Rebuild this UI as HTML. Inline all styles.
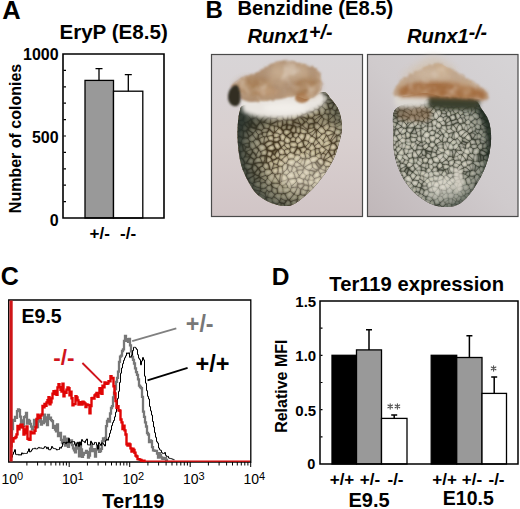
<!DOCTYPE html>
<html><head><meta charset="utf-8"><style>
html,body{margin:0;padding:0;background:#fff;width:520px;height:509px;overflow:hidden}
svg{display:block;font-family:"Liberation Sans",sans-serif}
</style></head><body>
<svg width="520" height="509" viewBox="0 0 520 509" font-family="Liberation Sans, sans-serif">
<rect width="520" height="509" fill="#fff"/>
<text x="2.2" y="19" font-size="25.5" font-weight="bold" text-anchor="start" fill="#000" >A</text>
<text x="59.4" y="38.6" font-size="20.6" font-weight="bold" text-anchor="start" fill="#000" >EryP (E8.5)</text>
<text x="58.6" y="59.8" font-size="16" font-weight="bold" text-anchor="end" fill="#000" >1000</text>
<text x="58.6" y="142.9" font-size="16" font-weight="bold" text-anchor="end" fill="#000" >500</text>
<text x="58.6" y="226" font-size="16" font-weight="bold" text-anchor="end" fill="#000" >0</text>
<text transform="translate(20.6,138.5) rotate(-90)" font-size="16" font-weight="bold" text-anchor="middle">Number of colonies</text>
<rect x="85" y="80.4" width="28.5" height="137.6" fill="#999" stroke="#000" stroke-width="1.3"/>
<rect x="113.5" y="91.2" width="29.3" height="126.8" fill="#fff" stroke="#000" stroke-width="1.3"/>
<path d="M99 80.4V68.6M95.5 68.6H102.5" stroke="#000" stroke-width="1.3" fill="none"/>
<path d="M128.3 91.2V74.7M124.80000000000001 74.7H131.8" stroke="#000" stroke-width="1.3" fill="none"/>
<path d="M63 54H164V218H63Z" fill="none" stroke="#000" stroke-width="1.6"/>
<path d="M63.5 70.4H66M63.5 86.8H66M63.5 103.2H66M63.5 119.6H66M63.5 136H66M63.5 152.4H66M63.5 168.8H66M63.5 185.2H66M63.5 201.6H66" stroke="#000" stroke-width="1.2"/>
<text x="89.5" y="238.5" font-size="17" font-weight="bold" text-anchor="start" fill="#000" >+/-</text>
<text x="120" y="238.5" font-size="17" font-weight="bold" text-anchor="start" fill="#000" >-/-</text>
<text x="205.6" y="17.6" font-size="24" font-weight="bold" text-anchor="start" fill="#000" >B</text>
<text x="237.4" y="15.4" font-size="20.2" font-weight="bold" text-anchor="start" fill="#000" >Benzidine (E8.5)</text>
<text x="247.4" y="42.7" font-size="20.2" font-weight="bold" text-anchor="start" fill="#000" font-style="italic" >Runx1<tspan font-size="19.5" dy="-3.3">+/-</tspan></text>
<text x="407" y="43" font-size="20.2" font-weight="bold" text-anchor="start" fill="#000" font-style="italic" >Runx1<tspan font-size="19.5" dy="-3.8">-/-</tspan></text>
<defs><linearGradient id="bgL" x1="0" y1="0" x2="0" y2="1"><stop offset="0" stop-color="#d8d5d7"/><stop offset="0.5" stop-color="#d9d0d0"/><stop offset="1" stop-color="#d1c5c6"/></linearGradient><linearGradient id="bgR" x1="1" y1="0" x2="0" y2="1"><stop offset="0" stop-color="#d6d4d6"/><stop offset="0.5" stop-color="#d0cbcd"/><stop offset="1" stop-color="#c0b7b9"/></linearGradient><filter id="bl1" x="-20%" y="-20%" width="140%" height="140%"><feGaussianBlur stdDeviation="1"/></filter><filter id="bl2" x="-20%" y="-20%" width="140%" height="140%"><feGaussianBlur stdDeviation="2"/></filter><filter id="bl3" x="-30%" y="-30%" width="160%" height="160%"><feGaussianBlur stdDeviation="3.5"/></filter><filter id="blm"><feGaussianBlur stdDeviation="0.75"/></filter><filter id="blL"><feGaussianBlur stdDeviation="1"/></filter><filter id="fuzz" x="-20%" y="-30%" width="140%" height="160%"><feTurbulence type="fractalNoise" baseFrequency="0.35" numOctaves="2" seed="4" result="n"/><feDisplacementMap in="SourceGraphic" in2="n" scale="5" xChannelSelector="R" yChannelSelector="G" result="d"/><feGaussianBlur in="d" stdDeviation="0.9"/></filter><filter id="fuzz2" x="-20%" y="-30%" width="140%" height="160%"><feTurbulence type="fractalNoise" baseFrequency="0.25" numOctaves="2" seed="9" result="n"/><feDisplacementMap in="SourceGraphic" in2="n" scale="4" xChannelSelector="R" yChannelSelector="G" result="d"/><feGaussianBlur in="d" stdDeviation="0.8"/></filter><linearGradient id="capL" x1="0" y1="0" x2="0" y2="1"><stop offset="0" stop-color="#c9b196"/><stop offset="0.5" stop-color="#c0a181"/><stop offset="1" stop-color="#b48b67"/></linearGradient><linearGradient id="capR" x1="0" y1="0" x2="0" y2="1"><stop offset="0" stop-color="#d7cbbd"/><stop offset="0.35" stop-color="#cdb298"/><stop offset="0.7" stop-color="#bf8f62"/><stop offset="1" stop-color="#b07a4a"/></linearGradient><radialGradient id="edgeL" cx="0.62" cy="0.5" r="0.62"><stop offset="0.5" stop-color="#26302a" stop-opacity="0"/><stop offset="0.85" stop-color="#26302a" stop-opacity="0.55"/><stop offset="1" stop-color="#26302a" stop-opacity="0.9"/></radialGradient><radialGradient id="edgeR" cx="0.4" cy="0.45" r="0.62"><stop offset="0.6" stop-color="#1f2b24" stop-opacity="0"/><stop offset="0.88" stop-color="#1f2b24" stop-opacity="0.35"/><stop offset="1" stop-color="#1f2b24" stop-opacity="0.85"/></radialGradient><filter id="mottle" x="0" y="0" width="100%" height="100%"><feTurbulence type="fractalNoise" baseFrequency="0.055" numOctaves="3" seed="5"/><feColorMatrix type="matrix" values="0 0 0 0 0.6  0 0 0 0 0.42  0 0 0 0 0.26  1.6 0 0 0 -0.72"/><feGaussianBlur stdDeviation="0.8"/></filter><filter id="mottle2" x="0" y="0" width="100%" height="100%"><feTurbulence type="fractalNoise" baseFrequency="0.06" numOctaves="3" seed="12"/><feColorMatrix type="matrix" values="0 0 0 0 0.86  0 0 0 0 0.8  0 0 0 0 0.74  1.5 0 0 0 -0.8"/><feGaussianBlur stdDeviation="0.8"/></filter></defs>
<rect x="211.5" y="54.5" width="151" height="162" fill="url(#bgL)" stroke="#4a4a4a" stroke-width="1.2"/>
<clipPath id="cbL"><path d="M239.5 112 239.1 113.8 238.7 115.9 238.4 118.2 238.1 120.8 237.9 123.3 237.7 126 237.6 128.5 237.5 131 237.5 133.4 237.5 135.8 237.6 138.3 237.7 140.7 237.8 143.1 238 145.5 238.3 147.8 238.5 150 238.8 152.2 239 154.2 239.3 156.3 239.7 158.2 240 160.2 240.5 162.1 240.9 164.1 241.5 166 242.1 167.9 242.8 169.9 243.6 171.8 244.4 173.8 245.3 175.6 246.2 177.5 247.1 179.3 248 181 248.9 182.7 249.8 184.3 250.8 185.9 251.7 187.4 252.7 188.9 253.8 190.4 254.8 191.7 256 193 257.2 194.2 258.5 195.4 259.8 196.4 261.2 197.5 262.6 198.4 264 199.3 265.5 200.2 267 201 268.5 201.8 270.1 202.5 271.8 203.2 273.4 203.8 275.1 204.3 276.8 204.8 278.4 205.2 280 205.5 281.5 205.7 283 205.9 284.5 206.1 286 206.1 287.5 206 289 205.8 290.5 205.5 292 205 293.6 204.3 295.2 203.4 296.9 202.3 298.6 201.2 300.2 199.9 301.9 198.6 303.5 197.3 305 196 306.5 194.7 307.9 193.4 309.3 192.1 310.7 190.8 312 189.4 313.4 187.9 314.7 186.5 316 185 317.3 183.5 318.6 181.9 319.9 180.3 321.2 178.7 322.4 177 323.7 175.4 324.9 173.7 326 172 327.1 170.3 328.2 168.5 329.3 166.8 330.3 165 331.3 163.2 332.3 161.5 333.2 159.7 334 158 334.7 156.4 335.4 154.8 336 153.2 336.5 151.7 337 150.1 337.5 148.5 338 146.8 338.5 145 339 143.1 339.6 141 340.2 138.9 340.7 136.8 341.2 134.6 341.6 132.3 341.9 130.2 342 128 342 125.8 341.8 123.6 341.6 121.4 341.2 119.2 340.8 117 340.3 114.9 339.7 112.9 339 111 338.2 109.2 337.4 107.5 336.4 105.9 335.4 104.4 334.3 102.9 333.2 101.5 332.1 100.2 331 99 330 97.8 329.1 96.5 328.3 95.2 327.4 94 326.4 93 325.2 92.3 323.8 91.9 322 92 319.9 92.7 317.6 93.9 315.1 95.5 312.3 97.4 309.4 99.4 306.4 101.3 303.2 102.8 300 104 296.6 104.7 292.9 105.3 289.1 105.6 285.2 105.8 281.2 105.9 277.3 105.9 273.6 106 270 106 266.5 106 262.9 105.8 259.4 105.5 256 105.2 252.7 104.9 249.8 104.8 247.2 104.8 245 105 243.4 105.4 242.2 105.9 241.4 106.5 240.8 107.2 240.4 108.1 240.2 109.2 239.9 110.5Z"/></clipPath>
<path d="M239.5 112 239.1 113.8 238.7 115.9 238.4 118.2 238.1 120.8 237.9 123.3 237.7 126 237.6 128.5 237.5 131 237.5 133.4 237.5 135.8 237.6 138.3 237.7 140.7 237.8 143.1 238 145.5 238.3 147.8 238.5 150 238.8 152.2 239 154.2 239.3 156.3 239.7 158.2 240 160.2 240.5 162.1 240.9 164.1 241.5 166 242.1 167.9 242.8 169.9 243.6 171.8 244.4 173.8 245.3 175.6 246.2 177.5 247.1 179.3 248 181 248.9 182.7 249.8 184.3 250.8 185.9 251.7 187.4 252.7 188.9 253.8 190.4 254.8 191.7 256 193 257.2 194.2 258.5 195.4 259.8 196.4 261.2 197.5 262.6 198.4 264 199.3 265.5 200.2 267 201 268.5 201.8 270.1 202.5 271.8 203.2 273.4 203.8 275.1 204.3 276.8 204.8 278.4 205.2 280 205.5 281.5 205.7 283 205.9 284.5 206.1 286 206.1 287.5 206 289 205.8 290.5 205.5 292 205 293.6 204.3 295.2 203.4 296.9 202.3 298.6 201.2 300.2 199.9 301.9 198.6 303.5 197.3 305 196 306.5 194.7 307.9 193.4 309.3 192.1 310.7 190.8 312 189.4 313.4 187.9 314.7 186.5 316 185 317.3 183.5 318.6 181.9 319.9 180.3 321.2 178.7 322.4 177 323.7 175.4 324.9 173.7 326 172 327.1 170.3 328.2 168.5 329.3 166.8 330.3 165 331.3 163.2 332.3 161.5 333.2 159.7 334 158 334.7 156.4 335.4 154.8 336 153.2 336.5 151.7 337 150.1 337.5 148.5 338 146.8 338.5 145 339 143.1 339.6 141 340.2 138.9 340.7 136.8 341.2 134.6 341.6 132.3 341.9 130.2 342 128 342 125.8 341.8 123.6 341.6 121.4 341.2 119.2 340.8 117 340.3 114.9 339.7 112.9 339 111 338.2 109.2 337.4 107.5 336.4 105.9 335.4 104.4 334.3 102.9 333.2 101.5 332.1 100.2 331 99 330 97.8 329.1 96.5 328.3 95.2 327.4 94 326.4 93 325.2 92.3 323.8 91.9 322 92 319.9 92.7 317.6 93.9 315.1 95.5 312.3 97.4 309.4 99.4 306.4 101.3 303.2 102.8 300 104 296.6 104.7 292.9 105.3 289.1 105.6 285.2 105.8 281.2 105.9 277.3 105.9 273.6 106 270 106 266.5 106 262.9 105.8 259.4 105.5 256 105.2 252.7 104.9 249.8 104.8 247.2 104.8 245 105 243.4 105.4 242.2 105.9 241.4 106.5 240.8 107.2 240.4 108.1 240.2 109.2 239.9 110.5Z" fill="#38331f" filter="url(#blm)"/>
<g clip-path="url(#cbL)">
<path d="M239.5 112 239.1 113.8 238.7 115.9 238.4 118.2 238.1 120.8 237.9 123.3 237.7 126 237.6 128.5 237.5 131 237.5 133.4 237.5 135.8 237.6 138.3 237.7 140.7 237.8 143.1 238 145.5 238.3 147.8 238.5 150 238.8 152.2 239 154.2 239.3 156.3 239.7 158.2 240 160.2 240.5 162.1 240.9 164.1 241.5 166 242.1 167.9 242.8 169.9 243.6 171.8 244.4 173.8 245.3 175.6 246.2 177.5 247.1 179.3 248 181 248.9 182.7 249.8 184.3 250.8 185.9 251.7 187.4 252.7 188.9 253.8 190.4 254.8 191.7 256 193 257.2 194.2 258.5 195.4 259.8 196.4 261.2 197.5 262.6 198.4 264 199.3 265.5 200.2 267 201 268.5 201.8 270.1 202.5 271.8 203.2 273.4 203.8 275.1 204.3 276.8 204.8 278.4 205.2 280 205.5 281.5 205.7 283 205.9 284.5 206.1 286 206.1 287.5 206 289 205.8 290.5 205.5 292 205 293.6 204.3 295.2 203.4 296.9 202.3 298.6 201.2 300.2 199.9 301.9 198.6 303.5 197.3 305 196 306.5 194.7 307.9 193.4 309.3 192.1 310.7 190.8 312 189.4 313.4 187.9 314.7 186.5 316 185 317.3 183.5 318.6 181.9 319.9 180.3 321.2 178.7 322.4 177 323.7 175.4 324.9 173.7 326 172 327.1 170.3 328.2 168.5 329.3 166.8 330.3 165 331.3 163.2 332.3 161.5 333.2 159.7 334 158 334.7 156.4 335.4 154.8 336 153.2 336.5 151.7 337 150.1 337.5 148.5 338 146.8 338.5 145 339 143.1 339.6 141 340.2 138.9 340.7 136.8 341.2 134.6 341.6 132.3 341.9 130.2 342 128 342 125.8 341.8 123.6 341.6 121.4 341.2 119.2 340.8 117 340.3 114.9 339.7 112.9 339 111 338.2 109.2 337.4 107.5 336.4 105.9 335.4 104.4 334.3 102.9 333.2 101.5 332.1 100.2 331 99 330 97.8 329.1 96.5 328.3 95.2 327.4 94 326.4 93 325.2 92.3 323.8 91.9 322 92 319.9 92.7 317.6 93.9 315.1 95.5 312.3 97.4 309.4 99.4 306.4 101.3 303.2 102.8 300 104 296.6 104.7 292.9 105.3 289.1 105.6 285.2 105.8 281.2 105.9 277.3 105.9 273.6 106 270 106 266.5 106 262.9 105.8 259.4 105.5 256 105.2 252.7 104.9 249.8 104.8 247.2 104.8 245 105 243.4 105.4 242.2 105.9 241.4 106.5 240.8 107.2 240.4 108.1 240.2 109.2 239.9 110.5Z" fill="#ddd3b5"/>
<defs>
<path id="mL0" d="M301.9 201.9Q300 200.1 297.6 198.8M305.8 196.8Q306.1 195.4 304.7 195.2M272.4 202.1Q271.4 203.3 270.3 204.3M296.9 202.1Q295.7 203.7 295.3 205.6M297.6 198.8Q298 199.6 297.1 199.6M297.6 195.8Q295.6 195.5 294.1 194.2M291.5 209.3Q291.8 207.4 291.3 205.5M258 194.8Q258.2 195.5 257.5 195.7M341.2 130.1Q342 131.3 341.2 132.6M337.5 156.6Q335.9 158.3 334.3 160M337.4 155Q337.4 155.8 337.5 156.6M332 162.5Q331.3 162 331.4 162.8M331.4 162.8Q331.2 164.9 330 166.5M331.2 168.8Q331.1 167.4 330 166.5M333.5 160.1Q332.9 161.4 332 162.5M263.4 200.2Q262.5 202.2 262.8 204.3M271.9 198.4Q272.3 200.2 272.4 202.1M335.2 114.5Q337.6 116.4 340.7 116.9M335.5 119.5Q337.2 120.6 339.1 120M326 149.6Q326.9 150.9 328.4 150.7M335.7 128.4Q335.5 128 335.5 127.6M335.5 127.6Q338.9 125.8 342.2 123.9M340 121.8Q341.4 122.4 342.2 123.7M342.2 123.9Q341.9 123.8 342.2 123.7M329.7 126.4Q332.5 126.7 335.2 127.2M334.1 122.1Q334.8 123.1 335 124.2M335 124.2Q335.8 125.6 335.2 127.2M335.5 127.6Q335.8 127.1 335.2 127.2M291.4 187.7Q291.3 186.9 291.4 186.1M290.4 191Q290.5 190.1 290.5 189.3M290.5 189.3Q290.3 188.1 291.4 187.7M290.5 189.3Q289.5 188 287.8 187.5M288.4 180.1Q290.5 182.8 291.4 186.1M318.6 184.4Q320.3 181 320.8 177.2M318.6 184.4Q318.8 184.9 319.3 185.1M324.1 178.8Q322.6 177.7 320.8 177.2M314 180.1Q313.2 181.3 314.3 182.3M314.3 182.3Q316.6 183 318.6 184.4M311.3 185.4Q310 185.4 308.7 186.1M319.5 186.4Q316.4 186.7 313.9 188.4M308.6 179.9Q311.3 180.7 314 180.1M263.4 200.2Q260.2 199.8 257.5 198M266 198Q266.3 197.9 266.2 197.6M259.2 193.5Q262.9 195.2 266.2 197.6M260.4 188.1Q261.3 188 260.8 188.7M259.2 193.5Q258.9 192.1 260 191.1M278.6 166.3Q278.6 167 277.9 167.2M324.1 178.8Q325.1 176.5 327.5 175.3M326 171.9Q326.2 173.1 327.4 172.9M330.6 171.3Q328.7 171.5 327.4 172.9M309.7 174.6Q309.5 172.5 309.2 170.5M309.2 170.5Q309.4 170.4 309.6 170.3M312.5 167.3Q311.3 169 309.6 170.3M306.3 175.7Q307.9 175 309.7 174.6M306.3 175.7Q304 174.4 302.8 172.1M302.8 172.1Q302.2 171 302.9 170M328.1 120.5Q326.1 119.3 323.8 118.9M319 158.7Q317.7 156.7 315.5 155.9M315.5 155.9Q315.7 155.4 315.6 154.9M311.8 162.9Q310.6 160.8 309.4 158.6M309.4 158.6Q309.7 157.8 310.3 157.2M326.3 135.1Q325.3 134.3 324.9 133.1M323.1 140.5Q320.7 139.5 319.4 137.3M319 148.5Q321 148.2 322 146.5M322.2 146.5Q322.1 146.6 322 146.5M316.6 138.3Q316.6 138.7 316.2 138.6M324.1 142.4Q323.6 144.6 322.2 146.5M311.1 135.9Q309 138.2 308.4 141.3M309 142.4Q309.9 143.7 311.4 143.7M306 158.7Q305.5 158.6 305.3 159.1M269.1 191.9Q267.8 194.4 267.4 197.2M267.4 197.2Q266.7 196.3 266.5 197.4M266.2 197.6Q266.7 197.9 266.5 197.4M265.7 188Q266.6 189.1 267.1 190.4M286 183.9Q284.3 185.3 282 185.9M287.8 187.5Q285.2 188.4 282.7 187.3M282.7 187.3Q283.1 190.3 283.2 193.4M280.9 198.6Q280.3 196.2 281.6 194.1M279.6 183Q279.2 182.8 279.4 182.5M279.6 183Q280.4 181.9 281.6 181.4M282.7 173.6Q281.6 177.5 281.6 181.4M283 172.5Q282.3 173 282.9 173.6M282.7 173.6Q282.9 173.9 282.9 173.6M310.1 155.5Q307.7 153.3 304.6 152.1M315.1 149.2Q312.8 149.8 310.6 150.8M324.1 142.4Q326.5 140.9 329.3 140.5M281.6 181.4Q285.2 181.1 288.2 179M304.2 152.4Q302.7 153.4 301.2 152.5M300.8 157.9Q301 156.1 299.5 155.2M301.2 152.5Q299.7 153.5 299.5 155.2M289.7 172.2Q291 172.7 291.4 171.4M271.7 182.5Q273.4 179.4 274.9 176.1M282 185.9Q280.5 186 280 184.6M288.5 179.3Q288.2 179.3 288.2 179M271.7 182.5Q269.8 180.3 267.5 178.3M265.4 175.5Q264.4 173.7 264.2 171.7M336.6 135.1Q335.5 134.4 334.5 133.5M296.8 171Q294.8 171.1 293.7 172.7M291.4 171.4Q293 171.3 293.7 172.7M287.1 155.1Q287.1 157.5 288.6 159.3M293.7 159Q295 157.2 295.1 154.9M297.1 161.7Q296.4 161.7 295.7 161.8M293.7 159Q294.7 160.4 295.7 161.8M302.7 158.6Q302.2 161.6 300.2 163.9M280 184.6Q277.8 186.2 277.1 188.8"/>
<path id="mL1" d="M235.4 118.4Q235.6 118.7 235.9 118.4M238 120.7Q237.1 119.4 235.9 118.4M241.2 129.7Q237.9 128.6 235.4 126M241.2 129.7Q241.4 129.1 241.8 129.5M244.7 122.9Q243.6 121.5 243 119.9M232.9 128.4Q234.9 130.3 236.3 132.7M236.3 132.7Q236.1 133.5 236.3 132.7M300.3 194.4Q302.4 195.7 304.7 195.2M300.3 194.4Q299.3 195.7 297.6 195.8M301.9 201.9Q304 199.5 305.8 196.8M297.6 195.8Q298.1 197.3 297.6 198.8M236.3 132.7Q237.1 134.7 238.8 136.2M243.2 138.1Q243.1 138.5 242.7 138.4M242.7 138.4Q241 140.3 240.9 142.9M251 119.2Q249 116.9 246.8 114.7M248.5 111.8Q247.8 109 245.6 107.2M243.5 109Q244.1 107.6 245.6 107.2M238.4 109.2Q240.6 106.6 242.2 103.6M253.1 118.4Q252.6 115.1 252.1 111.8M257 116Q255 114.2 254.5 111.5M248.5 111.8Q249.3 112.1 249.7 111.4M249.7 111.4Q251.1 110.8 252.1 111.8M261.5 112Q259.5 109.4 256.4 108.4M261.5 112Q259.7 114.5 257 116M286.5 206.8Q286 206.8 285.5 206.7M272.4 202.1Q274.4 203.7 277 204.2M277 204.2Q277.2 206.7 276.7 209.3M335.6 113.2Q339.2 113.4 342.8 113.4M335.6 113.2Q336.2 112.1 335.7 111M335.7 111Q336.3 110.7 336.6 110.2M342.8 113.4Q341.9 111.9 341.6 110.2M336.6 110.2Q339.1 109.2 341.6 110.2M308.6 128.3Q311.5 128.8 314.1 127.5M296.9 202.1Q298 200.9 297.1 199.6M297.1 199.6Q293.6 200 290.6 201.8M295.3 205.6Q293.3 205.1 291.3 205.5M290.6 201.8Q291.3 203.6 291.2 205.5M291.3 205.5Q291.4 205.3 291.2 205.5M302 206.1Q300 203.4 296.9 202.1M294.1 194.2Q294.1 193.9 294 194.1M294 194.1Q291.5 197 289.3 200.1M294 194.1Q291.7 193.1 290.4 191M287.9 199.7Q288.4 200.4 289.3 200.1M287.9 199.7Q286.1 196.8 284.9 193.7M290.4 191Q287.8 192.8 284.9 193.7M305.8 196.8Q307.1 197.1 307.8 198.2M304.7 195.2Q306.9 193.5 307.5 190.8M301.6 188.6Q304.2 190.6 307.5 190.8M257.5 198Q256.8 196.8 257.5 195.7M258 194.8Q255.1 191.9 251.8 189.5M251.8 189.5Q250 190.1 249 191.8M251.7 105.7Q254.1 106.6 256.3 107.6M279.6 136.7Q276.9 137.9 273.9 137.8M273.9 137.8Q273 139.8 273.7 141.8M264.8 115.9Q267 116 268.4 117.7M263.8 122.2Q262.2 122.3 260.6 122M270.1 124.2Q271.2 121.3 270.4 118.2M270.1 124.2Q266.9 123.5 263.8 122.2M270.4 118.2Q269.6 117.1 268.4 117.7M341.2 130.1Q343.3 129.5 344.2 127.5M341.2 132.6Q343.3 134 345.8 134.5M339.6 153.2Q338.9 154.7 337.4 155M333.5 160.1Q333.9 159.9 334.3 160M333.5 160.1Q331.8 158.4 331.5 156M337.4 155Q335.8 155.2 334.5 154.1M334.5 154.1Q332.7 154.6 331.5 156M324.3 160.2Q327.7 158.1 331.1 155.8M324.3 160.2Q328.1 160.8 331.4 162.8M331.1 155.8Q330.9 156.8 331.5 156M267.9 203.4Q268.8 204.7 270.3 204.3M267.9 203.4Q267.1 200.6 266 198M263.4 200.2Q264.6 199 266 198M286.1 200.9Q283.4 199.9 280.9 198.6M280.9 198.6Q280.6 200.1 279.5 201.1M279.5 201.1Q279.3 201.7 279.5 202.3M285.5 206.7Q284.1 205.7 284.1 203.9M287.9 199.7Q287.5 201 286.1 200.9M281 209.8Q280.3 206.5 281.2 203.2M277 204.2Q278.1 203.1 279.5 202.3M271.9 198.4Q273.2 198 273.7 196.8M273.7 196.8Q277.2 198.2 279.5 201.1M335.2 114.5Q334.7 113.6 335.6 113.2M344.1 115.1Q342.4 116.1 340.7 116.9M335.2 114.5Q333.9 114.5 334 115.7M334 115.7Q334.8 117.5 335.5 119.5M340.7 116.9Q340.6 118.8 339.1 120M323.1 153.3Q324.7 153.5 325.9 154.6M323.1 153.3Q324.2 151.2 326 149.6M325.9 154.6Q326.7 152.7 328.6 151.7M328.4 150.7Q329.2 151.1 328.6 151.7M323.5 159.8Q324.2 157 325.9 154.6M324 160.2Q324.1 159.3 324.3 160.2M328.4 150.7Q328.6 150 329.4 150M334.9 150.2Q332.1 150.3 329.4 150M323.3 147.1Q327.8 145.8 331.7 143.4M323.3 147.1Q325 148 326 149.6M329.4 150Q330 146.4 331.7 143.4M317.2 129.9Q319.6 128.4 321 126M317.2 129.9Q318.9 132.7 321.8 134.2M321.8 134.2Q323.3 133.5 324.9 133.1M322.6 126.6Q322.4 125.5 321.3 126M322.6 126.6Q323.7 129.1 325.6 131M325.6 131Q326.1 132.3 324.9 133.1M314.1 127.5Q315.4 127.9 315.1 129.2M317.3 122.7Q319.1 124.4 321 126M335.7 128.4Q338.4 129.6 341.2 130.1M344.2 127.5Q342.9 125.9 342.2 123.9M346.5 119.4Q343.9 121.1 342.2 123.7M339.1 120Q339.6 120.9 340 121.8M329.7 126.4Q328.7 124.6 328.4 122.6M328.4 122.6Q328.6 122.1 328.5 121.5M328.5 121.5Q331.2 122.8 334.1 122.1M327.4 130.2Q331.2 130.4 334.3 132.5M327.4 130.2Q329.2 128.8 329.7 126.4M334.3 132.5Q335.4 130.5 335.7 128.4M327.4 130.2Q326.4 130.4 325.6 131M322.6 126.6Q325.5 124.7 328.4 122.6M335.5 119.5Q335.7 121.2 334.1 122.1M340 121.8Q337.7 123.3 335 124.2M291.4 187.7Q294.5 187.3 297.6 187M291.4 186.1Q294.2 184.1 296.6 181.6M297.6 187Q297.7 187 297.7 186.9M298 183.8Q297.9 182.4 296.6 181.6M294.1 194.2Q296.3 190.8 297.6 187M286 183.9Q287.8 182.4 288.4 180.1M286 183.9Q287.8 185.3 287.8 187.5M300.5 189.3Q299.7 187.5 297.7 186.9M274.7 154.9Q275.3 156.9 276.9 158.2M278.3 150Q278.3 152.7 280 154.7M276.9 158.2Q277.7 157.7 278.6 158.1M280 154.7Q279.3 156.4 278.6 158.1M277.4 164.7Q275.6 164.2 273.8 163.8M277.4 164.7Q278 161.8 279.3 159.1M273.8 163.8Q272.6 162.5 272.2 160.8M272.4 160.3Q271.8 160.4 272.2 160.8M278.6 158.1Q278.9 158.6 279.3 159.1M278.6 166.3Q278.6 165.1 277.4 164.7M278.6 166.3Q280.4 166.1 282.2 166.5M282.2 166.5Q283.1 164.7 284.7 163.5M284.7 163.5Q283.6 161.2 281.3 160.2M281.3 160.2Q280.3 159.6 279.3 159.1M314 180.1Q314.4 179.3 314.4 178.5M314.4 178.5Q317.4 178 320 176.4M320 176.4Q319.8 177.4 320.8 177.2M308.1 190.3Q308.3 188.2 308.6 186.1M308.1 190.3Q310.6 191.2 312.7 193M313.9 188.4Q314.6 190.5 314.8 192.6M313.9 188.4Q311.9 187.5 311.3 185.4M308.7 186.1Q309 186.5 308.6 186.1M307.5 190.8Q308.2 191 308.1 190.3M314.3 182.3Q313.2 184.3 311.3 185.4M307.5 180.4Q308.4 181 308.6 179.9M307.5 180.4Q308.5 183.2 308.7 186.1M303.6 179.4Q304.1 181.6 303 183.6M303.6 179.4Q304.5 179.8 304.9 178.9M304.9 178.9Q305.7 180.5 307.5 180.4M311.8 162.9Q313.5 162.6 315.2 162.5M311.8 162.9Q312.4 163.2 311.8 163M317 170.1Q314.5 169.1 312.5 167.3M311.8 163Q312.5 165 312.5 167.3M258 194.8Q258.2 193.8 259.2 193.5M260.4 188.1Q256.6 187.6 253.3 185.4M260.8 188.7Q261.4 190 260.2 190.8M251.9 189.4Q252.2 187.3 253.3 185.4M251.9 189.4Q256 190.1 260 191.1M260 191.1Q259.8 190.7 260.2 190.8M251.8 189.5Q252.3 189.8 251.9 189.4M273.8 163.8Q272.9 166.2 272.5 168.6M272.5 168.6Q275.1 167.5 277.9 167.2M272.2 160.8Q269.6 161.1 268 163M269.5 168.9Q270.6 169.3 271.4 170M272.5 168.6Q272.1 169.4 271.4 170M242.6 158.9Q244 158.2 244.7 156.8M244.7 163.4Q245.6 163.8 246.3 163.2M244.7 156.8Q247.4 157.3 250 156.7M273 135.4Q270 135.4 267.3 136.6M267.3 136.6Q267.8 138.8 269 140.8M247.8 138.2Q248.7 139.9 249.8 141.5M249.8 141.5Q251.4 142.1 253.1 141.6M252.3 134.4Q254.2 136.5 255.8 138.9M253.1 141.6Q254.2 140 255.8 138.9M249.2 143.1Q249.6 142.4 249.8 141.5M249.2 143.1Q246 143 243.2 144.5M241.1 143.5Q239.8 146.8 237.6 149.6M240.2 151.8Q242 151.9 243.5 150.8M241.3 158.3Q239.9 155.2 240.2 151.8M241.3 158.3Q239 159.4 236.6 158.8M245.6 107.2Q244.7 105.5 245.6 103.8M251.7 105.7Q250.7 105.6 251.1 104.6M251.1 104.6Q248.3 104.6 245.6 103.8M304.8 122.2Q305.5 121.4 306.5 121.6M306.5 121.6Q307.9 120.8 307.6 119.2M280.3 134.6Q282.2 134.4 283.1 132.7M280.3 134.6Q279.4 135.5 279.6 136.7M280.3 140.3Q282 141.5 284 141M284 141Q284.5 138.2 286.3 135.9M268.7 128.7Q269 128.7 268.8 128.9M268.7 128.7Q269.7 126.9 270.3 124.8M270.3 124.8Q272.5 125 274.4 126.1M274.4 126.1Q274.2 129.3 274.6 132.5M270.1 124.2Q269.8 124.6 270.3 124.6M270.3 124.6Q269.7 124.8 270.3 124.8M264.1 128.2Q266.4 128.3 268.7 128.7M273 135.4Q272.7 134.1 273.5 133.1M280.3 134.6Q277.7 132.8 274.5 132.6M270.5 118.2Q270.1 117.8 270.4 118.2M270.5 118.2Q273.4 118.3 276.4 118.5M277.6 120.7Q277.7 119.2 276.4 118.5M274.5 104.8Q275.1 103.5 276.5 103.1M280 154.7Q282.7 155.2 285.3 154.2M281.3 160.2Q283.6 157.2 286.8 155M285.3 154.2Q286.3 154.2 286.8 155M326 171.9Q323.1 172.8 320.2 173.6M320.2 173.6Q321 175.1 320 176.4M327.5 175.3Q327.9 174.1 327.4 172.9M325.7 170.7Q325.8 168.8 326 166.8M325.7 170.7Q322.2 170.1 319.4 167.9M326 166.8Q324.3 166.1 323.5 164.4M330 166.5Q327.9 166.3 326 166.8M326 171.9Q326.2 171.2 325.7 170.7M318.1 170Q319.1 171.8 320.2 173.6M312.5 175.7Q311.4 175 310.1 174.8M309.7 174.6Q309.9 174.8 310.1 174.8M314.4 178.5Q312.7 177.6 312.5 175.7M308.6 179.9Q309.1 177.3 310.1 174.8M304.9 178.9Q305.5 177.3 306.3 175.7M302.9 170Q302.9 168.6 304.1 167.9M304.1 167.9Q306.3 169.8 309.2 170.5M311.8 163Q307.7 164.8 304.1 167.6M304.1 167.9Q304.9 167.7 304.1 167.6M335.7 111Q333.3 110.5 331.9 108.6M321.3 126Q322.3 122.4 323.8 118.9M328.5 121.5Q327.6 121.3 328.1 120.5M317.3 122.7Q319.2 119.5 321.9 116.8M323.8 118.9Q323.3 117.5 321.9 116.8M309.1 124.5Q307.2 123.6 306.5 121.6M307.7 129.8Q304.4 127.9 302.3 124.8M319 158.7Q320.1 158.8 321.1 158.5M321.1 158.5Q321.2 156.4 321.2 154.4M315.6 154.9Q317.7 153.4 320.2 152.7M321.2 154.4Q320.8 153.5 320.2 152.7M316.9 161.1Q317.8 159.8 319 158.7M310.3 157.2Q312.7 155.9 315.5 155.9M323.5 159.8Q322.4 159 321.1 158.5M323.1 153.3Q321.7 153.1 321.2 154.4M319 148.5Q317.3 148.5 315.5 148.7M319 148.5Q318.7 150.8 320.2 152.7M315.5 148.7Q315.3 149 315.1 149.2M315.1 149.2Q315.6 152 315.6 154.9M326.3 135.1Q325.3 138.1 323.1 140.5M321.8 134.2Q320.8 135.9 319.4 137.3M315.5 148.7Q315.4 147.1 314.3 146M314.3 146Q316.7 144.4 318.9 142.6M318.9 142.6Q320.2 144.8 322 146.5M323.3 147.1Q323.1 146.2 322.2 146.5M316.5 130.7Q314 133.4 311.9 136.2M316.5 130.7Q316.1 134.5 316.6 138.3M311.9 136.2Q314.1 137.3 316.1 138.6M316.1 138.6Q316 137.8 316.2 138.6M319.4 137.3Q318.3 138.5 316.6 138.3M323.1 140.5Q322.8 141.9 324.1 142.4M318.9 142.6Q317 141 316.2 138.6M314.3 146Q313 145.3 313.2 143.9M313.2 143.9Q314.4 141.1 316.1 138.6M311.1 135.9Q310.6 134 308.7 133.4M303.6 140.1Q306.1 140.5 308.4 141.3M305.5 134Q306.5 133.1 307.8 133M307.8 133Q308.4 132.8 308.7 133.4M315.1 129.2Q312.4 132 308.7 133.4M311.9 136.2Q311.4 136.2 311.1 135.9M309 142.4Q308.3 142.1 308.4 141.3M313.2 143.9Q312.4 142.9 311.4 143.7M305.3 146.9Q307.5 144.9 309 142.4M302.7 140.8Q303.1 140.3 303.6 140.1M300.3 132.7Q302.7 134.1 305.5 134M300.3 132.7Q300.4 130.2 300.3 127.7M307.6 131.4Q304.4 128.7 300.3 127.7M307.6 131.4Q306.9 132.2 307.8 133M307.7 129.8Q307.7 130.6 307.6 131.4M244.7 163.4Q244 163.8 244 164.7M244 164.7Q244.3 166.4 244.5 168.1M246.8 178.3Q246.8 177.1 245.9 176.1M245.9 176.1Q243.4 174.6 240.4 174.7M249.4 182.2Q247.9 184.7 245.6 186.2M249.4 182.2Q248.5 180.7 247.9 179.2M306 158.7Q307.7 157.9 309.4 158.6M304.1 167.6Q303.1 167.5 303.4 166.5M303.4 166.5Q304.9 162.9 305.3 159.1M265.1 193.2Q265.1 195.5 266.5 197.4M265.1 193.2Q266 191.8 267.1 190.4M269.1 191.9Q268.3 190.8 267.1 190.4M260.2 190.8Q262.4 192.5 265.1 193.2M260.8 188.7Q263.3 189.1 265.7 188M271.9 198.4Q269.7 197.7 267.4 197.2M282 185.9Q283.2 186.2 282.7 187.3M284.9 193.7Q283.9 194.5 283.2 193.4M281.6 194.1Q282.8 194.6 283.2 193.4M249.4 182.2Q250.9 183.3 252.8 183.7M252.8 183.7Q253.9 184.3 253.3 185.4M268 163Q267.2 163 266.3 162.6M279.4 182.5Q277.2 179.2 274.9 176.1M279.4 182.5Q279.9 178.2 280.6 174M280.6 174Q279.2 172.9 277.7 173.8M277.7 173.8Q276.2 173.7 275 174.5M274.9 176.1Q274.4 175.2 275 174.5M282.7 173.6Q281.8 174.8 280.6 174M282.2 166.5Q282.3 169.5 283 172.5M277.9 167.2Q278.6 170.5 277.7 173.8M271.4 170Q271.8 171.5 272.4 172.9M272.4 172.9Q274 173.2 275 174.5M243.2 144.5Q244.1 146.3 246 147M243.5 150.8Q244 151.3 244.6 151.1M244.6 151.1Q245.1 149 246 147M264.1 128.2Q263.1 129.7 261.5 130.4M252.7 133.2Q254.5 132.5 255.5 130.8M258.5 134.7Q256.4 133.2 255.5 130.8M256.2 129Q256.5 130.2 255.5 130.8M261.5 130.4Q261.5 131.6 262.2 132.6M267.1 132.2Q264.6 132.2 262.2 132.6M267.3 136.6Q267.1 136.4 266.7 136.3M267.1 132.2Q266.7 134.2 266.7 136.3M258.5 134.7Q260 133.4 262 133.9M258.6 139.3Q260.7 137.3 263.5 136.5M263.5 136.5Q264.3 136 264.7 136.9M264.7 136.9Q263.7 140.5 263.9 144.2M253.1 141.6Q255 144.4 256.4 147.5M258 138.9Q258.2 139.3 258.6 139.3M256.8 147.5Q258.4 145.2 260.8 144M262 133.9Q262.2 135.5 263.5 136.5M266.7 136.3Q265.5 135.9 264.7 136.9M251.1 104.6Q252.4 102.6 253.6 100.5M256.3 107.6Q256.5 105.9 258.1 105.3M253.6 100.5Q256.3 102.4 258.1 105.3M274.4 126.1Q276.2 125.8 277.9 126.4M277.6 120.7Q277.5 121.1 277.9 121M277.9 121Q277.1 123.7 277.9 126.4M274.6 132.5Q277.2 130.4 279.1 127.6M281.1 128.1Q280.3 127.2 279.1 127.6M287.9 108.6Q291 109.5 294.2 110.2M291.6 114.2Q293.9 113.3 295.5 111.4M287.7 119.9Q290 119.8 292.2 120.1M292.2 120.1Q291.1 117.2 291.6 114.2M295.7 111.5Q297.7 114 298 117.2M295.7 111.5Q295.4 112.3 295.5 111.4M298 117.2Q298.4 117.9 297.6 117.9M292.2 120.1Q292.3 121 293.1 120.6M287.8 108.5Q284.7 108.4 281.8 109.7M287.8 108.5Q287.4 107.8 287.8 107.2M287.8 107.2Q285 105.3 282.5 102.9M281.8 109.7Q281.3 106.5 281.6 103.4M282.9 114.3Q285.2 113.6 287.5 113.2M287.9 108.6Q287.9 108.5 287.8 108.5M293 103.3Q291.7 104.3 290.2 104M290.2 104Q288.4 105.1 287.8 107.2M284.4 150.4Q285.7 148.8 287.7 148.7M284.4 150.4Q282.4 149.6 281.2 147.8M287.7 148.7Q285.4 147.4 284.2 145M284.2 145Q282.2 145.7 281.3 147.6M285.3 154.2Q284.6 152.3 284.4 150.4M290.8 146.9Q290.7 148.2 289.7 149M290.8 146.9Q289.5 145.3 289.6 143.2M285.1 143Q287.3 144 289.6 143.2M285.1 143Q285.3 144.3 284.2 145M289.7 149Q288.7 148.6 287.7 148.7M284 141Q285.2 141.6 285.1 143M333.4 115.7Q331.3 118.5 328.3 120.2M333.4 115.7Q331.8 114.5 330.1 113.6M328.3 120.2Q329.2 117.2 328.1 114.3M330.1 113.6Q329.4 114.7 328.1 114.3M334 115.7Q333.7 116.4 333.4 115.7M328.1 120.5Q328.1 120.3 328.3 120.2M330 108.9Q329.8 111.3 330.1 113.6M324.9 113.5Q323.3 114.7 321.6 115.9M324.9 113.5Q326.4 114.2 328.1 114.3M321.9 116.8Q321.4 116.5 321.6 115.9M329.4 108.7Q327.7 109.5 325.7 109.9M325.7 109.9Q324.8 111.5 324.9 113.5M295.7 111.5Q297 110.8 298.1 109.8M298 117.2Q299 117.4 299.9 117.1M302.7 100.6Q300.2 103.2 299 106.7M299 106.7Q297.1 104.1 294.7 101.8M303.5 96.8Q306.4 98.8 309.7 100.1M305.8 103Q303.6 102.6 302.7 100.6M305.8 103Q306.3 102.9 305.8 103M299.3 108.3Q298.8 107.6 299 106.7M293 103.3Q294.1 102.9 294.7 101.8M321.6 115.9Q320.7 116.5 320.9 115.5M320.9 115.5Q317.3 117.7 314.1 120.5M300.2 124.1Q299.9 125.2 300.9 125.3M300.9 125.3Q301.2 126.3 300.1 126.4M300.1 126.4Q297.9 127.5 295.5 126.9M297.6 117.9Q298.8 121.1 300.2 124.1M302.3 124.8Q301.4 124.2 300.9 125.3M300.3 127.7Q299.7 127.1 300.1 126.4M298.9 133.6Q297.4 132.8 295.7 132.4M310.1 155.5Q309.4 153 310.6 150.8M310.6 150.8Q309.6 149.1 307.7 149.1M304.6 152.1Q305.8 150.6 306.8 149M306.8 149Q307.4 148.3 307.7 149.1M310.3 157.2Q310.6 156.3 310.1 155.5M306 158.7Q305.6 155.4 304.2 152.4M304.2 152.4Q303.8 151.5 304.6 152.1M311.4 143.7Q310.1 146.9 307.7 149.1M305.3 146.9Q306.1 147.9 306.8 149M326.3 135.1Q327.4 135.1 327.5 136.1M329.3 140.5Q328.9 138.1 327.5 136.1M334.3 132.5Q334.6 132.9 334.5 133.5M327.5 136.1Q330.8 134.2 334.5 133.5M331.7 143.4Q331.3 142.9 331.9 143M238.3 165.9Q238.4 165.7 238.6 165.9M244 164.7Q241.2 164.8 238.6 165.9M242.6 158.9Q242.1 158.2 241.3 158.3M282.9 173.6Q284.4 174.9 286.4 175.3M286.4 175.3Q287 177.3 288.2 179M287.4 168.4Q285.8 171.1 283 172.5M287.4 168.4Q288.4 170.4 289.7 172.2M286.4 175.3Q288.3 174 289.7 172.2M305.3 159.1Q304.1 158.2 302.7 158.6M302.7 158.6Q301.6 158.6 300.8 157.9M284.7 163.5Q285.6 163.6 286.5 163.3M288 164.8Q287.3 164 286.5 163.3M291.4 171.4Q292.7 169.1 292.2 166.4M288 164.8Q290.3 165.1 292.2 166.4M279.6 183Q279.4 183.2 279.5 183.4M271.7 182.5Q272.7 182.8 271.8 183.3M271.8 183.3Q275.6 183.2 279.5 183.4M288.4 180.1Q288.8 179.7 288.5 179.3M279.5 183.4Q279.8 184 280 184.6M272.4 172.9Q270 174.9 267.2 176.2M267.2 176.2Q267.4 177.3 267.5 178.3M260.7 172Q262.5 171.7 264.2 171.7M262.4 166.1Q263.9 167.6 265.2 169.5M265.2 169.5Q265.1 170.8 264.2 171.7M269.5 168.9Q267.3 169.3 265.2 169.5M262.9 163.3Q263.3 163.1 263.7 163M266.3 162.6Q265 162.8 263.7 163M265.4 175.5Q266.3 176 267.2 176.2M262 162.5Q261.4 159.7 259.8 157.3M259.8 157.3Q258.2 157.5 256.5 157.4M266.7 149.1Q263.5 150.2 260.6 151.7M260.6 151.7Q261.8 153.7 261 155.9M263.7 163Q265.3 159.6 265.1 155.8M258.8 150.2Q259.5 151.2 260.6 151.7M258.8 150.2Q257.2 152.9 255.8 155.6M255.8 155.6Q256.1 156.5 256.5 157.4M245.9 152.3Q246.2 152.1 245.8 151.9M245.8 151.9Q248.5 150.3 251.4 149.3M252.4 149.7Q252 149.2 251.4 149.3M250 156.7Q249.4 156 250.1 155.5M244.6 151.1Q244.9 151.9 245.8 151.9M249.5 146.8Q250.9 147.7 251.4 149.3M256.4 147.5Q254.1 148.1 252.4 149.7M293 136.5Q292.2 138.2 290.3 138.4M289.6 143.2Q290 142.2 290.9 141.7M290.9 141.7Q289.7 140.2 290.3 138.4M298.3 136.6Q296.6 136.6 295.9 138.2M298.3 136.6Q300.4 138.5 302.2 140.8M295.9 138.2Q295.6 140 295.3 141.7M302.2 140.8Q300 142.7 297.3 143.8M297.3 143.8Q296.1 143 295.3 141.7M298.9 133.6Q299.2 135.2 298.3 136.6M293 136.5Q294.4 137.3 295.9 138.2M302.7 140.8Q302.5 140.1 302.2 140.8M297.1 146.9Q297.9 145.4 297.3 143.8M297.1 146.9Q294 147.9 290.8 146.9M287 120.3Q285.2 120.4 283.6 119.5M283.6 119.5Q282.9 119.9 282.4 120.5M277.9 121Q280.2 121.5 282.4 120.5M287.7 119.9Q287.2 119.8 287 120.3M282.9 114.3Q282.7 114.9 282.4 115.5M277.9 110.2Q276.6 111.8 276.5 113.8M272.3 113.5Q274.3 114.3 276.5 113.8M277.4 115.6Q276.4 115 276.5 113.8M321.9 106.4Q323.6 108.4 325.7 109.9M321.9 106.4Q322.6 104.1 324.3 102.4M321.9 106.4Q320.8 106 320.2 107M323.5 101.4Q323.6 102.1 324.3 102.4M316.6 99.5Q316.8 101.2 316.1 102.9M309.5 94.4Q310.8 96.8 310.3 99.4M316.6 99.5Q313.5 99.1 310.3 99.4M310.3 99.4Q309.7 99.4 310.1 99.9M314.5 108.5Q314.8 105.7 315.7 103.1M311 106.3Q310.8 105.3 311.1 106.2M316.1 102.9Q316.4 103.7 315.7 103.1M314.5 115.3Q317.1 115.6 319.4 114.2M314.5 115.3Q314.1 113.3 312.7 111.7M312.7 111.7Q314.3 110.9 315.1 109.2M318.5 109.6Q316.9 109 315.1 109.2M320.9 115.5Q319.8 115.2 319.4 114.2M312.3 118Q314.1 117.3 314.5 115.3M314.5 108.5Q315.4 108.4 315.1 109.2M330.9 141.7Q334 138.7 336.6 135.1M330.9 141.7Q330.5 141.3 330.1 140.9M330.1 140.9Q332.2 137.2 334.5 133.5M329.3 140.5Q329.5 141.2 330.1 140.9M334.5 133.5Q334.2 133.7 334.5 133.5M336.7 141.2Q339.4 140.6 342.1 141.3M336.7 141.2Q336.7 138.3 337 135.4M338.6 135.3Q341.3 136.8 343.5 139M338.6 135.3Q337.9 135.9 337 135.4M343.5 139Q342.9 140.2 342.1 141.3M336.6 135.1Q336.8 135.2 337 135.4M341.2 132.6Q339.7 133.7 338.6 135.3M296.8 171Q297.4 173.8 299.4 175.9M293.7 172.7Q295 175.4 295.3 178.4M298.9 177.3Q297.2 177.5 296.1 178.8M298.9 177.3Q298.4 176.3 299.4 175.9M296.1 178.8Q295.4 179.3 295.3 178.4M302.8 172.1Q301.5 174.3 299.4 175.9M302.9 170Q300 169.6 297.1 170.3M297.1 170.3Q296.6 170.4 296.8 171M288.5 179.3Q291.8 178.7 295.3 178.4M303.6 179.4Q301.2 178.5 298.9 177.3M296.6 181.6Q296.9 180.1 296.1 178.8M287.1 155.1Q288.3 153.2 290.3 152.2M288.6 159.3Q291.1 158.6 293.7 159M290.3 152.2Q292 153.4 294.1 153.3M294.1 153.3Q295.1 153.7 295.1 154.9M286.8 155Q286.7 155.8 287.1 155.1M289.7 149Q290 150.6 290.3 152.2M286.5 163.3Q287.4 161.2 288.6 159.3M299.5 155.2Q297.4 154.2 295.1 154.9M296 167.4Q295 166.5 293.8 165.8M296 167.4Q298.9 166.5 301.9 165.7M293.8 165.8Q294 163.5 295.7 161.8M301.9 165.7Q300.8 165.1 300.2 163.9M300.2 163.9Q298.2 163.5 297.1 161.7M297.1 170.3Q297.4 168.5 296 167.4M292.2 166.4Q292.8 165.6 293.8 165.8M303.4 166.5Q302.5 166.5 301.9 165.7M300.8 157.9Q299.3 160.1 297.1 161.7M271.7 191.2Q271.9 189 272.2 186.8M271.7 191.2Q272.7 193.5 275 194.3M272.2 186.8Q274.5 188.1 277.1 188.8M277.1 188.8Q277.4 191 277.6 193.2M275 194.3Q276.3 193.6 277.6 193.2M265.7 188Q266.7 186.8 267.8 185.5M267.8 185.5Q269.7 185.8 271.1 184.6M269.1 191.9Q270.3 191.2 271.7 191.2M273.7 196.8Q274.3 195.5 275 194.3M271.8 183.3Q270.9 183.6 271.1 184.6M281.6 194.1Q279.7 193.2 277.6 193.2M254.4 179.6Q254.5 177.6 253.4 175.9M252.8 183.7Q253.5 183.2 254 182.6M265.4 175.5Q262.7 176.2 260.3 177.6M260.3 177.6Q259.4 177.7 259.5 176.8M259.7 181.1Q260.7 179.6 260.3 177.8M259.7 181.1Q260.8 181.8 260.8 183.1M260.3 177.8Q263 178.9 265.4 180.7M260.8 183.1Q262.9 182.5 265 182.5M265 182.5Q265.3 181.6 265.4 180.7M254 182.6Q256.8 181.7 259.7 181.1M260.4 188.1Q260.2 185.6 260.8 183.1M267.5 178.3Q267.1 180.1 265.4 180.7M267.8 185.5Q266.7 183.7 265 182.5M323.6 90.4Q325.8 89.2 328.2 89.7M327.7 99.5Q327.9 97.7 328.2 95.9M330.3 91.3Q329.2 93.3 328.9 95.6"/>
<path id="mL2" d="M235.4 126Q236.9 124.9 238.2 123.6M238.2 123.6Q237.7 122.2 238 120.7M246 130.6Q244.9 131.4 243.5 130.9M246 130.6Q246.8 130 247.7 129.6M248.3 128Q246.1 126.1 244.3 123.8M241.8 129.5Q242.8 127.8 242.1 125.9M241.8 129.5Q242.2 130.9 243.5 130.9M242.1 125.9Q243.2 124.8 244.3 123.8M238.2 123.6Q240 124.9 242.1 125.9M238 120.7Q240.6 120.7 243 119.9M244.7 122.9Q244.4 123.3 244.3 123.8M241.2 129.7Q238.6 131 236.3 132.7M235.9 118.4Q238.4 116.6 239.8 113.8M244.1 115.2Q243.4 117.5 243 119.9M244.1 115.2Q243.8 115.4 243.8 115M243.8 115Q241.7 114.5 239.8 113.8M246 130.6Q247.6 133.5 249 136.5M243.5 130.9Q243.1 134.5 243.2 138.1M249 136.5Q248.3 137.3 247.8 138.2M247.8 138.2Q245.5 137.3 243.2 138.1M238.8 136.2Q241.2 136.5 242.7 138.4M234.6 140.4Q234.6 140 234.8 139.6M238.8 136.2Q237.2 138.4 234.8 139.6M236 142.2Q238.6 141.7 240.9 142.9M236 142.2Q235.5 141.2 234.6 140.4M236.3 132.7Q235.4 134.6 233.5 135.3M239.8 113.8Q238 112.1 237.7 109.7M237.7 109.7Q237.2 110.1 237 109.5M247.6 122.1Q249.3 120.8 251 119.3M249.9 126.8Q250.3 126.7 250.6 126.6M244.1 115.2Q245.6 115.5 246.8 114.7M244.7 122.9Q246.2 122.6 247.6 122.1M248.3 128Q249.2 127.5 249.9 126.8M243.8 115Q243.3 112 243.5 109M237.7 109.7Q237.5 108.7 238.4 109.2M243.5 109Q240.9 108.2 238.4 109.2M246.8 114.7Q247.7 113.2 248.5 111.8M256.6 117.8Q256.1 116.7 257 116M256.6 117.8Q254.7 117.6 253.1 118.4M254.5 111.5Q253.4 112.4 252.1 111.8M251 119.2Q252.2 119.2 253.1 118.4M256.4 108.4Q256.2 110.4 254.5 111.5M283 210Q285.1 208.9 285.5 206.7M288.5 210.7Q286.8 209.1 286.5 206.8M309.1 124.5Q308.2 126.3 308.6 128.3M309.1 124.5Q311.4 123.2 313.9 123.9M314.1 127.5Q313.9 125.7 313.9 123.9M289.3 200.1Q290.2 200.8 290.6 201.8M286.5 206.8Q288.6 205.3 291.2 205.5M300.3 194.4Q300.6 191.8 300.5 189.3M300.5 189.3Q301.4 189.5 301.6 188.6M249.7 111.4Q251.6 108.9 251.7 105.7M256.4 108.4Q255.7 108.1 256.3 107.6M242.2 103.6Q243.1 102.8 244.3 102.8M279.6 136.7Q280.4 138.4 280.3 140.3M280.3 140.3Q278.7 140.5 278.1 141.9M273.9 142.2Q273.1 142.4 273.7 141.8M264.8 115.9Q262 118.3 260.3 121.6M268.4 117.7Q265.7 119.5 263.8 122.2M260.6 122Q260.4 122 260.4 121.8M260.4 121.8Q260.3 121.7 260.3 121.6M256.7 126.3Q258.5 124 260.4 121.8M256.6 117.8Q257.9 120.3 260.3 121.6M286.1 200.9Q285.5 202.7 284.1 203.9M284.1 203.9Q282.8 202.8 281.2 203.2M281.2 203.2Q280.7 202 279.5 202.3M323.5 159.8Q323.2 160.5 324 160.2M331.1 155.8Q330.1 153.6 328.6 151.7M334.5 154.1Q334 152.1 334.9 150.2M321.3 126Q321.2 125.6 321 126M317.3 122.7Q316.1 122.5 314.9 122.5M314.9 122.5Q314.1 123 313.9 123.9M317.2 129.9Q317 130.9 316.7 130M315.1 129.2Q315.6 130.2 316.7 130M297.7 186.9Q296.9 185.3 298 183.8M303 183.6Q300.5 184.4 298 183.8M303 183.6Q304.3 183.8 304.2 185.2M304.2 185.2Q303 187 301.6 188.6M274.7 154.9Q275.5 151.9 277.8 149.8M278.3 150Q278 150 277.8 149.8M276.9 158.2Q274.9 159.8 272.4 160.3M304.2 185.2Q306.6 184.7 308.6 186.1M315.2 162.5Q317.1 165.4 319.2 168.1M319.2 168.1Q318.9 169.2 318.1 170M318.1 170Q317.5 169.9 317 170.1M274.7 154.9Q274 153.5 272.4 153.6M272.4 160.3Q271.6 158.6 270.4 157.2M270.4 157.2Q272 155.7 272.4 153.6M275.7 149.1Q276.6 149.8 277.8 149.8M272.4 153.6Q273.2 152.4 272.1 151.5M268 163Q269.5 165.8 269.5 168.9M242.6 158.9Q244.1 160.9 244.7 163.4M246.3 163.2Q247.7 159.8 250.2 157.1M250.2 157.1Q250.2 156.9 250 156.7M247.7 129.6Q250.4 131.2 252.7 133.2M249 136.5Q250.4 135 252.3 134.4M252.7 133.2Q253.1 134 252.3 134.4M273 135.4Q273.1 136.7 273.9 137.8M273.7 141.8Q271.4 140.8 269 140.8M266.6 147.9Q269.6 145.3 273.5 144.3M266.6 147.9Q265.8 145.8 264.1 144.3M269 140.8Q266.2 142 264.1 144.3M240.9 142.9Q240.8 143.3 241.1 143.5M243.2 144.5Q242.3 145.2 242 144.2M241.1 143.5Q241.4 144 242 144.2M235.2 149.6Q236.4 148.8 237.6 149.6M237.6 149.6Q238.5 150.8 239.8 151.6M239.8 151.6Q237 153.3 235.6 156.2M235.4 143.1Q235.5 146.4 235.2 149.6M242 144.2Q243 147.4 243.5 150.8M240.2 151.8Q240.3 151 239.8 151.6M244.3 102.8Q244.7 103.3 245.3 103.4M245.6 103.8Q245.8 103.3 245.3 103.4M304.8 122.2Q303 119.1 299.9 117.1M307.6 119.2Q304.6 117 300.8 116.6M300.8 116.6Q300 116.3 299.9 117.1M286.3 135.9Q284.2 134.8 283.1 132.7M268.8 128.9Q271.2 131 273.5 133.1M273.5 133.1Q274 132.9 274.5 132.6M274.5 132.6Q274.4 132.4 274.6 132.5M260.6 122Q263 124.7 264.1 128.2M270.3 124.6Q274.2 123.1 277.6 120.7M271.7 102.9Q272.9 104.2 274.5 104.8M261.5 112Q261.9 111.8 262.4 111.9M264.8 115.9Q263.9 114.4 264 112.6M262.4 111.9Q263.4 111.7 264 112.6M271.5 114Q269.4 113.1 268 111.4M271.5 114Q270.2 115.9 270.5 118.2M264 112.6Q264.6 113 264.7 112.3M323.5 164.4Q322.2 165.1 321.3 166.1M319.2 168.1Q319.6 168.4 319.4 167.9M324 160.2Q324.3 162.4 323.5 164.4M316.9 161.1Q316.5 162.4 315.2 162.5M316.9 161.1Q318.4 164.2 321.3 166.1M312.5 175.7Q313.7 173.7 315.1 171.8M315.1 171.8Q312.4 170.6 309.6 170.3M317 170.1Q316.6 171.7 315.1 171.8M336.6 110.2Q338 108.2 337.5 105.8M331.9 108.6Q333.2 106 334.3 103.4M334.3 103.4Q335.9 104.7 337.5 105.8M341.2 105.1Q339.4 105.3 337.5 105.8M308.6 128.3Q307.8 128.9 307.7 129.8M304.8 122.2Q303.3 123.3 302.3 124.8M316.7 130Q315.9 130.2 316.5 130.7M303.6 140.1Q305.5 137.4 305.5 134M305.3 146.9Q304.6 147 304.4 146.4M304.4 146.4Q303.4 143.6 302.7 140.8M246.7 170.5Q247.3 171.8 247.2 173.3M246.7 170.5Q249.2 169.5 251.7 168.1M247.2 173.3Q250.4 172.5 253.6 172.8M251.7 168.1Q253 170.3 253.6 172.8M252.4 164.5Q253.3 164.8 253.6 163.9M253.6 163.9Q256.5 165.5 258.2 168.4M254.3 173.2Q256.5 171 258.2 168.4M252.4 164.5Q249.3 164.1 246.3 163.2M246.7 170.5Q246.3 168.7 244.5 168.1M246.8 178.3Q245.3 180.1 243.2 180.8M247.9 179.2Q247.7 178.2 246.8 178.3M253.6 163.9Q253.6 163.8 253.7 163.7M250.2 157.1Q252.3 158.3 254.3 159.6M253.7 163.7Q253.1 161.5 254.3 159.6M270.4 157.2Q268.6 156.7 266.9 155.8M266.3 162.6Q266.1 159.2 266.9 155.8M249.2 143.1Q249 145 249.5 146.8M246 147Q247.8 147.7 249.5 146.8M256 128.3Q256.4 128.6 256.2 129M261.5 130.4Q258.9 129.4 256.2 129M255.8 138.9Q256.9 139.8 258 138.9M258 138.9Q258.2 136.8 258.5 134.7M268.8 128.9Q268.8 131 267.1 132.2M262 133.9Q262.8 133.4 262.2 132.6M258.6 139.3Q260.5 141.3 260.8 144M263.9 144.2Q262.4 143.5 260.8 144M256.8 147.5Q256.6 147.8 256.4 147.5M264.1 144.3Q263.7 144.8 263.9 144.2M287.4 124.8Q290.3 124.8 292.9 126M286.6 129Q288.4 130.2 290.5 129.8M277.9 126.4Q278.2 127.3 279.1 127.6M283.1 130.6Q283.6 131.7 283.1 132.7M287.9 108.6Q287.8 110.9 287.5 113.2M291.6 114.2Q290 113.2 288.3 113.9M287.5 113.2Q287.4 114.1 288.3 113.9M295.5 111.4Q295.1 110.6 294.2 110.2M287.7 119.9Q287.5 116.9 288.3 113.9M297.6 117.9Q295.8 120 293.1 120.6M281.6 103.4Q282.4 103.7 282.5 102.9M281.4 110.2Q282 112.3 282.9 114.3M281.4 110.2Q282.2 110.4 281.8 109.7M293 103.3Q294.3 106.7 294.2 110.2M276.5 103.1Q279.1 103.4 281.6 103.4M281.2 147.8Q281.5 147.9 281.3 147.6M278.3 150Q279.5 148.6 281.2 147.8M278.1 141.9Q279.9 144.7 281.3 147.6M273.5 144.3Q274.5 146.8 275.7 149.1M331.9 108.6Q330.8 108.2 330 108.9M330 108.9Q329.5 109.3 329.4 108.7M329.4 108.7Q328.1 106.5 327.9 104M334.3 103.4Q333.7 103 334 102.3M327.9 104Q330.9 102.9 334 102.3M309.5 94.4Q313.3 95.4 317.2 96M317.2 96Q317.7 95.1 318.3 94.3M318.3 94.3Q317.4 91.3 315.2 89.1M303.2 114.3Q305.3 114.4 306.8 112.8M303.2 114.3Q300.9 111.7 298.1 109.8M298.1 109.8Q298.5 108.8 299.3 108.3M306.8 112.8Q307.2 112.3 307 111.8M307.6 119.2Q308 118.3 308.7 117.6M300.8 116.6Q301.6 115 303.2 114.3M308.7 117.6Q308.6 114.9 306.8 112.8M309.7 100.1Q308 101.9 305.8 103M305.8 103Q305 105.7 304.2 108.4M314.9 122.5Q314.3 121.6 314.1 120.5M308.7 117.6Q310.4 118.7 312.3 118M314.1 120.5Q313.5 119 312.3 118M305.8 103Q308.4 104.6 311 106.3M307 111.8Q307.8 112.3 307.9 111.3M307.9 111.3Q309 108.5 311 106.3M300.2 124.1Q296.7 122.9 293.3 121.7M295.5 126.9Q294.8 125.5 293.3 125.8M293.3 121.7Q292.5 123.8 293.3 125.8M293.1 120.6Q292.4 121.3 293.3 121.7M300.3 132.7Q300 133.9 298.9 133.6M295.7 132.4Q296.3 129.6 295.5 126.9M334.9 150.2Q336.2 148.9 337.7 148.1M331.9 143Q333.2 143.1 334.5 143.4M334.5 143.4Q336.6 145.4 337.7 148.1M337.7 148.1Q339 148.8 340.5 148.8M239.9 172.6Q240.4 171.4 241.5 170.9M241.5 170.9Q240.6 168 238.6 165.9M247.2 173.3Q245.7 174.3 245.9 176.1M244.5 168.1Q243.5 170 241.5 170.9M304.4 146.4Q301.8 147.4 299 148.2M301.2 152.5Q300.6 150.1 299 148.2M287.4 168.4Q287.8 166.6 288 164.8M260.7 172Q259.5 170.3 258.7 168.4M258.7 168.4Q260.3 166.8 262.4 166.1M258.2 168.4Q258.5 168.5 258.7 168.4M262.9 163.3Q262.8 162.5 262 162.5M262.9 163.3Q263.5 164.8 262.4 166.1M262 162.5Q257.8 162.6 253.7 163.7M254.3 159.6Q255.7 158.8 256.5 157.4M266.4 155.4Q265.9 156.2 265.1 155.8M266.4 155.4Q267.6 152.9 267.3 150.2M265.1 155.8Q263.1 155.4 261 155.9M266.7 149.1Q267.4 149.5 267.3 150.2M266.9 155.8Q266.3 156 266.4 155.4M259.8 157.3Q259.9 156.1 261 155.9M256.8 147.5Q258.5 148.4 258.8 150.2M245.9 152.3Q247.7 154.3 250.1 155.5M250.1 155.5Q251.8 154 252.6 151.8M252.6 151.8Q252.1 150.8 252.4 149.7M244.7 156.8Q246 154.7 245.9 152.3M255.8 155.6Q254.9 153.1 252.6 151.8M266.3 105.8Q265.1 104.9 264.7 103.4M262.4 111.9Q261.6 107.9 262.4 104M264.7 103.4Q263.5 103.4 262.4 104M258.1 105.3Q260 105.2 261.3 103.7M262.4 104Q261.8 104 261.3 103.7M293 133.2Q292.4 132.3 291.3 132.2M291.3 132.2Q288.9 134.2 286.4 135.9M286.4 135.9Q288 137.6 290.3 138.4M295.7 132.4Q294.5 133.4 293 133.2M290.5 129.8Q290.7 131.1 291.3 132.2M292.9 126Q292.9 125.6 293.3 125.8M286.3 135.9Q286.3 135.6 286.4 135.9M283.1 130.6Q284.7 129.5 286.6 129M290.9 141.7Q293.1 141.6 295.3 141.7M297.1 146.9Q297.6 147 297.4 147.4M299 148.2Q297.8 148.6 297.4 147.4M282.3 125.7Q283 123.1 282.4 120.5M282.3 125.7Q284.8 125.3 287 124.1M287 124.1Q286.4 122.2 287 120.3M281.1 128.1Q281.6 126.8 282.3 125.7M287.4 124.8Q286.5 124.9 287 124.1M282.4 115.5Q282.8 117.5 283.6 119.5M276.4 118.5Q277.5 117.3 277.4 115.6M277.4 115.6Q279.9 116.3 282.4 115.5M277.9 110.2Q275.3 108.9 274.3 106.2M273.7 106.7Q274.5 107.1 274.3 106.2M273.7 106.7Q273.2 110.1 272.3 113.5M281.4 110.2Q279.6 109.2 277.9 110.2M274.5 104.8Q275.3 105.7 274.3 106.2M269.5 108.1Q271.5 107 273.7 106.7M271.5 114Q272.3 114.4 272.3 113.5M322.4 93.4Q323.5 92.1 323.6 90.4M316.9 99.1Q320.4 99.7 323.5 101.4M316.9 99.1Q317 97.5 317.2 96M322.4 93.4Q323.6 93.3 323.2 94.4M323.2 94.4Q322.9 97.9 323.5 101.4M327.9 104Q327 102.4 325.3 102.4M324.3 102.4Q324.8 102.9 325.3 102.4M316.9 99.1Q316.6 99.2 316.6 99.5M320.2 107Q317.6 105.5 316.1 102.9M309.7 100.1Q309.4 99.2 310.1 99.9M314.5 108.5Q313.2 106.7 311.1 106.2M311.1 106.2Q311.6 105 312.5 104.1M315.7 103.1Q314.1 103.6 312.5 104.1M310.1 99.9Q311.6 101.8 312.5 104.1M319.4 114.2Q319.8 111.7 318.5 109.6M320.2 107Q319.3 108.3 318.5 109.6M331.9 143Q331.5 142.3 330.9 141.7M334.5 143.4Q334.9 141.6 336.7 141.2M297.4 147.4Q295.9 150.4 294.1 153.3M271.1 184.6Q271.5 185.8 272.2 186.8M254.4 179.6Q257.2 178.7 259.5 176.8M253.4 175.9Q254.8 175.3 254.5 173.8M254.5 173.8Q256.4 175.4 258.8 175.8M258.8 175.8Q259 176.4 259.5 176.8M247.9 179.2Q250.4 177.1 253.4 175.9M254 182.6Q254.6 181.2 254.4 179.6M254.3 173.2Q253.8 173.8 254.5 173.8M260.7 172Q259.2 173.6 258.8 175.8M260.3 177.6Q260 177.7 260.3 177.8M327.7 99.5Q331 100 334.3 100.5M333.5 97.6Q331.5 96 328.9 95.6M333.5 97.6Q334.9 98.2 334.7 99.8M328.9 95.6Q328.3 95.2 328.2 95.9M334.3 100.5Q335.1 100.4 334.7 99.8M323.2 94.4Q325.9 94.6 328.2 95.9M325.3 102.4Q326.2 100.7 327.7 99.5M334 102.3Q334.3 101.4 334.3 100.5"/>
<path id="mL3" d="M247.7 129.6Q248.9 129.1 248.3 128M247.6 122.1Q249.5 124.1 249.9 126.8M250.6 126.6Q251 124.1 251.9 121.8M251 119.3Q251.3 120.6 251.9 121.8M251 119.2Q251.8 119.5 251 119.3M256.7 126.3Q256.3 127.3 256 128.3M256.7 126.3Q254 124.3 251.9 121.8M256 128.3Q253.1 128 250.6 126.6M236 142.2Q235.1 142.2 235.4 143.1M278.1 141.9Q276 142.6 273.9 142.2M275.7 149.1Q274 150.4 272.1 151.5M273.5 144.3Q273.2 143.2 273.9 142.2M268 111.4Q266.3 111.4 264.7 112.3M268 111.4Q268.6 109.6 269.5 108.1M269.5 108.1Q268.4 106.3 266.3 105.8M266.3 105.8Q264.9 108.9 264.7 112.3M321.3 166.1Q320.8 167.4 319.4 167.9M252.4 164.5Q252.9 166.5 251.7 168.1M254.3 173.2Q254 172.9 253.6 172.8M287.4 124.8Q286.4 126.8 286.6 129M290.5 129.8Q292 128.1 292.9 126M283.1 130.6Q281.8 129.6 281.1 128.1M304.2 108.4Q301.8 108.1 299.3 108.3M304.2 108.4Q306.3 109.5 307 111.8M272.1 151.5Q269.8 150.6 267.3 150.2M266.6 147.9Q266.5 148.5 266.7 149.1M293 136.5Q292.3 134.8 293 133.2M318.3 94.3Q320.2 93.1 322.4 93.4M307.9 111.3Q310.2 112 312.7 111.7"/>
</defs>
<g filter="url(#blL)" stroke="#3a2d19" fill="none" stroke-linecap="round">
<use href="#mL0" stroke-width="0.5"/>
<use href="#mL1" stroke-width="1.0"/>
<use href="#mL2" stroke-width="1.5"/>
<use href="#mL3" stroke-width="2.0"/>
</g>
<g stroke="#3a2d19" fill="none" stroke-linecap="round" opacity="0.75">
<use href="#mL0" stroke-width="0.4"/>
<use href="#mL1" stroke-width="0.8"/>
<use href="#mL2" stroke-width="1.1"/>
<use href="#mL3" stroke-width="1.5"/>
</g>
<ellipse cx="305" cy="175" rx="26" ry="18" fill="#ece8de" opacity="0.35" filter="url(#bl3)"/>
<path d="M240 112C270 118 310 116 340 108L342 125C310 130 270 130 240 126Z" fill="#3a3422" opacity="0.35" filter="url(#bl3)"/>
<path d="M239.5 112 239.1 113.8 238.7 115.9 238.4 118.2 238.1 120.8 237.9 123.3 237.7 126 237.6 128.5 237.5 131 237.5 133.4 237.5 135.8 237.6 138.3 237.7 140.7 237.8 143.1 238 145.5 238.3 147.8 238.5 150 238.8 152.2 239 154.2 239.3 156.3 239.7 158.2 240 160.2 240.5 162.1 240.9 164.1 241.5 166 242.1 167.9 242.8 169.9 243.6 171.8 244.4 173.8 245.3 175.6 246.2 177.5 247.1 179.3 248 181 248.9 182.7 249.8 184.3 250.8 185.9 251.7 187.4 252.7 188.9 253.8 190.4 254.8 191.7 256 193 257.2 194.2 258.5 195.4 259.8 196.4 261.2 197.5 262.6 198.4 264 199.3 265.5 200.2 267 201 268.5 201.8 270.1 202.5 271.8 203.2 273.4 203.8 275.1 204.3 276.8 204.8 278.4 205.2 280 205.5 281.5 205.7 283 205.9 284.5 206.1 286 206.1 287.5 206 289 205.8 290.5 205.5 292 205 293.6 204.3 295.2 203.4 296.9 202.3 298.6 201.2 300.2 199.9 301.9 198.6 303.5 197.3 305 196 306.5 194.7 307.9 193.4 309.3 192.1 310.7 190.8 312 189.4 313.4 187.9 314.7 186.5 316 185 317.3 183.5 318.6 181.9 319.9 180.3 321.2 178.7 322.4 177 323.7 175.4 324.9 173.7 326 172 327.1 170.3 328.2 168.5 329.3 166.8 330.3 165 331.3 163.2 332.3 161.5 333.2 159.7 334 158 334.7 156.4 335.4 154.8 336 153.2 336.5 151.7 337 150.1 337.5 148.5 338 146.8 338.5 145 339 143.1 339.6 141 340.2 138.9 340.7 136.8 341.2 134.6 341.6 132.3 341.9 130.2 342 128 342 125.8 341.8 123.6 341.6 121.4 341.2 119.2 340.8 117 340.3 114.9 339.7 112.9 339 111 338.2 109.2 337.4 107.5 336.4 105.9 335.4 104.4 334.3 102.9 333.2 101.5 332.1 100.2 331 99 330 97.8 329.1 96.5 328.3 95.2 327.4 94 326.4 93 325.2 92.3 323.8 91.9 322 92 319.9 92.7 317.6 93.9 315.1 95.5 312.3 97.4 309.4 99.4 306.4 101.3 303.2 102.8 300 104 296.6 104.7 292.9 105.3 289.1 105.6 285.2 105.8 281.2 105.9 277.3 105.9 273.6 106 270 106 266.5 106 262.9 105.8 259.4 105.5 256 105.2 252.7 104.9 249.8 104.8 247.2 104.8 245 105 243.4 105.4 242.2 105.9 241.4 106.5 240.8 107.2 240.4 108.1 240.2 109.2 239.9 110.5Z" fill="url(#edgeL)"/>
</g>
<path d="M241 101C258 96 290 95 320 90L327 99C322 109 305 116 288 118C270 119 252 117 243 112Z" fill="#e9e5e0" filter="url(#bl2)"/>
<ellipse cx="285" cy="108" rx="22" ry="5" fill="#f1eee9" filter="url(#bl2)"/>
<path d="M232 88 231.7 86.9 231.8 85.9 232.3 85.1 233 84.3 233.9 83.6 234.9 83 235.9 82.3 236.8 81.6 237.7 80.9 238.6 80.1 239.6 79.4 240.7 78.7 241.8 78.1 242.9 77.4 244.1 76.8 245.3 76.3 246.5 75.8 247.8 75.4 249.2 75.1 250.6 74.8 251.9 74.4 253.3 74.1 254.6 73.7 255.8 73.2 257 72.6 258.1 72 259.1 71.3 260.2 70.6 261.2 69.9 262.2 69.2 263.3 68.5 264.3 67.9 265.4 67.3 266.4 66.7 267.5 66.1 268.6 65.6 269.6 65.1 270.7 64.5 271.7 64.1 272.8 63.6 273.8 63.2 274.9 62.7 275.9 62.4 276.9 62 277.9 61.6 278.9 61.3 280 61.1 281.2 60.9 282.4 60.8 283.7 60.6 285 60.6 286.4 60.6 287.7 60.6 289.1 60.6 290.5 60.8 291.8 60.9 293.1 61.1 294.4 61.4 295.8 61.7 297.1 62.1 298.4 62.4 299.7 62.8 301.1 63.2 302.4 63.6 303.8 64 305.2 64.3 306.6 64.7 308 65 309.3 65.4 310.7 65.8 311.9 66.3 313 66.8 314 67.3 315 67.9 315.9 68.5 316.7 69.2 317.4 69.9 318.1 70.6 318.7 71.3 319.3 72.1 319.8 72.9 320.2 73.8 320.5 74.7 320.8 75.6 321 76.6 321.1 77.5 321.3 78.5 321.4 79.5 321.5 80.5 321.6 81.6 321.6 82.7 321.6 83.8 321.6 84.9 321.5 86 321.3 87 321 88 320.6 89 320.2 89.9 319.7 90.9 319.1 91.8 318.4 92.7 317.7 93.5 316.9 94.3 316 95 315 95.7 313.9 96.4 312.7 97 311.4 97.6 310 98.1 308.7 98.6 307.3 98.9 306 99 304.7 98.9 303.4 98.6 302.1 98.1 300.8 97.6 299.5 97 298.1 96.5 296.6 96.1 295 96 293.3 96.1 291.6 96.4 289.8 96.7 287.9 97.2 286 97.7 284.1 98.2 282 98.6 280 99 277.9 99.3 275.7 99.6 273.4 99.9 271.1 100.2 268.7 100.4 266.4 100.7 264.2 100.9 262 101 259.9 101.2 257.8 101.4 255.8 101.7 253.8 101.9 251.8 102 249.8 102 247.9 101.6 246 101 244 100 241.9 98.5 239.8 96.8 237.7 94.9 235.8 93 234.1 91.1 232.8 89.4Z" fill="#b09276" filter="url(#fuzz2)"/>
<ellipse cx="254" cy="87" rx="18" ry="9" fill="#a07448" opacity="0.8" filter="url(#bl3)"/>
<ellipse cx="306" cy="87" rx="13" ry="9" fill="#a07347" opacity="0.8" filter="url(#bl3)"/>
<ellipse cx="302" cy="98" rx="7" ry="5" fill="#a26c3c" opacity="0.85" filter="url(#bl1)"/>
<ellipse cx="288" cy="72" rx="20" ry="7" fill="#c9b096" opacity="0.8" filter="url(#bl3)"/>
<ellipse cx="268" cy="92" rx="12" ry="4" fill="#c29a74" opacity="0.6" filter="url(#bl2)"/>
<clipPath id="ccL"><path d="M232 88 231.7 86.9 231.8 85.9 232.3 85.1 233 84.3 233.9 83.6 234.9 83 235.9 82.3 236.8 81.6 237.7 80.9 238.6 80.1 239.6 79.4 240.7 78.7 241.8 78.1 242.9 77.4 244.1 76.8 245.3 76.3 246.5 75.8 247.8 75.4 249.2 75.1 250.6 74.8 251.9 74.4 253.3 74.1 254.6 73.7 255.8 73.2 257 72.6 258.1 72 259.1 71.3 260.2 70.6 261.2 69.9 262.2 69.2 263.3 68.5 264.3 67.9 265.4 67.3 266.4 66.7 267.5 66.1 268.6 65.6 269.6 65.1 270.7 64.5 271.7 64.1 272.8 63.6 273.8 63.2 274.9 62.7 275.9 62.4 276.9 62 277.9 61.6 278.9 61.3 280 61.1 281.2 60.9 282.4 60.8 283.7 60.6 285 60.6 286.4 60.6 287.7 60.6 289.1 60.6 290.5 60.8 291.8 60.9 293.1 61.1 294.4 61.4 295.8 61.7 297.1 62.1 298.4 62.4 299.7 62.8 301.1 63.2 302.4 63.6 303.8 64 305.2 64.3 306.6 64.7 308 65 309.3 65.4 310.7 65.8 311.9 66.3 313 66.8 314 67.3 315 67.9 315.9 68.5 316.7 69.2 317.4 69.9 318.1 70.6 318.7 71.3 319.3 72.1 319.8 72.9 320.2 73.8 320.5 74.7 320.8 75.6 321 76.6 321.1 77.5 321.3 78.5 321.4 79.5 321.5 80.5 321.6 81.6 321.6 82.7 321.6 83.8 321.6 84.9 321.5 86 321.3 87 321 88 320.6 89 320.2 89.9 319.7 90.9 319.1 91.8 318.4 92.7 317.7 93.5 316.9 94.3 316 95 315 95.7 313.9 96.4 312.7 97 311.4 97.6 310 98.1 308.7 98.6 307.3 98.9 306 99 304.7 98.9 303.4 98.6 302.1 98.1 300.8 97.6 299.5 97 298.1 96.5 296.6 96.1 295 96 293.3 96.1 291.6 96.4 289.8 96.7 287.9 97.2 286 97.7 284.1 98.2 282 98.6 280 99 277.9 99.3 275.7 99.6 273.4 99.9 271.1 100.2 268.7 100.4 266.4 100.7 264.2 100.9 262 101 259.9 101.2 257.8 101.4 255.8 101.7 253.8 101.9 251.8 102 249.8 102 247.9 101.6 246 101 244 100 241.9 98.5 239.8 96.8 237.7 94.9 235.8 93 234.1 91.1 232.8 89.4Z"/></clipPath>
<g clip-path="url(#ccL)"><rect x="225" y="55" width="100" height="50" filter="url(#mottle)"/><rect x="225" y="55" width="100" height="50" filter="url(#mottle2)"/></g>
<path d="M236 85C231 86 228 91 228 97C228 103 232 107 237 106C241 104 241 98 240 92C239 88 238 85 236 85Z" fill="#332e22" filter="url(#bl1)"/>
<rect x="367.5" y="54.5" width="150.5" height="162" fill="url(#bgR)" stroke="#4a4a4a" stroke-width="1.2"/>
<clipPath id="cbR"><path d="M395.6 109.1 394.2 111.1 393.4 113.4 393 116 392.9 118.8 392.9 121.7 393.1 124.6 393.3 127.5 393.3 130.4 393.2 133.2 393.2 136.2 393.2 139.1 393.3 142.2 393.4 145.2 393.6 148.1 394 151.1 394.4 153.9 395 156.7 395.6 159.5 396.4 162.3 397.3 165 398.2 167.7 399.3 170.3 400.3 172.8 401.5 175.2 402.7 177.5 404 179.8 405.4 181.9 406.8 184 408.3 186.1 409.9 188 411.6 189.9 413.3 191.7 415.2 193.4 417.2 195.2 419.2 196.8 421.4 198.4 423.6 199.8 425.7 201.2 427.8 202.4 429.8 203.4 431.7 204.3 433.5 205 435.3 205.6 437 206.1 438.7 206.4 440.4 206.7 442.1 206.9 443.9 207 445.7 207 447.5 207 449.3 206.9 451.1 206.7 452.9 206.4 454.7 205.9 456.4 205.3 458.1 204.6 459.7 203.7 461.2 202.7 462.7 201.6 464.2 200.3 465.6 198.9 467 197.4 468.4 195.8 469.9 194 471.4 192 473 189.9 474.5 187.6 476.1 185.1 477.6 182.6 479.1 180.1 480.5 177.6 481.7 175.2 482.8 172.8 483.9 170.5 484.9 168.1 485.8 165.8 486.6 163.4 487.4 161 488.1 158.7 488.7 156.3 489.3 153.9 489.7 151.5 490.1 149.1 490.5 146.7 490.8 144.3 490.9 142 491.1 139.6 491.1 137.4 491.1 135.2 490.9 133 490.8 130.8 490.5 128.7 490.1 126.6 489.7 124.6 489.3 122.7 488.7 120.9 488 119.2 487.3 117.5 486.4 116 485.5 114.5 484.5 113 483.6 111.7 482.6 110.4 481.7 109.1 480.9 107.9 480.3 106.7 479.8 105.6 479.2 104.6 478.5 103.6 477.6 102.6 476.3 101.8 474.6 101 472.4 100.2 469.8 99.5 466.9 98.8 463.7 98.2 460.4 97.7 456.9 97.3 453.5 97.1 450 97 446.5 97.1 442.7 97.3 438.9 97.7 435 98.2 431.1 98.8 427.2 99.5 423.5 100.2 420 101 416.5 101.7 413 102.4 409.5 103.2 406.1 104 402.9 104.9 400 106.1 397.6 107.4Z"/></clipPath>
<path d="M395.6 109.1 394.2 111.1 393.4 113.4 393 116 392.9 118.8 392.9 121.7 393.1 124.6 393.3 127.5 393.3 130.4 393.2 133.2 393.2 136.2 393.2 139.1 393.3 142.2 393.4 145.2 393.6 148.1 394 151.1 394.4 153.9 395 156.7 395.6 159.5 396.4 162.3 397.3 165 398.2 167.7 399.3 170.3 400.3 172.8 401.5 175.2 402.7 177.5 404 179.8 405.4 181.9 406.8 184 408.3 186.1 409.9 188 411.6 189.9 413.3 191.7 415.2 193.4 417.2 195.2 419.2 196.8 421.4 198.4 423.6 199.8 425.7 201.2 427.8 202.4 429.8 203.4 431.7 204.3 433.5 205 435.3 205.6 437 206.1 438.7 206.4 440.4 206.7 442.1 206.9 443.9 207 445.7 207 447.5 207 449.3 206.9 451.1 206.7 452.9 206.4 454.7 205.9 456.4 205.3 458.1 204.6 459.7 203.7 461.2 202.7 462.7 201.6 464.2 200.3 465.6 198.9 467 197.4 468.4 195.8 469.9 194 471.4 192 473 189.9 474.5 187.6 476.1 185.1 477.6 182.6 479.1 180.1 480.5 177.6 481.7 175.2 482.8 172.8 483.9 170.5 484.9 168.1 485.8 165.8 486.6 163.4 487.4 161 488.1 158.7 488.7 156.3 489.3 153.9 489.7 151.5 490.1 149.1 490.5 146.7 490.8 144.3 490.9 142 491.1 139.6 491.1 137.4 491.1 135.2 490.9 133 490.8 130.8 490.5 128.7 490.1 126.6 489.7 124.6 489.3 122.7 488.7 120.9 488 119.2 487.3 117.5 486.4 116 485.5 114.5 484.5 113 483.6 111.7 482.6 110.4 481.7 109.1 480.9 107.9 480.3 106.7 479.8 105.6 479.2 104.6 478.5 103.6 477.6 102.6 476.3 101.8 474.6 101 472.4 100.2 469.8 99.5 466.9 98.8 463.7 98.2 460.4 97.7 456.9 97.3 453.5 97.1 450 97 446.5 97.1 442.7 97.3 438.9 97.7 435 98.2 431.1 98.8 427.2 99.5 423.5 100.2 420 101 416.5 101.7 413 102.4 409.5 103.2 406.1 104 402.9 104.9 400 106.1 397.6 107.4Z" fill="#3d3b2e" filter="url(#blm)"/>
<g clip-path="url(#cbR)">
<path d="M395.6 109.1 394.2 111.1 393.4 113.4 393 116 392.9 118.8 392.9 121.7 393.1 124.6 393.3 127.5 393.3 130.4 393.2 133.2 393.2 136.2 393.2 139.1 393.3 142.2 393.4 145.2 393.6 148.1 394 151.1 394.4 153.9 395 156.7 395.6 159.5 396.4 162.3 397.3 165 398.2 167.7 399.3 170.3 400.3 172.8 401.5 175.2 402.7 177.5 404 179.8 405.4 181.9 406.8 184 408.3 186.1 409.9 188 411.6 189.9 413.3 191.7 415.2 193.4 417.2 195.2 419.2 196.8 421.4 198.4 423.6 199.8 425.7 201.2 427.8 202.4 429.8 203.4 431.7 204.3 433.5 205 435.3 205.6 437 206.1 438.7 206.4 440.4 206.7 442.1 206.9 443.9 207 445.7 207 447.5 207 449.3 206.9 451.1 206.7 452.9 206.4 454.7 205.9 456.4 205.3 458.1 204.6 459.7 203.7 461.2 202.7 462.7 201.6 464.2 200.3 465.6 198.9 467 197.4 468.4 195.8 469.9 194 471.4 192 473 189.9 474.5 187.6 476.1 185.1 477.6 182.6 479.1 180.1 480.5 177.6 481.7 175.2 482.8 172.8 483.9 170.5 484.9 168.1 485.8 165.8 486.6 163.4 487.4 161 488.1 158.7 488.7 156.3 489.3 153.9 489.7 151.5 490.1 149.1 490.5 146.7 490.8 144.3 490.9 142 491.1 139.6 491.1 137.4 491.1 135.2 490.9 133 490.8 130.8 490.5 128.7 490.1 126.6 489.7 124.6 489.3 122.7 488.7 120.9 488 119.2 487.3 117.5 486.4 116 485.5 114.5 484.5 113 483.6 111.7 482.6 110.4 481.7 109.1 480.9 107.9 480.3 106.7 479.8 105.6 479.2 104.6 478.5 103.6 477.6 102.6 476.3 101.8 474.6 101 472.4 100.2 469.8 99.5 466.9 98.8 463.7 98.2 460.4 97.7 456.9 97.3 453.5 97.1 450 97 446.5 97.1 442.7 97.3 438.9 97.7 435 98.2 431.1 98.8 427.2 99.5 423.5 100.2 420 101 416.5 101.7 413 102.4 409.5 103.2 406.1 104 402.9 104.9 400 106.1 397.6 107.4Z" fill="#dedbcd"/>
<defs>
<path id="mR0" d="M404 106.6Q401.6 106.5 399.7 105M404.8 103.9Q402.4 102.5 400.2 100.8M456 102.2Q457.9 102.7 459.6 101.6M437.1 121.6Q437 123.8 435.6 125.6M440.9 128Q440.7 128.9 439.8 128.7M414.6 126.7Q414.5 127.1 414.5 127.6M417.7 124.5Q419.2 125.1 420.9 125.3M416.5 132.5Q418.6 131.4 420.7 130.4M417.8 136.4Q419.3 136 420.8 136M388.3 134Q390.2 135.6 392.6 136.2M392.6 136.2Q391.8 137.9 391.9 139.7M391.9 139.7Q390.9 140.2 390.5 141.2M394.8 144.9Q396 145.8 396.9 147M390.5 141.2Q390.8 143.1 391.1 145.1M391.9 139.7Q393.9 141.2 396.4 141.7M394.2 135.3Q395.3 135.5 396.2 135.8M402.2 137.9Q400.9 139.2 399.3 140.3M402.2 137.9Q401.1 136.4 401.4 134.5M400.2 133.7Q400.5 134.6 401.4 134.5M402.2 137.9Q404.1 138 405.8 139M390 124.5Q392.3 126.4 395.1 127.1M395.1 127.1Q394.9 128.2 395.7 128.9M394.3 134.6Q392.5 132.2 390.3 130.2M394.2 135.3Q393.4 134.9 394.3 134.6M401.6 126.2Q402.2 123.6 403 121.1M416.8 137.8Q417.9 137.5 417.8 136.4M407.7 102.6Q407.4 101.8 408.1 102.2M408.1 107.4Q410.9 106.9 413.9 106.4M404.6 109.4Q405.1 107.8 404 106.6M414.1 106.6Q413.9 106.9 414.3 107.1M414.3 107.1Q412.9 109.2 411.6 111.3M414.1 106.6Q416.3 104.6 417.4 101.8M414 98.6Q414.9 98.8 415.6 99.5M440.9 128Q443.8 129.2 446.2 131.2M446.2 131.2Q447.2 130.6 447.1 129.4M439.4 122.3Q441.6 121.8 443.5 120.4M437.1 121.6Q437.5 120.3 436.3 119.8M440.5 116.1Q439.7 116.3 439 116.7M443.3 117.6Q442.7 119.1 443.5 120.4M447.1 129.4Q449.1 129.5 450.9 128.8M444.5 101.3Q445.5 101.4 446.4 101.2M443.7 101.7Q444.5 102.2 444.5 101.3M445.2 107.6Q446.2 107.2 447.3 107.1M447.5 102.1Q447.4 104.6 447.3 107.1M447.5 102.1Q447.1 101.5 446.4 101.2M454.5 100.5Q452.5 100.6 451.1 102.1M451.1 102.1Q449.3 102.5 447.5 102.1M446.7 99.9Q447.3 100.2 446.7 99.9M439 116.7Q437.9 113.7 435.8 111.3M429 132.3Q430.4 133.5 430.3 135.4M437 128.1Q436.1 129.6 435.2 131.1M440 130.2Q439 129.6 439.8 128.7M437.5 133Q436.5 132.8 435.5 132.8M435.6 125.6Q433.8 125.2 432.4 126.3M432 126.5Q432.7 128.2 432.3 130.1M421.4 128.7Q423.5 130.2 425.7 131.6M425.6 126Q426.7 126.4 427.7 125.9M427.3 131.2Q426.6 131.8 425.7 131.6M427.9 126.2Q428.5 125.5 427.7 125.9M421.3 128.6Q421 128.9 421.3 128.6M420.7 130.4Q420.3 129.3 421.4 128.7M422 123.2Q422.1 124.6 420.9 125.3M422 123.2Q424 124.3 425.6 126M432 126.5Q430 126.6 427.9 126.2M427.8 123.6Q427.1 123 427.9 123.4M428.9 137.6Q427.3 138 425.7 138.1M425.7 138.1Q424 137.2 422.5 136M420.8 136Q420.8 136.5 421.1 136.1M422.5 136Q421.8 135.6 421.1 136.1M431.9 164.5Q430.2 164.5 428.6 164M402.6 157.9Q401.8 160.1 399.8 161.4M402.6 157.9Q403.4 156.7 402.8 155.3M402.8 155.3Q400.1 155.2 397.6 154.2M395 168.2Q395.6 166.5 397.4 166M397.4 166Q395.9 164.7 394.3 163.4M394.3 163.4Q393.7 163.7 393.2 163.3M402.3 143.1Q402.2 143 402 143.1M402.3 143.1Q402.5 145.9 401.6 148.6M402 143.1Q400.4 144.3 398.8 145.5M401.6 148.6Q400.5 147 398.6 146.6M397.7 141.2Q398.5 143.3 398.8 145.5M399.3 140.3Q400.7 141.6 402 143.1M396.9 147Q397.8 147.1 398.6 146.6M431.6 151.6Q431.4 151.6 431.5 151.7M403.6 128.1Q401.7 130.7 400.1 133.4M394.9 110.5Q395.1 108.7 395.3 107M398.3 107.7Q396.9 106.9 395.3 107M399.7 105Q399.6 106.6 398.3 107.7M403.9 110.7Q404.6 110.7 404 111.1M404 111.1Q402.9 112.9 402.9 115.1M410.1 115.1Q409.2 116.2 408.9 117.6M411.6 111.3Q411.4 112.9 411.2 114.5M410.1 115.1Q410.7 114.8 411.2 114.5M493.2 135.1Q492.4 135.8 493.1 136.5M493.2 135.1Q492.5 134.1 491.5 133.4M488.2 134Q489 136.6 490.3 139M490.7 141.2Q489.5 141.3 489.7 140.1M490.7 141.2Q493 142.4 495.6 143M489.7 140.1Q489.4 139.2 490.3 139M446.2 131.2Q446.4 131.6 446.1 131.9M454.4 131.8Q453.5 131.5 453.8 132.5M453.8 132.5Q453.2 131.9 453.4 132.7M446.1 131.9Q444.5 133 443.1 134.3M476.1 182.3Q475.3 182.7 476 183.3M476.1 182.3Q477.3 179 479.8 176.4M480.5 176.8Q480.4 179.8 482 182.4M474.3 177.7Q475.2 180 476.1 182.3M474.3 177.7Q472.7 179 470.9 180M470.9 180Q470.8 181.6 471.4 183.1M471.4 183.1Q473.5 182.8 475.6 183.5M475.6 183.5Q475.5 182.7 476 183.3M484.8 176.7Q482.6 176.3 480.5 176.8M398.5 171.6Q399 173.5 398.6 175.5M400.9 171.3Q402.1 173.2 402.6 175.4M398.5 171.6Q397.5 171.4 396.6 171.5M399.1 179.7Q400.8 180.5 402.5 179.6M402.6 175.4Q403.1 176.7 404.1 177.8M408.2 160.5Q406.5 160.4 404.9 159.7M408.2 160.5Q408 161.2 408.3 162M426.2 163.2Q425.7 165.7 425.5 168.3M446.7 99.9Q447.4 97.1 447.7 94.3M446.6 94.1Q447.2 94.1 447.7 94.3M433.3 116Q430.7 116.2 428.2 115.7M435.1 119.4Q434 117.8 433.3 116M435.8 111.3Q434.7 112.6 433.6 113.9M427.5 117.6Q428.4 117.4 427.9 118.2M427.1 112.4Q427.2 112.8 427.6 112.8M426.9 108.4Q429.6 107.9 431.5 106M432.7 148Q432.6 148.4 432.3 148.1M432.7 148Q434.5 149.5 436.5 150.7M434 135.5Q435.7 136.4 436.1 138.3M416 143.6Q415 142.9 415.4 141.8M412.2 148.6Q413.8 145.9 416 143.6M416.8 137.8Q417.2 138.9 416.6 139.8M422.4 146Q422.3 144.2 422.1 142.4M422.1 142.4Q423.4 141.6 424.9 141.2M425.7 138.1Q425.8 139.8 424.9 141.2M460.3 160.3Q461.9 157.8 461.9 154.8M456.1 151.5Q458.3 152.5 459.5 154.5M459.5 154.5Q458.1 154.8 457.5 156.2M453.8 157.2Q455.7 156.9 457.5 156.2M460.3 160.3Q459.7 159.5 458.9 160.1M458.9 160.1Q457.9 158.3 457.5 156.2M461.9 154.8Q461.2 154.8 461.9 154.6M478.8 175Q479.3 175.7 479.8 176.4M473.9 195Q472.3 193.2 470.8 191.5M474.7 188.9Q476.1 189.5 477.1 190.8M474.7 188.9Q472.8 190 470.7 189.9M470.7 189.9Q469.9 190.7 470.8 191.5M471.4 183.1Q470.1 184.1 468.6 185M468.6 185Q469.6 186.6 469.4 188.5M469.4 188.5Q469.6 189.6 470.7 189.9M465.4 179Q464.2 179.6 463.3 178.5M463.1 185.5Q465.1 185.2 466.9 184.4M463.1 185.5Q461.7 184 460.8 182.1M410.4 145.6Q411.1 143.9 411.8 142.2M410.4 145.6Q408.1 145.5 406.1 144.5M411.5 141.9Q408.6 142.7 405.7 141.8M411.5 141.9Q411.7 142.1 411.8 142.2M405.4 142.8Q405.8 142.4 405.7 141.8M411.5 148.3Q412.1 148 412.2 148.6M405.8 139Q405.8 140.4 405.7 141.8M402.3 143.1Q403.8 142.8 405.4 142.8M408.9 149.4Q408.4 151.5 407.7 153.5M408.9 149.4Q406.7 149 404.5 148.6M404.5 148.6Q404.3 149.1 403.7 149.2M413.9 150.6Q414 152.1 412.6 152.8M412.6 152.8Q410.1 153.2 407.7 153.5M406.1 144.5Q405.2 146.5 404.5 148.6M401.7 148.6Q402.7 148.9 403.7 149.2M402.8 155.3Q403.5 154.5 404.6 154.1M425.5 107.4Q423.5 108.5 421.6 109.7M425.5 107.4Q426.2 107.8 426.9 108.4M427.1 112.4Q426.7 111.7 426.5 112.5M421.6 109.7Q422.6 110.1 421.8 110.8M407.2 119.3Q408.1 121 407.9 123M408.8 118Q410.2 120.4 412.3 122.2M407.9 123Q409.6 122.3 411.3 122.8M411.3 122.8Q411.9 122.6 412.3 122.2M408.9 117.6Q408.7 117.8 408.8 118M414.6 126.7Q414.1 124.3 412.8 122.4M412.8 122.4Q412.5 122.4 412.3 122.2M430.8 96.8Q429.8 97.1 428.9 97.8M419.8 107.7Q421.2 108.2 421.6 109.7M417.4 101.8Q418.2 101 419 101.7M421.2 99Q421.9 97.5 422.8 96.2M421.2 99Q420 97.5 418.3 97M419 101.7Q420.1 100.6 421.1 99.5M421.1 99.5Q422 99.3 421.2 99M490 145.8Q492 147.2 494 148.8M481.9 111.2Q481.2 113.2 479.3 114.1M451.6 137.7Q450.4 137.1 449.1 137M449.5 143Q449.8 142.6 450.2 142.9M453.8 132.5Q454.6 135.9 454.5 139.5M448.7 133.8Q448.5 135.5 449.1 137M443.7 135.8Q445.3 137.6 447.5 138.6M445 142.1Q445.8 145.7 448 148.5M448 148.5Q449.1 145.8 449.5 143M450 150Q449 149.5 447.8 149.4M453.1 145.3Q453.1 147.4 453.6 149.4M453.1 145.3Q451.4 144.4 450.2 142.9M452.7 110.1Q452.8 109 453.3 108M452.7 110.1Q451.7 111.3 450.1 111.3M447.3 107.1Q447.1 108 447.9 107.7M446.6 112.2Q447.9 111.8 448.4 110.6M456 102.2Q456.3 104.5 457 106.7M463.6 152.8Q466 153.5 468.2 154.7M467.2 159.8Q466.9 160.5 466.1 160.4M465.2 148.5Q464.2 150.3 463.6 152.3M464 147.8Q461.7 147.1 459.4 146.5M463.6 152.3Q462.1 151.8 461.2 150.6M465.5 148.3Q465 148 465.2 148.5M461.5 143Q461.4 143.1 461.3 143.1M461.3 143.1Q462.8 145.4 464 147.8M455.5 149.9Q455.5 149.9 455.5 149.8M458.9 146.2Q456.9 147.7 455.5 149.8M458.9 146.2Q459.5 145.8 459.4 146.5M463.6 152.8Q463.2 152.6 463.6 152.3M458.9 144.8Q457.7 144 456.5 143M456.5 143Q456.7 141.2 455.6 139.7M459.5 135.9Q458.3 137.2 457.2 138.4M454.4 131.8Q455.6 132.2 456.6 131.4M442.3 193.2Q441 193.4 439.9 194.2M442.3 193.2Q441.9 191.7 441.6 190.1M439.9 194.2Q440.6 191.6 439.5 189.2M439.5 189.2Q440.3 190.3 441.6 190.1M450 150Q450.1 153.2 449.8 156.4M461.3 164.6Q460.6 165 459.7 165.1M459.7 165.1Q457.2 163.5 454.4 162.6M431.9 164.5Q433.1 165.6 433.6 167.2M428.8 167.7Q430.3 168.9 431.8 170.1M433.9 175.2Q433 173.7 432.8 171.9M438.4 176.2Q439.6 176.2 439.9 174.9M432.8 171.9Q435.3 170.9 438 171.2M439.9 174.9Q439.7 172.7 438 171.2M458.4 170.6Q457.6 171.3 458 172.3M453.6 173.1Q453.9 170.1 453.8 167M463.6 168.1Q464.4 168.1 463.8 167.6M463.6 168.1Q464.2 169.6 463.7 171.3M459.3 173.6Q458.2 173.4 458 172.3M452.7 165.7Q452.7 166.8 453.8 167M453.1 176.4Q453.8 175 453.1 173.5M447.6 168.8Q448.2 168.2 448.9 168M448.9 168Q449.8 170.7 451.5 172.9M448.9 168Q448.9 166.7 449.9 166.1M453.1 173.5Q452.4 173.1 451.5 172.9M478.8 175Q479.7 173.5 481.2 172.6M486.7 174.4Q485 173 483.7 171.2M481.2 172.6Q482 171.2 483.7 171.2M485.7 166.4Q484.6 166.3 484 167.2M483.7 171.2Q483.5 169.2 484 167.2M402.5 179.6Q403.3 179.8 402.5 180.1M433.8 206.3Q434.5 207 435.1 206.2M437.7 198.5Q438 197.6 438.2 196.6M437.7 198.5Q435.9 199.8 433.7 200.3M438.2 196.6Q436.5 195.1 434.6 193.8M434.6 193.8Q433.1 195.7 432 198M432 198Q432.1 198.9 432.8 199.7M433.7 200.3Q433 200.4 432.8 199.7M424.9 203.7Q426.3 203.9 427.1 205.2M430.6 201.2Q429.4 202.7 429.5 204.7M427.1 205.2Q428.4 205.6 429.5 204.7M422.3 163.6Q420.4 161.5 417.9 160M419.8 157.3Q419 158 418.5 157M418.5 157Q417.6 156.8 417.8 157.7M421.1 166.9Q420.1 166.8 420.6 165.9M452.4 95.2Q451.1 94 449.4 93.7M452.4 95.5Q451.6 95.6 452.4 95.2M460.1 95.9Q456.8 95 454.2 92.9M460.1 95.9Q459.9 96.6 459.2 96.5M460.4 95.4Q459.7 95.5 460.4 95.8M436.6 156.4Q436.3 155.6 437 155M436.6 156.4Q438.8 157.8 439.6 160.3M439.6 160.3Q441.3 158.4 443.3 156.7M443.3 156.7Q443.5 154.7 444 152.6M442.2 152.9Q443.3 153.6 444 152.6M437.5 149.6Q439.6 151.5 442.2 152.9M448.7 156.5Q446.8 154 444 152.6M438.1 148Q440.7 148.1 443.2 148.1M444.8 150.2Q444.6 151.4 444 152.6M444.8 150.2Q446.3 149.7 447.8 149.4M436.8 145.9Q439.7 144.3 443 144.5M441.3 141.6Q441.7 142.4 442.4 141.9M442.4 141.9Q442.5 142.6 443.2 142.6M445 142.1Q444.2 142.8 443.2 142.6M473.4 161.3Q472.5 162 473 163M466.1 160.4Q466.3 162.9 467.5 165.2M473 163Q473.4 163.3 473 163.1M467.5 165.2Q466.9 166.5 465.8 167.3M473 163.1Q472.8 166.6 472.8 170.2M469.2 165Q470.7 167.6 471.6 170.5M468.6 176.7Q468.7 177.1 468.5 176.7M470.9 180Q470 178.2 468.6 176.7M470.8 191.5Q469.9 192.4 468.8 193.3M468.8 193.3Q469.6 195.2 470 197.2M424.7 104.2Q427.4 104 430 103.3M422.8 96.2Q424.7 97.9 426.5 99.7M482.4 110.9Q480.9 108.4 479.2 106.1M475 107.1Q475.7 106.7 476.3 106.1M482.4 124.2Q482.4 121.3 481.6 118.5M468.2 129.6Q467 127.2 466.5 124.6M464 129.7Q464.5 126.8 466.1 124.5M466.1 124.5Q466.3 124.5 466.5 124.6M470.9 127.3Q469.7 126.2 469.3 124.6M469.3 124.6Q467.9 124.4 466.5 124.6M471.7 110.9Q473.2 109.3 475.1 108.1M471.7 115Q473.9 116.4 475 118.8M466 103.3Q464.6 102.2 462.8 102.5M463.4 98.2Q462.4 99.6 462.5 101.4M462.5 101.4Q463.3 101.7 462.8 102.5M460.4 95.8Q461.4 97.7 463.4 98.2M459.6 101.6Q461 101.1 462.5 101.4M457 106.7Q457.7 107.3 458.5 107.7M462.8 102.5Q463.2 104 462.2 105.2M458.5 107.7Q460.7 106.9 462.2 105.2M469.3 124.6Q469.6 123 471 122.2M471 122.2Q471.6 121.9 471 121.7M471 121.7Q469.5 120.8 468.7 119.3M468.7 119.3Q467.3 119.7 466 120.5M489.7 140.1Q488.4 140.3 487 140.5M488.2 134Q487.8 133.8 487.4 133.9M487.4 133.9Q485.9 135.4 484.9 137.3M487 140.5Q486.5 138.5 484.9 137.3M487.4 146.3Q488.7 146.1 490 145.8M473.4 161.3Q475.2 162.1 476.9 161.2M476.9 161.2Q477.1 157.7 477.5 154.3M473.4 160Q473.8 157.4 474.4 154.8M477.5 154.3Q476.1 155.2 474.4 154.8M488.7 127.3Q488.5 127.9 487.8 127.7M487.4 133.9Q487.3 132.7 486.5 132M486.5 132Q487.1 129.9 487.8 127.8M487.8 127.7Q487.9 127.8 487.8 127.8M482.4 124.2Q482.7 124.4 482.4 124.3M484.9 137.3Q483.5 136.7 481.9 136.5M481.9 136.5Q482.1 135.7 481.4 135.1M481.4 135.1Q482.8 133.8 483.6 132.1M487.8 127.8Q485 129 482 129.3M483.6 132.1Q483.3 130.4 482 129.3M472.1 127.5Q471.7 129.6 472.8 131.4M472.1 127.5Q471.6 126.5 470.9 127.3M437.2 181.2Q440.1 180.3 442.9 179.2M437.2 181.2Q437.5 181.4 437.2 181.4M442.3 184.4Q443.5 181.9 442.9 179.2M442.3 184.4Q441.1 185.6 439.4 185.3M437.2 181.4Q439.1 182.9 439.4 185.3M431.8 170.1Q432.1 170.6 431.9 171.2M449.5 180Q448.6 180.9 447.3 181.1M447.3 181.1Q445.4 179.5 443.9 177.5M446.5 175.1Q444.8 175.2 443.7 176.6M447.1 174.1Q446.8 174.6 446.5 175.1M438.4 176.2Q438.6 178.9 437.2 181.2M442.9 179.2Q443 178.1 443.9 177.5M417.9 160Q417.2 161.6 416.4 163.1M416.4 163.1Q415.2 163.4 414 163.4M408.3 162Q410.8 163 413.2 164.1M433.9 175.2Q434.1 176.3 433 176.5M431.9 171.2Q430 171.7 428.5 173M433 176.5Q431 177.4 428.7 177.2M428.7 177.2Q429.4 175.1 428.5 173M425.7 171.2Q425.3 172 426.2 172.1M428.5 173Q427.6 171.9 426.2 172.1M419.5 165.9Q417.7 167.9 415.3 169.1M415.3 169.1Q416.1 169.8 417 170.3M417 170.3Q419.2 169.9 421.3 170.4M421.3 170.4Q420.8 170.7 421.3 170.5M417 170.3Q418.7 172.5 419.3 175.2M421.3 170.5Q420.7 172.9 420 175.4M419.3 175.2Q419.7 175.1 420 175.4M432 198Q429.8 196.7 427.3 196.1M430.6 201.2Q428.4 199.8 425.9 199.4M424.9 203.7Q424.2 202.7 424.9 201.7M424.9 201.7Q424.8 200.3 425.9 199.4M413.8 193.5Q412.4 193.1 411.2 192.4M411.2 192.4Q412.4 189.2 413.9 186.2M415.6 186.6Q416.7 189 416.3 191.6M475.5 171.3Q474.8 171.8 474.7 170.9M472.8 170.2Q473.7 170.5 474.7 170.9M481.2 172.6Q479.4 170.4 479.1 167.4M476.8 174.1Q475.5 173 475.5 171.3M467.2 199Q467.6 198.4 467.8 199.2M467.2 199Q465.1 200.1 464.1 202.1M463.9 203.5Q464 202.8 464.1 202.1M456.5 199.1Q457.9 197.7 459 196M456.5 199.1Q455 198.4 453.8 197.2M453.8 197.2Q453.8 195.8 454.4 194.6M454.4 194.6Q455.9 194.2 457.5 194.4M457.5 194.4Q458.9 194.7 459 196M469.4 188.5Q467.6 190.4 465 191M468.8 193.3Q467.1 193.6 465.4 194.1M465 191Q465.9 192.5 465.4 194.1M470 197.2Q469.7 198.2 468.8 198.4M468.8 198.4Q468.6 199.3 467.8 199.2M467.2 199Q466.3 197 464.5 195.8M465.4 194.1Q464.9 194.9 464.5 195.8M460.7 199.5Q461.7 198.3 461 196.9M460.7 199.5Q462.4 200.9 464.1 202.1M461 196.9Q462.1 196.6 463.2 195.9M464.5 195.8Q463.8 195 463.2 195.9M455.3 180.5Q455.6 181.3 455 181.9M460.8 182.1Q459.8 183.1 458.4 183.4M453.2 184Q451.8 181.6 449.5 180M442 196.7Q443.1 195.6 444 194.4M442 196.7Q442.5 198.2 443.7 199.3M443.7 199.3Q445.8 198.3 448.2 198.1M448.2 198.1Q447.8 196 448.1 194M444 194.4Q445.2 193.2 446.9 192.9M446.9 192.9Q447.8 193.1 448.1 194M442.3 193.2Q443.4 193.4 444 194.4M439.9 194.2Q439.7 195.1 439.6 196M439.6 196Q441 195.7 442 196.7M441.6 190.1Q444 190.3 446.3 190.8M446.3 190.8Q446.8 191.8 446.9 192.9M421 112.1Q419.3 113.2 417.4 112.9M426.5 112.5Q423.9 113.4 422.2 115.6M414.3 115.3Q415.7 115.7 416.6 114.5M417.4 112.9Q416.6 113.5 416.6 114.5M481.8 102.8Q480.2 101.5 478.1 101.3M482.1 104.2Q482 103.5 481.8 102.8M462.2 105.2Q464.4 106.2 466.3 107.8M471.7 115Q470.9 115 470 114.9M471.7 110.9Q471.3 113 469.8 114.5M468.7 119.3Q469.4 117.2 469.8 115.1M464.2 117.7Q464.1 116.7 464.9 116M469.8 115.1Q467.4 115.7 464.9 116M468 107.8Q467.8 109.9 468.2 111.8M469.8 114.5Q468.6 113.4 468.2 111.8M461.7 118.1Q460.8 118.2 460.3 117.5M464.2 117.7Q463 118 461.7 118.1M480 139.4Q483.2 140.3 486 142.1M479.9 139.1Q480.5 139 480 139.4M481.9 136.5Q480.3 137.3 479.9 139.1M487.4 146.3Q487.3 144.1 485.8 142.6M470.2 153.6Q469.4 150.8 468.1 148.3M465.5 148.3Q466.8 148.4 468.1 148.3M485.7 166.4Q483.8 163.5 483.3 160M482.4 124.3Q481.4 124.8 480.5 125.4M476.9 119.5Q477.4 121.7 477 123.9M480.5 125.4Q478.9 124.4 477 123.9M477 123.9Q476.2 124.6 475.2 125.1M472.1 127.5Q473.4 126.7 474.8 126.1M446.7 182.9Q445.7 184 444.3 184.6M446.7 182.9Q448.3 184.7 450.5 185.6M444.3 184.6Q446.2 186.6 446.8 189.3M446.8 189.3Q448.8 189.2 449.9 187.6M449.9 187.6Q450.9 186.8 450.5 185.6M442.3 184.4Q443.3 184.4 444.3 184.6M447.3 181.1Q446.5 181.8 446.7 182.9M453.2 184Q451.6 184.4 450.5 185.6M452.5 192.9Q450.1 192.7 448.1 194M446.3 190.8Q446.5 190.1 446.8 189.3M453.1 190.4Q451.1 189.4 449.9 187.6M453.1 190.4Q455 189.4 456.5 187.9M453.5 184Q455.7 185.4 456.5 187.9M439.5 189.2Q438.7 188.9 438.5 188.1M438.5 188.1Q438.4 188 438.4 187.9M438.2 196.6Q438.7 195.8 439.6 196M434.6 193.8Q433.9 193.4 434.3 192.7M438.5 188.1Q436.3 190.3 434.3 192.7M433 176.5Q433.8 178.6 433.9 180.9M438.4 187.9Q435.8 187 433 186.5M435.7 181.2Q433.8 183.6 433 186.5M411.2 192.4Q410.4 192.7 409.5 192.7M413.9 186.2Q414 185.9 413.8 186.1M413.8 186.1Q411.4 188.1 408.6 189.4M408.6 189.4Q409.7 190.8 409.5 192.7M406.7 181.3Q405.5 179.6 403.7 178.8M406.7 181.3Q409.1 181.7 411.5 182.4M411.5 182.4Q412.7 181.7 412.6 180.2M426.2 172.1Q424.8 174.3 422.7 176M420 175.4Q420.8 175.2 420.5 176M422.7 176Q421.6 175.5 420.5 176M424.9 201.7Q422.7 200 420 199.4M420 199.4Q419.3 200.5 418.5 201.3M420 199.4Q419.6 199.2 420 199M423.6 195.6Q422.1 197.7 420 199M415 196.7Q416.4 196.3 417.8 196.3M417.8 196.3Q418.4 198.1 420 199M460.8 191.4Q461.9 190.3 463.3 189.8M460.8 191.4Q459.8 192 458.7 191.4M462.7 186.2Q463.8 187.9 463.3 189.8M465 191Q464.6 189.8 463.3 189.8M463.2 195.9Q462.6 193.3 460.8 191.4M461 196.9Q459.9 196.6 459 196M457.5 194.4Q458.5 193 458.7 191.4M452.5 192.9Q453.2 194.1 454.4 194.6M456.5 187.9Q456.6 188.8 457 188M463.1 185.5Q463.6 186.3 462.7 186.2M463.9 203.5Q462.9 204.7 461.5 205.5M444.9 202.4Q445.2 203.4 446 204.2M444.9 202.4Q443.4 201.9 443.2 200.4M437.7 198.5Q438.2 200.9 440 202.7M447.9 209.9Q445.5 209.5 443.2 208.6M447.9 209.9Q446.8 207.1 447.1 204.1M447.1 204.1Q446.5 203.5 446 204.2M451.6 204.8Q451.9 202.2 452.8 199.7M451.6 204.8Q450.5 203.8 449 203.3M449 203.3Q448.8 201.6 448.7 199.8M452.2 198.7Q450.5 198.7 448.7 198.7M452.2 198.7Q453.1 198.9 452.8 199.7M448.7 198.7Q449.1 199.2 448.7 199.8M447.1 204.1Q447.7 203 449 203.3M444.9 202.4Q446.6 200.8 448.7 199.8M453.8 197.2Q453.2 198.1 452.2 198.7M448.2 198.1Q448.2 198.6 448.7 198.7M422.1 115.9Q420.5 115.6 419.4 116.8M419.4 116.8Q419.3 118.6 418.7 120.4M422.2 115.6Q422 115.7 422.1 115.9M427.5 117.6Q425.7 117.2 424.4 118.4M463.4 114.1Q462.7 113.3 463.7 112.7M462.2 110.6Q460.7 110.1 459.1 109.7M459.1 109.7Q458.7 111.1 458 112.4M468.2 111.8Q466.1 112.8 463.7 112.7M480.7 166.3Q479.9 164 479.5 161.7M479.7 129.7Q479.1 131.4 478.8 133.1M477.4 133.5Q477.2 134.2 477.3 133.5M474.8 126.1Q475.3 127.5 476 128.8M477.1 139.2Q477.2 136.3 477.4 133.5M475.3 134.7Q475.9 133.4 477.3 133.5M472.8 131.4Q473.8 130.8 475 131.2M427.3 196.1Q428.4 194.2 429.1 192.1M434.3 192.7Q434.2 192 433.6 192.5M428.2 178.1Q428.7 177.8 428.7 177.2M428.2 178.1Q429.4 179.7 430.3 181.5M433.9 180.9Q432.7 181.6 431.3 181.8M430.3 181.5Q430.6 182.2 431.3 181.8M433 186.5Q432.6 185.9 432 186.5M431.3 181.8Q431.3 184.2 432 186.5M433.6 192.5Q432.5 189.7 431.7 186.7M432 186.5Q431.9 186.6 431.7 186.7M405.1 186Q406.5 185.7 407.4 186.8M407.4 186.8Q406.8 187.5 407.7 188M402.5 180.1Q403.9 183 404.8 186M408.6 189.4Q408.8 188.2 407.7 188M406.7 181.3Q406.3 183.8 405.1 186M411.5 182.4Q411.9 182.8 411.6 183.3M411.6 183.3Q409.4 184.9 407.4 186.8M413.2 164.1Q413.9 164.8 413.1 165.3M419.3 175.2Q417.9 175 416.6 175.2M428.2 178.1Q427.9 178.8 427.4 178.2M422.7 176Q423.1 176.4 423.7 176.7M427.4 178.2Q425.6 177.2 423.7 176.7M420.5 176Q420.1 177.5 419.8 179M418.4 180.7Q419.4 180.1 419.8 179M413.8 193.5Q414.8 194.9 415 196.7M417.8 196.3Q418.3 194.5 420.1 193.7M422.7 194.5Q421.3 194.4 420.1 193.7M460.7 199.5Q459.5 200 459.1 201.3M456.5 199.1Q457 200 456.7 200.9M459.1 201.3Q457.8 201.8 456.7 200.9M461.5 205.5Q461.1 204.4 460 204.3M459.1 201.3Q459.2 202.9 460 204.3M452.8 199.7Q454.5 200.2 455.7 201.7M456.7 200.9Q456.2 201.2 455.7 201.7M418.4 180.7Q418.4 181.4 418.7 182.1M457.2 209.9Q457.1 207.3 456.4 204.8M451.7 209.3Q452 207.2 451.8 205.1M451.8 205.1Q453.4 204.4 455 203.8M455 203.8Q455.9 204 456.4 204.8M460 204.3Q458.3 205.1 456.4 204.8M451.6 204.8Q451.5 205.1 451.8 205.1M455.7 201.7Q455.8 202.9 455 203.8M424.6 181.8Q424.2 182.2 423.7 181.8M424.6 181.8Q425.8 183 427.1 184.1M427.4 178.2Q425.8 179.9 424.6 181.8M423.7 176.7Q423.7 179.3 423.7 181.8M430.3 181.5Q428.3 182.2 427.1 184.1"/>
<path id="mR1" d="M404 106.6Q403.6 105 404.8 103.9M454.7 99.2Q454.5 99.9 454.5 100.5M454.7 99.2Q456.9 97.9 459.2 96.5M459.2 96.5Q460.2 99 459.6 101.6M454.5 100.5Q454.8 101.8 456 102.2M438.5 100.2Q438.5 102.1 437.4 103.6M443.7 101.7Q441.9 103.2 441.6 105.6M441.6 105.6Q441.2 105.2 441.2 105.8M441.2 105.8Q439.2 104.8 437.4 103.6M441.6 105.6Q443.2 106.9 445.2 107.6M445.2 107.6Q444.7 108.9 444 110M441.2 105.8Q439.6 107.4 439.6 109.6M439.6 109.6Q440.2 110.4 441.1 110.9M441.1 110.9Q442.4 110 444 110M439.4 122.3Q438.1 122.5 437.1 121.6M439.4 122.3Q440.8 123.9 442 125.6M435.6 125.6Q435.7 127.2 437 128.1M442 125.6Q441.1 126.6 440.9 128M437 128.1Q438.4 128.1 439.8 128.7M415.3 128.3Q418.3 128.3 421.3 128.6M415.3 128.3Q415.3 127.4 414.5 127.6M421.3 128.6Q420.8 126.9 420.9 125.3M414.6 126.7Q416.5 126.2 417.7 124.5M416.5 132.5Q417.1 133.2 416.5 133.8M416.5 133.8Q417.9 134.7 417.8 136.4M420.8 136Q421.2 133.2 420.7 130.4M440 130.2Q438.4 131.2 437.5 133M440 130.2Q441.5 132.2 442.8 134.3M437.5 133Q439.1 134 440.6 135.2M440.6 135.2Q441.5 134.3 442.8 134.3M391.7 149.7Q391.6 147.4 391.1 145.1M391.1 145.1Q391.5 145.3 391.1 145.1M391.1 145.1Q393 145.4 394.8 144.9M396.9 147Q395.8 148.2 395.5 149.8M391.3 150.1Q392 150.3 391.7 149.7M396.4 141.7Q396 143.5 394.8 144.9M392.6 136.2Q393.5 135.9 394.2 135.3M396.2 135.8Q397.8 137.9 398.7 140.3M396.4 141.7Q397.1 141.5 397.7 141.2M397.7 141.2Q397.8 140.3 398.7 140.3M396.2 135.8Q398.1 134.6 400.2 133.7M398.7 140.3Q399 140.3 399.3 140.3M405.4 133Q403.7 134.6 401.4 134.5M405.4 133Q405.6 135.8 406.3 138.5M406.3 138.5Q406.6 139.4 405.8 139M390.3 130.2Q392.6 130 395 129.9M395.7 128.9Q395.4 129.5 395 129.9M394.3 134.6Q394.5 132.2 395 129.9M397.1 123.3Q397 123.2 397.1 123.1M397.1 123.3Q399.4 124.7 401.6 126.2M397.1 123.1Q397.5 122.1 398.1 121.4M398.1 121.4Q400.5 120.4 403 121.1M406.8 131.2Q407.1 129.8 406.3 128.7M406.8 131.2Q408.5 132.4 410.4 133.5M414.4 127.6Q410.7 128.4 407 127.8M406.3 128.7Q407.2 128.7 407 127.8M410.4 133.5Q410.8 133.5 411 133.2M405.4 133Q406 132.1 406.8 131.2M410.5 136.7Q410.4 135.1 410.4 133.5M406.3 138.5Q408.3 138.9 409.8 137.6M415.3 128.3Q415.1 130.6 416.5 132.5M414.5 127.6Q414.8 128.3 414.4 127.6M416.5 133.8Q413.6 134.1 411 133.2M416.8 137.8Q413.6 137.7 410.5 136.7M392 114.7Q392.2 113.9 391.9 113.2M398.1 116.2Q397.1 116.6 396.9 117.6M398.1 116.2Q397.5 114.9 397.4 113.5M391.9 113.2Q394.6 113.9 397.4 113.5M391 116.9Q391.9 118.4 392.1 120.2M392.1 120.2Q392.1 120.7 391.8 121.1M391.8 121.1Q390.3 121.3 390 122.8M392 114.7Q391.7 115.9 391 116.9M391.9 113.2Q391.5 112.7 391.3 112.1M396.6 117.6Q394.3 118.7 392.1 120.2M397.1 123.1Q394.3 122.6 391.8 121.1M398.1 121.4Q396.9 119.7 396.9 117.6M397.1 123.3Q396.9 125.7 395.1 127.1M407.7 102.6Q407.2 105.1 408.1 107.4M408.1 102.2Q409.7 102.1 411.1 103M411.1 103Q412.7 104.5 413.9 106.4M404.8 103.9Q406.3 103.2 407.7 102.6M404.6 109.4Q405.9 109.1 407.1 108.6M407.1 108.6Q408 108.4 408.1 107.4M414 98.6Q413 101.2 411.1 103M414.1 106.6Q414 106.4 413.9 106.4M407.1 108.6Q409.5 109.6 411.6 111.3M417.4 101.8Q416.7 100.5 415.6 99.5M493 122.8Q491.4 123.9 489.5 123.9M489.5 123.9Q489.7 125.8 488.7 127.3M488.7 127.3Q490.2 128.3 491.7 129M442 125.6Q444 126 445.7 125M445.7 125Q446.2 125.2 446.2 125.7M447.1 129.4Q446.1 127.6 446.2 125.7M440.5 116.1Q442 116.8 443.3 117.6M439 116.7Q437.8 118.4 436.3 119.8M445.7 125Q446.7 124.2 445.9 123.1M445.9 123.1Q444.7 122.8 445 121.5M443.5 120.4Q444.6 120.5 445 121.5M446.2 125.7Q449.3 126 452.1 124.7M450.9 128.8Q451.3 126.7 452.1 124.7M444.5 101.3Q443 98.4 441.6 95.5M441.6 95.5Q442.9 95.7 444.2 95.3M444.2 95.3Q444.9 97.9 446.7 99.9M446.4 101.2Q446.6 100.5 446.7 99.9M454.7 99.2Q452.9 97.7 452.4 95.5M452.4 95.5Q449.2 97.1 446.7 99.9M440.5 116.1Q441.4 114.8 441.6 113.1M439.6 109.6Q437.9 109.7 436.1 110M441.6 113.1Q442.1 111.8 441.1 110.9M435.8 111.3Q435.1 110.5 436.1 110M433.4 106.9Q433.8 107 433.6 107.4M436.1 110Q435.3 108.3 433.6 107.4M435.5 132.8Q435.7 131.9 435.2 131.1M435.5 132.8Q434.1 133.8 434 135.5M435.2 131.1Q433.6 130.9 432.3 130.1M434 135.5Q432.1 136 430.3 135.4M432.3 130.1Q430.1 130.5 429 132.3M432 126.5Q432.7 127.1 432.4 126.3M427.9 118.2Q427.7 120.8 427.9 123.4M427.9 118.2Q430.3 119.3 432.6 120.2M427.9 123.4Q429.5 122.1 431.4 121.8M432.6 120.2Q432.1 121 431.4 121.8M432.4 126.3Q432.4 123.9 431.4 121.8M436.3 119.8Q436 118.9 435.1 119.4M435.1 119.4Q433.8 119.6 432.6 120.2M421.3 128.6Q421.6 128.5 421.4 128.7M421.3 128.6Q423.9 127.9 425.6 126M427.3 131.2Q428.2 128.8 427.9 126.2M429 132.3Q428.5 131.2 427.3 131.2M427.8 123.6Q428.4 124.8 427.7 125.9M428.9 137.6Q430.2 136.8 430.3 135.4M425.7 131.6Q423.5 133.4 422.5 136M433.6 162.1Q433.1 163.5 431.9 164.5M433.6 162.1Q432.5 160.1 432.1 157.9M428.6 164Q428.4 163 427.4 162.8M427.4 162.8Q428.1 160.9 428.7 158.9M428.7 158.9Q429.9 158 431.4 157.8M432.1 157.9Q431.7 158.3 431.4 157.8M391.3 150.1Q391.7 151.9 391.8 153.7M396.5 155.4Q393.9 155.2 391.8 153.7M396.5 155.4Q397.4 155.1 397.6 154.2M395.5 149.8Q396.5 151.4 397.6 153M397.6 154.2Q397.6 153.6 397.6 153M396.5 155.4Q397 156.5 396.1 157.4M396.1 157.4Q398.2 159.2 399.8 161.4M398.6 146.6Q399.3 146.2 398.8 145.5M401.7 148.6Q400 151.1 397.6 153M401.7 148.6Q401.8 148.4 401.6 148.6M422.4 149.8Q422 150.9 421.6 152.1M422.4 149.8Q422.5 148.8 423.4 149.2M421.6 152.1Q421.6 153.8 422.8 155.1M425.1 149.6Q424.8 150.5 425.7 150.5M425.6 155.6Q424.1 155.7 422.8 155.1M415.3 150.6Q415.6 149.5 416.7 149.8M415.3 150.6Q416.4 153.7 418.5 156.2M416.7 149.8Q419.5 149.4 422.4 149.8M418.5 156.2Q420.1 154.2 421.6 152.1M428.8 146.1Q430.6 147.1 432.3 148.1M428.8 146.1Q427.6 148.5 425.1 149.6M432.3 148.1Q432.7 150 431.6 151.6M431.5 151.7Q431.9 153.5 430.8 155M430.8 155Q428.7 153.3 426.1 152.8M425.9 156.8Q426.9 158.4 428.7 158.9M425.9 156.8Q426.6 156 425.6 155.6M431.4 157.8Q430.7 156.5 430.8 155M401.7 126.9Q402.5 127.7 403.6 128.1M401.7 126.9Q399.5 127.9 397.5 129.2M397.5 129.2Q398.4 131.6 400.1 133.4M395.7 128.9Q396.6 128.9 397.5 129.2M401.6 126.2Q402.2 126.4 401.7 126.9M400.2 133.7Q400.1 133.6 400.1 133.4M406.3 128.7Q405.1 127.7 403.6 128.1M401.7 116.6Q402.9 118.5 403.3 120.7M401.7 116.6Q399.9 116.3 398.1 116.2M403 121.1Q402.8 120.5 403.3 120.7M403.3 120.7Q403.1 120.6 403.3 120.7M407.1 127.5Q406.3 127.5 407 127.8M407.1 127.5Q407.6 126 406.6 124.7M403.3 120.7Q404.7 122.9 406.6 124.7M399.6 110.1Q398.7 109 398.3 107.7M399.6 110.1Q398.3 110.8 397.9 112.2M397.9 112.2Q396.4 111.4 394.9 110.5M403.9 110.7Q404.4 110.1 404.6 109.4M403.9 110.7Q401.8 110.2 399.6 110.1M401.7 116.6Q402.6 116.1 402.9 115.1M397.4 113.5Q398.2 113 397.9 112.2M394.6 106.6Q394.5 107.5 395.3 107M404 111.1Q407.4 112.6 410.1 115.1M402.9 115.1Q405.9 116.4 408.9 117.6M489.7 159.8Q490.7 158.8 491.5 157.7M491.5 133.4Q489.8 133.7 488.2 134M490.3 139Q491.9 138 493.1 136.5M491.7 129Q491.7 131.2 491.5 133.4M454.4 131.8Q452.6 130.4 450.9 128.8M453.4 132.7Q450.9 132.5 448.7 133.8M448.7 133.8Q447.8 132.3 446.1 131.9M442.8 134.3Q443 133.6 443.1 134.3M441.6 113.1Q443.8 114.3 446.2 113.8M444 110Q445.6 110.8 446.6 112.2M446.6 112.2Q445.6 112.8 446.2 113.8M443.3 117.6Q444.7 116 446.9 116M446.2 113.8Q446.8 114.8 446.9 116M445 121.5Q446.2 118.8 448.3 116.8M446.9 116Q447.6 116.5 448.3 116.8M488.5 163.8Q487.7 165.3 486.4 166.3M469.7 141.2Q471.2 140.5 471.9 139M469.7 141.2Q466.8 140 464.4 138M469.5 133.7Q469.1 133.6 468.8 133.4M464.4 138Q466.3 135.4 468.8 133.4M467 142.9Q468.6 142.6 469.6 141.3M469.6 141.3Q470.5 141.5 469.7 141.2M464.4 138Q463.6 138.3 462.8 138.1M462.5 141Q461.9 139.5 462.8 138.1M467 142.9Q466.4 144 465.6 145M462.5 141Q461.3 141.6 461.5 143M465.6 145Q463.2 144.8 461.5 143M476 183.3Q478.3 183.6 480.3 184.8M479.8 176.4Q480 176.8 480.5 176.8M400.2 170.9Q399.1 170.8 398.5 171.6M400.2 170.9Q400.2 171.6 400.9 171.3M402.6 175.4Q400.6 174.9 398.6 175.5M404.1 177.8Q404.2 178.5 403.7 178.8M402.5 179.6Q402.6 178.4 403.7 178.8M406.4 166Q406.6 165.4 406.2 165M406.4 166Q403.3 167.4 400.5 169.2M406.2 165Q404.5 163.7 402.4 163.4M400.5 169.2Q400 167.5 399.6 165.9M399.6 165.9Q399.9 164.5 400.7 163.2M400.7 163.2Q401.5 163.2 402.4 163.4M408.3 162Q407.6 163.7 406.2 165M404.9 159.7Q404.3 162.1 402.4 163.4M400.2 170.9Q399.6 169.9 400.5 169.2M397.4 166Q398.5 166 399.6 165.9M399.8 161.6Q396.9 161.8 394.3 163.4M399.8 161.6Q399.9 162.6 400.7 163.2M402.6 157.9Q404 158.6 404.9 159.7M399.8 161.4Q400.6 161.4 399.8 161.6M426 169Q425.3 168.9 425.5 168.3M426 169Q427.6 168.8 428.8 167.7M428.6 164Q428.5 165.9 428.8 167.7M427.4 162.8Q426.8 163 426.2 163.2M444.2 95.3Q445.6 95 446.6 94.1M433.3 116Q434.2 115.1 433.6 113.9M433.6 113.9Q431.7 113.2 429.9 112.1M428.2 115.7Q428.2 114.2 427.6 112.8M427.6 112.8Q428.7 112.2 429.9 112.1M427.5 117.6Q428.2 116.8 428.2 115.7M433.6 107.4Q432.4 110.3 429.9 112.1M427.1 112.4Q427 110.4 426.9 108.4M431.5 106Q432.8 105.8 433.4 106.9M431.6 151.6Q433.8 152.3 436 152.7M436.5 150.7Q436.9 151.9 436 152.7M428.9 137.6Q430 139.8 430.8 142M430.8 142Q432.4 141.7 434.1 142.1M434.1 142.1Q434.5 139.9 436.1 138.3M440.6 135.2Q440 137.1 438.3 138.2M438.3 138.2Q437.2 138.9 436.1 138.3M417.5 145.1Q416.7 144.4 416 143.6M417.5 145.1Q417.6 144.3 417.7 145.1M417.7 145.1Q419.7 144.1 420.6 142.2M415.4 141.8Q416.5 141.1 416.6 139.8M416.6 139.8Q418.2 141.6 420.6 142.2M415.3 150.6Q414.6 150.9 413.9 150.6M416.7 149.8Q416.8 147.4 417.5 145.1M412.2 148.6Q413.7 149 413.9 150.6M422.4 146.2Q419.9 146.3 417.7 145.1M422.4 146.2Q423.3 147.6 423.4 149.2M421.1 136.1Q421.4 139.3 422 142.4M422 142.4Q421.3 142 420.6 142.2M422.4 146Q424.4 144.4 426.6 143M426.6 143Q425.4 142.5 424.9 141.2M422.4 146.2Q422.3 146.1 422.4 146M422 142.4Q422.2 142.2 422.1 142.4M429 144.1Q428.6 145.1 428.8 146.1M429 144.1Q427.4 144.4 426.6 143M430.8 142Q430.2 143.3 429 144.1M461.7 162.2Q460.8 161.4 460.3 160.3M461.7 162.2Q463.7 160.7 466.1 160.4M461.9 154.8Q464.5 157.2 466.1 160.4M456.1 151.5Q454.5 154.1 453.8 157.2M461.9 154.6Q460.8 153.8 459.5 154.5M474.3 177.7Q474.5 176.9 474.6 176.1M478.8 175Q477.8 174.5 476.8 174.1M474.6 176.1Q475.6 175 476.8 174.1M475.6 183.5Q474.8 186.1 474.7 188.9M465.4 179Q466.3 181.6 466.9 184.4M463.3 178.5Q461.7 178.5 460.7 179.7M460.8 182.1Q461.2 180.9 460.7 179.7M462.8 173.6Q463.1 176.1 463.3 178.5M462.8 173.6Q461.1 174.1 459.3 173.6M459.3 173.6Q458.6 175.1 458.9 176.8M458.9 176.8Q458.9 178.1 459.8 179.2M459.8 179.2Q460.2 179.6 460.7 179.7M393.7 159.2Q393.8 161 392.6 162.3M406.1 144.5Q404.9 144 405.4 142.8M411.5 148.3Q410.5 147.1 410.4 145.6M415.4 141.8Q413.6 142.2 411.8 142.2M409.8 137.6Q410.1 140 411.5 141.9M403.7 149.2Q403.9 151.7 404.6 154.1M404.6 154.1Q405.4 154.4 406.3 154.5M406.3 154.5Q407.2 154.3 407.7 153.5M411.5 148.3Q410.5 149.5 408.9 149.4M409.2 158.5Q407 157 406.3 154.5M409.2 158.5Q409 159.6 408.2 160.5M412.5 157.6Q410.9 158.3 409.2 158.5M412.5 157.6Q412.2 155.2 412.6 152.8M426.5 112.5Q424.1 111.6 421.8 110.8M407.2 119.3Q408.2 118.9 408.8 118M403.3 120.7Q405.5 120.5 407.2 119.3M406.6 124.7Q407.6 124.1 407.9 123M407.1 127.5Q409 125 411.3 122.8M432.1 95.2Q431.5 96 430.8 96.8M425.5 107.4Q424.5 106.2 424.4 104.6M419.8 107.7Q420.7 106.4 421.3 104.9M424.4 104.6Q422.8 104.8 421.3 104.9M414.3 107.1Q415.2 107.5 416 108.1M416 108.1Q418 108.7 419.8 107.7M421.3 104.9Q419.9 103.5 419 101.7M437.2 97.3Q437.1 97.2 437 97.3M437.2 97.3Q438.6 95.7 440.6 95.1M437 97.3Q435.4 96 434.4 94.2M438.5 100.2Q437.8 98.8 437.2 97.3M433.8 99.9Q434.9 99.9 434.8 98.7M434.8 98.7Q435.6 97.6 437 97.3M441.6 95.5Q441.2 95.1 440.6 95.1M430.8 96.8Q432.8 97.8 434.8 98.7M490.4 144.7Q489.5 145 490 145.8M490.4 144.7Q493.3 145.1 496.1 144.1M490.7 141.2Q490.5 143 490.4 144.7M490.9 117.6Q490 118.7 488.7 118.3M489.5 123.9Q487.8 122.9 487.6 121M487.6 121Q488.9 120 488.7 118.3M488.7 118.3Q488 117 486.9 116M487.7 112.6Q488.1 114.5 486.9 116M482.4 110.9Q482.5 110.6 482.8 110.8M482.4 110.9Q482 110.7 481.9 111.2M479.7 117.5Q479.8 115.8 479.3 114.1M479.7 117.5Q480.6 117.7 481.4 118.2M481.4 118.2Q483.5 117.9 484.6 116.2M482.8 110.8Q484.2 113.3 484.6 116.2M453.4 139.5Q453 138.1 451.6 137.7M453.4 139.5Q451.5 141 450.2 142.9M449.1 137Q448.9 138.5 447.5 138.6M447.5 138.6Q447.4 140.1 447.1 141.5M447.1 141.5Q448.2 142.4 449.5 143M453.4 132.7Q452.4 135.1 451.6 137.7M454.5 139.5Q453.9 139.9 453.4 139.5M443.7 135.8Q443.6 135 443.1 134.3M445 142.1Q446.3 142.6 447.1 141.5M452.1 150Q451.1 150.9 450 150M452.1 150Q452.6 148.9 453.6 149.4M447.8 149.4Q448 149 448 148.5M447.9 107.7Q449.9 107.8 451.8 107M447.9 107.7Q448.4 109.1 448.4 110.6M451.8 107Q452.8 107.2 453.3 108M448.4 110.6Q449.2 111.1 450.1 111.3M451.1 102.1Q450.6 104.7 451.8 107M457 106.7Q455.3 107.5 453.3 108M473.4 161.3Q470.5 159.7 467.2 159.8M473.4 161.3Q473.2 161.2 473.4 161.3M473.4 161.3Q472.6 160.7 473.4 160M467.2 159.8Q467.6 157.5 468.2 155.3M473.4 160Q470.9 157.5 468.2 155.3M463.6 152.8Q462.9 153.8 461.9 154.6M466.1 160.4Q466.1 160.7 466.1 160.4M468.2 154.7Q468.1 155 468.2 155.3M470.8 144.8Q473.6 144.2 476.4 144.1M470.8 144.8Q470.7 142.9 469.6 141.3M471.9 139Q472.3 139.4 472.7 139M476.4 144.1Q475.4 142.1 475.2 139.9M465.2 148.5Q464.6 148.2 464 147.8M459.4 146.5Q460.1 148.6 461.2 150.6M465.6 145Q465.4 146.6 465.5 148.3M455.5 149.9Q458.4 150.5 461.2 150.6M455.5 149.9Q455.8 150.7 456.1 151.5M461.2 143.1Q459.6 140.5 457.2 138.4M461.2 143.1Q459.6 143.3 458.9 144.8M455.6 139.7Q456 138.6 457.2 138.4M462.8 138.1Q461.4 137.9 461 136.5M459.5 135.9Q460.1 136.7 461 136.5M461.3 143.1Q461.3 143.2 461.2 143.1M458.9 146.2Q458 145.4 458.9 144.8M453.1 145.3Q455.3 144.9 456.5 143M455.5 149.8Q454.4 150 453.6 149.4M454.5 139.5Q455.1 139.4 455.6 139.7M457.9 132.3Q457.5 131.4 456.6 131.4M457.9 132.3Q459.1 133.9 459.5 135.9M452.1 150Q453.3 153.5 452.7 157.2M453.8 157.2Q453.3 157 453.3 157.6M453.3 157.6Q452.6 157.9 452.7 157.2M452.7 157.2Q451.5 156 449.8 156.4M448.7 164.8Q449.4 163 448.3 161.5M448.7 164.8Q449.4 165.4 449.9 166.1M449.9 166.1Q451.3 165.7 452.7 165.7M448.3 161.5Q450.7 159.9 453.6 159.4M452.7 165.7Q453.5 164.1 454.4 162.6M454.4 162.6Q454.4 161.8 454.5 160.9M454.5 160.9Q454.8 159.7 453.6 159.4M446.6 159.8Q446.6 159.9 446.7 159.8M446.6 159.8Q443.8 160.9 441.8 163.1M442.8 164.6Q443 163.4 441.8 163.1M442.8 164.6Q445.8 163.8 448.7 164.8M446.7 159.8Q447.4 160.8 448.3 161.5M453.3 157.6Q453 158.6 453.6 159.4M446.7 159.8Q448 158.4 448.7 156.5M449.8 156.4Q449.3 157 448.7 156.5M461.7 162.2Q460.9 163.3 461.3 164.6M458.9 160.1Q456.6 159.8 454.5 160.9M433.6 162.1Q435.9 163.1 438.4 163.2M438.4 163.2Q437.4 164.8 436.7 166.6M436.7 166.6Q435.3 167.7 433.6 167.2M433.6 167.2Q433.5 169.1 431.8 170.1M433.9 175.2Q435.9 176.6 438.4 176.2M458.4 170.6Q457.3 169.4 457.3 167.9M458 172.3Q455.7 172.1 453.6 173.1M457.3 167.9Q455.5 167.4 453.8 167M463.6 168.1Q460.7 168.8 458.4 170.6M463.8 167.6Q462.6 166 461.3 164.6M459.7 165.1Q458.2 166.2 457.3 167.9M462.8 173.6Q463.2 173.9 463 173.5M463 173.5Q462.8 172.2 463.7 171.3M458.9 176.8Q456 176.4 453.1 176.4M455.3 180.5Q457.6 179.9 459.8 179.2M455.3 180.5Q454.1 178.7 453 176.9M453 176.9Q452.7 176.6 453.1 176.4M453.6 173.1Q452.9 172.8 453.1 173.5M447.6 168.8Q448.8 170.9 448.5 173.4M448.5 173.4Q450 172.9 451.5 172.9M444.8 169.6Q445.6 172.1 447.1 174.1M444.8 169.6Q446.4 169.6 447.6 168.8M448.5 173.4Q447.5 173 447.1 174.1M486.4 166.3Q486.1 166.9 485.7 166.4M400.9 171.3Q402.7 171.3 404.6 171.2M406.4 166Q407 166.6 407.3 167.5M431.4 208.8Q433 207.9 433.8 206.3M435.8 209.9Q436.3 207.9 435.1 206.2M433.8 206.3Q431.5 205.9 429.5 204.7M433.7 200.3Q434.7 203 435.4 205.8M432.8 199.7Q431.7 200.5 430.6 201.2M435.4 205.8Q435.6 206.3 435.1 206.2M422.3 163.6Q422.7 163.2 423.2 163M423.2 163Q422.4 161 422.4 158.7M422.4 158.7Q421.3 157.7 419.8 157.3M417.9 160Q418 158.9 417.8 157.7M426.2 163.2Q424.7 163.3 423.2 163M425.5 168.3Q423.5 167.1 421.1 166.9M420.6 165.9Q421.1 164.5 422.3 163.6M425.9 156.8Q424.5 158.3 422.4 158.7M422.8 155.1Q421.6 156.7 419.8 157.3M418.5 156.2Q419.3 156.6 418.5 157M412.5 157.6Q412.8 158 413.3 158M413.3 158Q415.6 158.3 417.8 157.7M460.1 95.9Q460.3 95.9 460.4 95.8M437 155Q439.7 154.2 442.2 152.9M444 152.6Q444.2 152.5 444 152.6M432.1 157.9Q434.1 156.4 436.6 156.4M436 152.7Q435.8 154.1 437 155M439.9 162.2Q439.3 162.9 438.4 163.2M439.9 162.2Q439.4 161.3 439.6 160.3M437.5 149.6Q436.6 149.8 436.5 150.7M446.6 159.8Q444.6 158.7 443.3 156.7M441.8 163.1Q441 162.3 439.9 162.2M438.1 148Q437.2 148.5 437.5 149.6M443.2 148.1Q444.7 148.6 444.8 150.2M435.9 144.8Q436.7 144.7 435.9 144.7M435.9 144.8Q436.9 144.9 436.8 145.9M435.9 144.7Q438.2 142.5 441.3 141.6M443.2 142.6Q442.7 143.5 443 144.5M432.7 148Q434.3 146.4 435.9 144.8M434.1 142.1Q435.1 143.4 435.9 144.7M438.1 148Q437.4 146.9 436.8 145.9M438.3 138.2Q440 139.7 441.3 141.6M443.2 148.1Q443.5 146.3 443 144.5M443.7 135.8Q442.2 138.7 442.4 141.9M473 163.1Q470.9 163.6 469.2 165M467.5 165.2Q468.3 165.1 469.2 165M463.8 167.6Q464.7 166.8 465.8 167.3M472.8 170.2Q472.2 170.5 471.6 170.5M467 171.9Q466.5 173.2 465.6 174.3M467 171.9Q468.5 171.5 469.9 171M469.9 171Q470.1 170.9 470.1 171.1M470.1 171.1Q469.7 173.5 469.3 175.9M465.6 174.3Q466.9 175.6 468.5 176.7M469.3 175.9Q469.4 176.6 468.6 176.7M463 173.5Q464.1 174.5 465.6 174.3M463.7 171.3Q465.3 172 467 171.9M465.8 167.3Q468.2 168.8 469.9 171M471.6 170.5Q470.6 170.1 470.1 171.1M465.4 179Q466.9 177.8 468.5 176.7M474.6 176.1Q471.9 176.8 469.3 175.9M468.6 185Q467.8 184.8 466.9 184.4M393.7 159.2Q392.9 157.9 391.3 157.7M411.2 114.5Q412.6 115.4 414.3 115.3M412.8 122.4Q413.8 121 415.4 120.3M414.3 115.3Q415.3 117.7 415.4 120.3M417.7 124.5Q418.8 122.7 418.3 120.5M418.3 120.5Q416.8 120.4 415.4 120.3M426.5 99.7Q427.5 98.7 428.8 99.2M426.5 99.7Q425.9 101.1 424.5 101.5M424.7 104.2Q423.9 102.9 424.5 101.5M428.8 99.2Q429.4 100.1 430 100.9M430 103.3Q429.7 102.1 430 100.9M428.9 97.8Q428.3 98.5 428.8 99.2M421.1 99.5Q422.6 100.9 424.5 101.5M424.4 104.6Q423.9 104 424.7 104.2M431.5 106Q430.3 104.9 430 103.3M433.8 99.9Q431.9 100.6 430 100.9M475 107.1Q474.2 107.6 475.1 107.6M481.9 111.2Q478.6 109.3 475.1 107.6M479.2 106.1Q477.7 106.4 476.3 106.1M484.4 105.6Q484.3 108 483.8 110.3M483.8 110.3Q485.8 110.1 487.3 111.4M482.8 110.8Q483.6 111.2 483.8 110.3M482.1 104.2Q481.1 105.8 479.2 106.1M486.9 116Q485.8 116.9 484.6 116.2M482.4 124.2Q485.1 122.9 487.4 121M487.4 121Q484.9 119 481.6 118.5M487.6 121Q487.4 120.1 487.4 121M481.4 118.2Q481 118.7 481.6 118.5M468.2 129.6Q468.2 130.8 467.2 131.5M466.4 131.3Q466.7 132.2 467.2 131.5M466.4 131.3Q465.6 129.9 464 129.7M470.9 127.3Q469.4 128.2 468.2 129.6M468.8 133.4Q467.9 132.5 467.2 131.5M461 136.5Q463.2 133.4 466.4 131.3M462.6 129.5Q460 130.3 457.9 132.3M462.6 129.5Q463.3 129.6 464 129.7M475 107.1Q473.4 105.7 471.2 105.8M470.4 106.2Q470.7 105.9 471.2 105.8M470.4 106.2Q471.8 108.4 471.7 110.9M475.1 107.6Q475.4 107.9 475.1 108.1M479.3 114.1Q477 113.8 475.4 112.2M475.4 112.2Q475.6 110.1 475.1 108.1M479.7 117.5Q478.5 118.7 476.9 119.5M471.7 115Q473.1 112.9 475.4 112.2M476.9 119.5Q475.9 119.4 475 118.8M466 103.3Q468 101.3 469.1 98.8M463.4 98.2Q464.2 97.8 465 97.8M465 97.8Q467 98.4 469.1 98.8M466.1 124.5Q465 124 464.7 122.9M464.7 122.9Q465.2 121.6 466 120.5M452.1 124.7Q452.4 124.8 452.3 124.5M456.5 129.1Q457 130.2 456.6 131.4M456.5 129.1Q454.8 126.9 453.1 124.7M452.3 124.5Q452.9 123.9 453.1 124.7M482.8 148.7Q484.7 148.3 486.7 148.2M482.8 148.7Q481.9 149.1 481.3 149.9M486.7 148.2Q488.6 149.5 489.1 151.7M488.6 153.2Q488.1 153.3 488 153.8M493.5 149.4Q491.3 150.5 489.1 151.7M487.4 146.3Q486.6 147.1 486.7 148.2M492.4 155.3Q490.8 153.7 488.6 153.2M489.7 159.8Q489.7 160.3 489.4 159.8M487.7 154.3Q489.1 156.9 489.4 159.8M488.5 163.8Q488.5 162.2 488.8 160.6M489.4 159.8Q489.7 160.7 488.8 160.6M487.8 127.7Q484.9 126.4 482.4 124.3M486.5 132Q485.1 132.1 483.6 132.1M472.7 139Q474.3 137 475.3 134.7M475.3 134.7Q473.9 133 471.7 132.5M471.7 132.5Q472.6 132.3 472.8 131.4M438.4 169.7Q437.8 169.7 438.4 169.7M438.4 169.7Q440.5 168 442.9 166.8M442.9 166.8Q443.1 168.6 444.6 169.6M431.9 171.2Q432.3 171.5 432.8 171.9M442.8 164.6Q442.4 165.7 442.9 166.8M439.9 174.9Q440.6 174.2 441.2 175M441.2 175Q442.4 172.9 443.5 170.6M444.8 169.6Q444.6 169.9 444.6 169.6M449.5 180Q449.9 179.2 450.4 178.4M450.4 178.4Q448 177.3 446.5 175.1M443.7 176.6Q443.3 177.1 443.9 177.5M453 176.9Q451.7 177.7 450.4 178.4M441.2 175Q442.8 175.2 443.7 176.6M420.6 165.9Q420.1 165.1 419.5 165.9M419.5 165.9Q418.2 164.3 416.4 163.1M413.3 158Q413.9 160.7 414 163.4M413.2 164.1Q414.1 164.3 414 163.4M426 169Q426.3 170.2 425.7 171.2M421.1 166.9Q421.5 168.6 421.3 170.4M425.7 171.2Q423.6 170 421.3 170.5M427.3 196.1Q426.3 195.9 426.1 196.8M426.1 196.8Q425.2 198.1 425.9 199.4M413.8 193.5Q414.7 192.1 416.3 191.6M413.9 186.2Q414.6 187 415.6 186.6M475.6 165.3Q475.4 168.1 474.7 170.9M475.6 165.3Q477.2 166.7 479.3 167.2M479.3 167.2Q479.9 167.8 479.1 167.4M479.1 167.4Q477.1 169.1 475.5 171.3M473 163Q474.2 164.3 475.6 165.3M484 167.2Q482.4 166.6 480.7 166.3M480.7 166.3Q480.2 167 479.3 167.2M455 181.9Q456.8 182.4 458.4 183.4M453.2 184Q453.4 184.6 453.5 184M455 181.9Q454.2 182.9 453.5 184M416 108.1Q416.6 110.5 417.4 112.9M421.8 110.8Q421.8 111.7 421 112.1M421 112.1Q422.4 113.6 422.2 115.6M470.4 106.2Q469.3 106.1 468.8 107M471.2 105.8Q470.4 103.7 471.1 101.6M468.8 107Q467.2 105.3 466 103.3M469.1 98.8Q469.5 99.2 469.8 98.7M471.1 101.6Q469.9 100.4 469.8 98.7M470.2 98.3Q470.1 98.6 469.8 98.7M470.2 98.3Q473.1 98.8 475.9 98M471.1 101.6Q473.8 101.4 476.6 101M475.9 98Q476 99.5 476.6 101M476.3 106.1Q477.1 103.9 477.1 101.5M477.1 101.5Q477.2 100.9 476.6 101M477.1 101.5Q477.6 101.2 478.1 101.3M468.8 107Q468.6 107.6 468 107.8M468 107.8Q467.1 108.2 466.3 107.8M470 114.9Q470 114.7 469.8 114.5M475 118.8Q473.3 120.7 471 121.7M470 114.9Q470.2 115.2 469.8 115.1M464.2 117.7Q465.9 118.6 466 120.5M454.8 114.6Q452.9 114.2 451.2 115.2M451.2 115.2Q450.4 116.3 449.3 117.1M450.7 120.4Q451.2 120.1 451.1 120.7M452.7 110.1Q453.4 112.4 455.3 113.8M450.1 111.3Q450.5 113.3 451.2 115.2M455.3 113.8Q454.7 114 454.8 114.6M448.3 116.8Q448.9 116.7 449.3 117.1M445.9 123.1Q448.6 122.2 450.7 120.4M452.3 124.5Q451.1 122.8 451.1 120.7M457.5 119.7Q458.8 118.4 460.3 117.5M457.5 119.7Q457.8 121.1 458.2 122.5M458.2 122.5Q458.3 123.7 459.6 123.8M461.7 118.1Q463.1 120.3 463.2 123M459.6 123.8Q460.1 124.4 460.7 124M460.7 124Q462.1 123.8 463.2 123M456.2 119Q456.5 120 457.5 119.7M456.5 129.1Q457.4 126 459.6 123.8M464.7 122.9Q463.9 122.4 463.2 123M462.6 129.5Q462.4 126.5 460.7 124M480.8 143.2Q479.7 141.5 480 139.4M480.8 143.2Q481.8 143.8 483 143.8M483 143.8Q484.5 143.5 485.8 142.6M485.8 142.6Q486.4 142.6 486 142.1M477.5 145.7Q476.9 144.9 476.4 144.1M477.5 145.7Q478.9 144.1 480.8 143.2M477.1 139.2Q476.4 140.1 475.2 139.9M477.1 139.2Q478.5 139.3 479.9 139.1M477.5 145.7Q476.9 146.5 477.5 147.4M482.8 148.7Q482.4 146.2 483 143.8M481.3 149.9Q480.4 149.3 480.2 150.3M480.2 150.3Q479.1 148.6 477.5 147.4M487 140.5Q486 140.9 486 142.1M470.2 153.6Q471.4 154.3 472.5 153.3M472.5 153.3Q473.1 151.1 473.2 148.8M473.2 148.8Q471.7 148.2 470.8 146.9M468.1 148.3Q469 146.8 470.8 146.9M468.2 154.7Q469.3 154.3 470.2 153.6M474.4 154.8Q473.9 153.5 472.5 153.3M470.8 144.8Q471.4 145.9 470.8 146.9M477.5 147.4Q475.6 148.8 473.2 148.8M488.8 160.6Q486.1 160.7 483.8 159.4M483.3 160Q484.1 160.3 483.8 159.4M482 129.3Q481.1 129.6 480.7 128.7M480.5 125.4Q480.9 127.1 480.7 128.7M471 122.2Q473.2 123.5 475.2 125.1M474.8 126.1Q475.4 125.8 475.2 125.1M452.5 192.9Q452.6 191.6 453.1 190.4M439.4 185.3Q438.8 186.5 438.4 187.9M437.2 181.4Q436.5 180.4 435.7 181.2M433.9 180.9Q434.7 181.5 435.7 181.2M412.6 180.2Q412.8 180.1 413.1 180M412.6 180.2Q411.2 177.8 409.9 175.3M416.6 175.2Q415.2 177.9 413.1 180M416.6 175.2Q414.4 173.9 412.6 172M412.6 172Q411.8 174.1 409.9 175.3M404.1 177.8Q405.9 176.8 407.4 175.2M409.9 175.3Q408.7 174.6 407.4 175.2M404.6 171.2Q406.1 172.2 406.9 173.9M407.4 175.2Q406.8 174.7 406.9 173.9M426.1 196.8Q424.8 196.2 423.6 195.6M458.7 191.4Q457.2 190 457 188M462.7 186.2Q459.9 186.4 457.4 187.7M457.4 187.7Q457.7 188.5 457 188M458.4 183.4Q457.1 185.4 457.4 187.7M443.2 200.4Q441.9 201.8 440 202.7M442.6 207.2Q441 205.9 439.5 204.6M442.6 207.2Q443.8 205.2 446 204.2M440 202.7Q440.1 203.7 439.5 204.6M443.7 199.3Q444.1 200.1 443.2 200.4M443 208.5Q442.8 207.9 442.6 207.2M443 208.5Q443.2 208.4 443.2 208.6M422.1 115.9Q422.9 117.5 424.4 118.4M418.7 120.4Q420.3 121.2 422.1 121.8M424.4 118.4Q423.5 119.6 423.3 121M423.3 121Q422.8 121.5 422.1 121.8M416.6 114.5Q418.6 115 419.4 116.8M418.3 120.5Q418.8 121.2 418.7 120.4M422 123.2Q422 122.5 422.1 121.8M427.8 123.6Q425.1 123 423.3 121M460.4 115.5Q458.5 114.5 458 112.4M460.4 115.5Q461.6 114.2 463.4 114.1M463.7 112.7Q463.2 111.5 462.2 110.6M455.3 113.8Q456.8 113.5 458 112.4M460.3 117.5Q460.2 116.5 460.4 115.5M464.9 116Q463.9 115.3 463.4 114.1M466.3 107.8Q463.8 108.6 462.2 110.6M458.5 107.7Q458.7 108.7 459.1 109.7M479.6 153.5Q479 153.2 479.1 153.8M479.1 153.8Q478.4 157.6 478.8 161.4M478.8 161.4Q479.2 161.4 479.5 161.7M479.5 161.7Q480.4 161.5 481 160.8M477.5 154.3Q478.3 153.9 479.1 153.8M483.3 160Q482.2 160.7 481 160.8M476.9 161.2Q477.9 160.6 478.8 161.4M479.7 129.7Q477.6 130.1 476 128.8M478.8 133.1Q478.1 133.3 477.4 133.5M475 131.2Q476.2 132.3 477.3 133.5M475 131.2Q476 130.3 476 128.8M480.7 128.7Q479.8 128.8 479.7 129.7M481.4 135.1Q480.1 134.1 478.8 133.1M429.1 192.1Q431.4 192.4 433.6 192.5M405.1 186Q404.9 185.4 404.8 186M411.6 183.3Q412.6 184.7 413.8 186.1M415.2 169.1Q414.7 166.9 413.1 165.3M415.2 169.1Q414.5 171.1 412.6 171.9M413.1 165.3Q411.1 167.4 408.3 168M415.3 169.1Q415.3 169.3 415.2 169.1M412.6 172Q413.2 172 412.6 171.9M413.1 180Q415.8 180.3 418.4 180.7M423.6 195.6Q423.3 195 422.7 194.5M416.3 191.6Q417.7 192.3 419.3 192.3M419.3 192.3Q420.2 192.7 420.1 193.7M429.1 192.1Q428.1 191 427.8 189.4M431.7 186.7Q430.1 187.9 428.1 188.3M427.8 189.4Q428.7 189 428.1 188.3M422.7 194.5Q423.9 192.6 424.2 190.3M427.8 189.4Q425.9 189.5 424.2 190.3M419.3 192.3Q420.3 190.2 420.9 188M415.6 186.6Q415.9 186.4 416.2 186.5M416.2 186.5Q418.3 188 420.8 187.7M416.2 186.5Q417.8 184.5 418.7 182.1M427.1 184.1Q427.1 185.1 426.8 186M426.8 186Q424.4 186.4 422 185.9M421.8 184.3Q422.6 183 423.7 181.8M423.7 181.8Q423.5 181 423.7 181.8M428.1 188.3Q427.6 187.1 426.8 186M420.8 187.7Q422 187.2 422 185.9M418.7 182.1Q419.8 183.9 421.8 184.3M419.8 179Q422.1 180 423.7 181.8"/>
<path id="mR2" d="M438.5 100.2Q441.3 100.2 443.7 101.7M391.7 149.7Q393.6 150.1 395.5 149.8M414.4 127.6Q413.2 130.7 411 133.2M410.5 136.7Q410.4 137.3 409.8 137.6M392 114.7Q394.7 115.6 396.6 117.6M396.6 117.6Q396.6 116.8 396.9 117.6M435.4 104.6Q436.7 104.8 437.4 103.6M435.4 104.6Q435 106.3 433.4 106.9M423.4 149.2Q424.2 149.5 425.1 149.6M425.7 150.5Q425.6 151.7 426.1 152.8M426.1 152.8Q426.4 154.3 425.6 155.6M431.5 151.7Q428.5 151.6 425.7 150.5M391.3 112.1Q392.9 110.8 394.9 110.5M469.5 133.7Q471.2 136.1 471.9 139M467 142.9Q464.7 142.2 462.5 141M396.1 157.4Q395.3 158.8 393.7 159.2M435.4 104.6Q434.3 102.3 433.8 99.9M472.7 139Q473.9 139.7 475.2 139.9M407.3 167.5Q405.4 168.9 404.6 171.2M481.3 149.9Q485 151.2 488 153.8M489.1 151.7Q489.4 152.6 488.6 153.2M488 153.8Q487.3 153.7 487.7 154.3M469.5 133.7Q470.7 133.3 471.7 132.5M438.4 169.7Q441 169.9 443.5 170.6M444.6 169.6Q443.5 169.5 443.5 170.6M436.7 166.6Q437.7 168 438.4 169.7M438 171.2Q437.4 170.2 438.4 169.7M454.8 114.6Q456 116.6 456.2 119M456.2 119Q453.9 120.6 451.1 120.7M449.3 117.1Q450.4 118.6 450.7 120.4M453.1 124.7Q455.4 122.9 458.2 122.5M487.7 154.3Q485.8 155.4 483.8 156M483.8 156Q483.1 157.7 483.8 159.4M435.4 205.8Q437.4 205.1 439.5 204.6M479.6 153.5Q479.6 154.3 480.4 154.1M480.4 154.1Q480.5 157.5 481 160.8M480.2 150.3Q479.7 151.9 479.6 153.5M483.8 156Q481.9 155.3 480.4 154.1M412.6 171.9Q410.1 170.9 408.7 168.5M408.3 168Q408.2 168.5 408.7 168.5M406.9 173.9Q408.1 171.3 408.7 168.5M407.3 167.5Q407.8 167.9 408.3 168M424.2 190.3Q423 188.6 420.9 188M420.9 188Q420.9 187.8 420.8 187.7M421.8 184.3Q422.2 185.1 422 185.9"/>
</defs>
<g filter="url(#blL)" stroke="#2e3226" fill="none" stroke-linecap="round">
<use href="#mR0" stroke-width="0.5"/>
<use href="#mR1" stroke-width="1.0"/>
<use href="#mR2" stroke-width="1.5"/>
</g>
<g stroke="#2e3226" fill="none" stroke-linecap="round" opacity="0.75">
<use href="#mR0" stroke-width="0.4"/>
<use href="#mR1" stroke-width="0.8"/>
<use href="#mR2" stroke-width="1.1"/>
</g>
<path d="M396 106C410 102 425 104 432 110L430 120C420 122 405 122 396 118Z" fill="#6b4a2c" opacity="0.55" filter="url(#bl2)"/>
<ellipse cx="446" cy="188" rx="20" ry="13" fill="#e6e3da" opacity="0.45" filter="url(#bl3)"/>
<path d="M395.6 109.1 394.2 111.1 393.4 113.4 393 116 392.9 118.8 392.9 121.7 393.1 124.6 393.3 127.5 393.3 130.4 393.2 133.2 393.2 136.2 393.2 139.1 393.3 142.2 393.4 145.2 393.6 148.1 394 151.1 394.4 153.9 395 156.7 395.6 159.5 396.4 162.3 397.3 165 398.2 167.7 399.3 170.3 400.3 172.8 401.5 175.2 402.7 177.5 404 179.8 405.4 181.9 406.8 184 408.3 186.1 409.9 188 411.6 189.9 413.3 191.7 415.2 193.4 417.2 195.2 419.2 196.8 421.4 198.4 423.6 199.8 425.7 201.2 427.8 202.4 429.8 203.4 431.7 204.3 433.5 205 435.3 205.6 437 206.1 438.7 206.4 440.4 206.7 442.1 206.9 443.9 207 445.7 207 447.5 207 449.3 206.9 451.1 206.7 452.9 206.4 454.7 205.9 456.4 205.3 458.1 204.6 459.7 203.7 461.2 202.7 462.7 201.6 464.2 200.3 465.6 198.9 467 197.4 468.4 195.8 469.9 194 471.4 192 473 189.9 474.5 187.6 476.1 185.1 477.6 182.6 479.1 180.1 480.5 177.6 481.7 175.2 482.8 172.8 483.9 170.5 484.9 168.1 485.8 165.8 486.6 163.4 487.4 161 488.1 158.7 488.7 156.3 489.3 153.9 489.7 151.5 490.1 149.1 490.5 146.7 490.8 144.3 490.9 142 491.1 139.6 491.1 137.4 491.1 135.2 490.9 133 490.8 130.8 490.5 128.7 490.1 126.6 489.7 124.6 489.3 122.7 488.7 120.9 488 119.2 487.3 117.5 486.4 116 485.5 114.5 484.5 113 483.6 111.7 482.6 110.4 481.7 109.1 480.9 107.9 480.3 106.7 479.8 105.6 479.2 104.6 478.5 103.6 477.6 102.6 476.3 101.8 474.6 101 472.4 100.2 469.8 99.5 466.9 98.8 463.7 98.2 460.4 97.7 456.9 97.3 453.5 97.1 450 97 446.5 97.1 442.7 97.3 438.9 97.7 435 98.2 431.1 98.8 427.2 99.5 423.5 100.2 420 101 416.5 101.7 413 102.4 409.5 103.2 406.1 104 402.9 104.9 400 106.1 397.6 107.4Z" fill="url(#edgeR)"/>
<path d="M478 112C486 122 489 140 487 160C485 176 480 186 474 192L480 194C488 180 493 160 492 138C491 122 486 112 480 106Z" fill="#1c261d" opacity="0.85" filter="url(#bl2)"/>
<path d="M455 168C459 167 463 172 463 179C463 186 461 191 458 193C454 189 453 176 455 168Z" fill="#ddd8cc" opacity="0.7" filter="url(#bl1)"/>
</g>
<path d="M426 95C440 91 465 93 480 99L478 109C460 111 440 110 427 107Z" fill="#3a402f" filter="url(#bl2)"/>
<path d="M394 92C405 88 418 90 428 94L428 105C418 108 402 108 395 106Z" fill="#dcd8d2" filter="url(#bl2)"/>
<path d="M400 78C410 68 420 60 432 56C440 56 448 62 458 72L440 80Z" fill="#d3c6b8" opacity="0.85" filter="url(#bl3)"/>
<path d="M393.5 95 393.2 94.2 393.3 93.3 393.6 92.1 394.2 90.8 394.9 89.5 395.7 88.3 396.4 87.1 397 86 397.5 85.1 398.1 84.2 398.7 83.3 399.3 82.5 399.9 81.7 400.6 80.9 401.3 80.2 402 79.5 402.8 78.8 403.6 78.2 404.4 77.6 405.3 77.1 406.2 76.6 407.2 76 408.1 75.5 409 75 409.9 74.5 410.8 74 411.7 73.5 412.6 73 413.6 72.6 414.6 72.1 415.6 71.5 416.7 71 417.9 70.4 419.1 69.8 420.5 69.1 421.8 68.4 423.2 67.7 424.6 67.1 426 66.5 427.3 66 428.6 65.5 430 65 431.3 64.6 432.7 64.2 434 63.8 435.3 63.6 436.7 63.5 438 63.5 439.3 63.7 440.6 64.1 442 64.6 443.3 65.3 444.6 66 445.9 66.7 447.2 67.4 448.5 68 449.8 68.6 451.1 69.2 452.4 69.9 453.7 70.5 455.1 71.1 456.4 71.8 457.7 72.5 459 73.2 460.3 73.9 461.6 74.6 462.9 75.4 464.2 76.1 465.5 76.9 466.8 77.7 468.2 78.6 469.6 79.5 471.1 80.5 472.8 81.5 474.5 82.5 476.2 83.6 477.9 84.7 479.5 85.8 481 86.9 482.3 88 483.5 89.1 484.6 90.2 485.6 91.4 486.6 92.5 487.4 93.6 488 94.7 488.5 95.6 488.7 96.4 488.7 97.1 488.6 97.7 488.3 98.2 487.8 98.6 487.2 99 486.4 99.3 485.5 99.5 484.4 99.6 483.1 99.6 481.5 99.5 479.8 99.3 477.9 99.1 475.9 98.8 473.9 98.5 471.9 98.2 470 98 468.2 97.8 466.3 97.7 464.4 97.6 462.5 97.5 460.7 97.3 458.8 97.2 456.9 97.1 455 97 453.1 96.9 451.2 96.8 449.4 96.7 447.5 96.6 445.6 96.5 443.8 96.4 441.9 96.2 440 96 438.2 95.7 436.4 95.2 434.6 94.8 432.8 94.2 431 93.8 429.1 93.4 427.1 93.1 425 93 422.7 93.1 420.2 93.4 417.5 93.9 414.8 94.4 412.1 94.9 409.5 95.4 407.1 95.8 405 96 403.1 96.1 401.2 96.2 399.4 96.3 397.8 96.2 396.3 96.1 395.1 95.9 394.2 95.5Z" fill="#bfa58c" filter="url(#fuzz)"/>
<path d="M398 88C420 78 455 78 486 92L485 100C460 99 430 97 400 97Z" fill="#a2693a" opacity="0.9" filter="url(#bl2)"/>
<ellipse cx="432" cy="74" rx="18" ry="6" fill="#d2bda6" opacity="0.7" filter="url(#bl3)"/>
<clipPath id="ccR"><path d="M393.5 95 393.2 94.2 393.3 93.3 393.6 92.1 394.2 90.8 394.9 89.5 395.7 88.3 396.4 87.1 397 86 397.5 85.1 398.1 84.2 398.7 83.3 399.3 82.5 399.9 81.7 400.6 80.9 401.3 80.2 402 79.5 402.8 78.8 403.6 78.2 404.4 77.6 405.3 77.1 406.2 76.6 407.2 76 408.1 75.5 409 75 409.9 74.5 410.8 74 411.7 73.5 412.6 73 413.6 72.6 414.6 72.1 415.6 71.5 416.7 71 417.9 70.4 419.1 69.8 420.5 69.1 421.8 68.4 423.2 67.7 424.6 67.1 426 66.5 427.3 66 428.6 65.5 430 65 431.3 64.6 432.7 64.2 434 63.8 435.3 63.6 436.7 63.5 438 63.5 439.3 63.7 440.6 64.1 442 64.6 443.3 65.3 444.6 66 445.9 66.7 447.2 67.4 448.5 68 449.8 68.6 451.1 69.2 452.4 69.9 453.7 70.5 455.1 71.1 456.4 71.8 457.7 72.5 459 73.2 460.3 73.9 461.6 74.6 462.9 75.4 464.2 76.1 465.5 76.9 466.8 77.7 468.2 78.6 469.6 79.5 471.1 80.5 472.8 81.5 474.5 82.5 476.2 83.6 477.9 84.7 479.5 85.8 481 86.9 482.3 88 483.5 89.1 484.6 90.2 485.6 91.4 486.6 92.5 487.4 93.6 488 94.7 488.5 95.6 488.7 96.4 488.7 97.1 488.6 97.7 488.3 98.2 487.8 98.6 487.2 99 486.4 99.3 485.5 99.5 484.4 99.6 483.1 99.6 481.5 99.5 479.8 99.3 477.9 99.1 475.9 98.8 473.9 98.5 471.9 98.2 470 98 468.2 97.8 466.3 97.7 464.4 97.6 462.5 97.5 460.7 97.3 458.8 97.2 456.9 97.1 455 97 453.1 96.9 451.2 96.8 449.4 96.7 447.5 96.6 445.6 96.5 443.8 96.4 441.9 96.2 440 96 438.2 95.7 436.4 95.2 434.6 94.8 432.8 94.2 431 93.8 429.1 93.4 427.1 93.1 425 93 422.7 93.1 420.2 93.4 417.5 93.9 414.8 94.4 412.1 94.9 409.5 95.4 407.1 95.8 405 96 403.1 96.1 401.2 96.2 399.4 96.3 397.8 96.2 396.3 96.1 395.1 95.9 394.2 95.5Z"/></clipPath>
<g clip-path="url(#ccR)"><rect x="390" y="55" width="100" height="50" filter="url(#mottle)"/><rect x="390" y="55" width="100" height="50" filter="url(#mottle2)"/></g>
<text x="0.8" y="285" font-size="25" font-weight="bold" text-anchor="start" fill="#000" >C</text>
<path d="M8.7 300H250.8V462H8.7Z" fill="none" stroke="#000" stroke-width="1.3"/>
<text x="21.6" y="323" font-size="19.5" font-weight="bold" text-anchor="start" fill="#000" >E9.5</text>
<path d="M26.9 462V465.5M37.6 462V465.5M45.1 462V465.5M51 462V465.5M55.8 462V465.5M59.8 462V465.5M63.3 462V465.5M66.4 462V465.5M69.2 462V467M87.4 462V465.5M98.1 462V465.5M105.6 462V465.5M111.5 462V465.5M116.3 462V465.5M120.3 462V465.5M123.8 462V465.5M126.9 462V465.5M129.7 462V467M147.9 462V465.5M158.6 462V465.5M166.1 462V465.5M172 462V465.5M176.8 462V465.5M180.8 462V465.5M184.3 462V465.5M187.4 462V465.5M190.2 462V467M208.4 462V465.5M219.1 462V465.5M226.6 462V465.5M232.5 462V465.5M237.3 462V465.5M241.3 462V465.5M244.8 462V465.5M247.9 462V465.5M250.7 462V467" stroke="#000" stroke-width="1"/>
<text x="1.4" y="484" font-size="14">10<tspan font-size="11" dy="-4.4">0</tspan></text>
<text x="61.9" y="484" font-size="14">10<tspan font-size="11" dy="-4.4">1</tspan></text>
<text x="122.4" y="484" font-size="14">10<tspan font-size="11" dy="-4.4">2</tspan></text>
<text x="182.9" y="484" font-size="14">10<tspan font-size="11" dy="-4.4">3</tspan></text>
<text x="243.4" y="484" font-size="14">10<tspan font-size="11" dy="-4.4">4</tspan></text>
<text x="133.3" y="507.5" font-size="20" font-weight="bold" text-anchor="middle" fill="#000" >Ter119</text>
<polyline points="11,437.3 12,437.3 12,429 13,429 13,420 14,420 14,420.8 15,420.8 15,416.9 16,416.9 16,417.8 17,417.8 17,411.2 18,411.2 18,409.5 19,409.5 19,410.2 20,410.2 20,416.6 21,416.6 21,427.3 22,427.3 22,420.5 23,420.5 23,425.8 24,425.8 24,417.1 25,417.1 25,416.3 26,416.3 26,412.8 27,412.8 27,423.5 28,423.5 28,419.9 29,419.9 29,420.9 30,420.9 30,423.8 31,423.8 31,426.6 32,426.6 32,429.3 33,429.3 33,427 34,427 34,419.8 35,419.8 35,420.5 36,420.5 36,425.4 37,425.4 37,427.1 38,427.1 38,421.6 39,421.6 39,417.2 40,417.2 40,419.4 41,419.4 41,424.6 42,424.6 42,421.5 43,421.5 43,423.1 44,423.1 44,414.6 45,414.6 45,417.5 46,417.5 46,421.6 47,421.6 47,425.1 48,425.1 48,414.9 49,414.9 49,418.8 50,418.8 50,417.7 51,417.7 51,420.1 52,420.1 52,421.1 53,421.1 53,427.8 54,427.8 54,425.8 55,425.8 55,429.6 56,429.6 56,431.3 57,431.3 57,424.3 58,424.3 58,436 59,436 59,433.8 60,433.8 60,432.9 61,432.9 61,439.9 62,439.9 62,442.6 63,442.6 63,443.6 64,443.6 64,436.6 65,436.6 65,445.6 66,445.6 66,443.2 67,443.2 67,438.7 68,438.7 68,446.9 69,446.9 69,442.6 70,442.6 70,443.2 71,443.2 71,440.3 72,440.3 72,445.2 73,445.2 73,448.4 74,448.4 74,450.4 75,450.4 75,452.4 76,452.4 76,443.5 77,443.5 77,448.5 78,448.5 78,443.8 79,443.8 79,456.3 80,456.3 80,444.5 81,444.5 81,449.5 82,449.5 82,456.9 83,456.9 83,454.5 84,454.5 84,452.8 85,452.8 85,452.9 86,452.9 86,450.8 87,450.8 87,452.1 88,452.1 88,457.5 89,457.5 89,455.6 90,455.6 90,448.6 91,448.6 91,443.7 92,443.7 92,451.1 93,451.1 93,451 94,451 94,449.2 95,449.2 95,456.6 96,456.6 96,449.6 97,449.6 97,446.2 98,446.2 98,445.6 99,445.6 99,451.8 100,451.8 100,451.1 101,451.1 101,448.8 102,448.8 102,441.3 103,441.3 103,438.5 104,438.5 104,441.2 105,441.2 105,438 106,438 106,426.1 107,426.1 107,420.8 108,420.8 108,418.8 109,418.8 109,421.6 110,421.6 110,413.5 111,413.5 111,408 112,408 112,406.2 113,406.2 113,397.5 114,397.5 114,392.6 115,392.6 115,389.2 116,389.2 116,381.8 117,381.8 117,377.8 118,377.8 118,371.7 119,371.7 119,361.8 120,361.8 120,356.7 121,356.7 121,355.6 122,355.6 122,351 123,351 123,349.4 124,349.4 124,340.8 125,340.8 125,336 126,336 126,340.9 127,340.9 127,339.2 128,339.2 128,341.8 129,341.8 129,338.9 130,338.9 130,345.3 131,345.3 131,351.4 132,351.4 132,357 133,357 133,359.9 134,359.9 134,363.5 135,363.5 135,368.3 136,368.3 136,372.1 137,372.1 137,374.8 138,374.8 138,379.3 139,379.3 139,385.7 140,385.7 140,387 141,387 141,388.2 142,388.2 142,396.8 143,396.8 143,411.7 144,411.7 144,416.8 145,416.8 145,422.3 146,422.3 146,426.5 147,426.5 147,433 148,433 148,434.5 149,434.5 149,442.2 150,442.2 150,440.5 151,440.5 151,441.2 152,441.2 152,447.1 153,447.1 153,450.3 154,450.3 154,450.6 155,450.6 155,450.9 156,450.9 156,450.9 157,450.9 157,453.5 158,453.5 158,457.5 159,457.5 159,453.1 160,453.1 160,455.2 161,455.2 161,457.3 162,457.3 162,458.5 163,458.5 163,458.8 164,458.8 164,457.9 165,457.9 165,458.1 166,458.1 166,459.8 167,459.8 167,460.4 168,460.4" fill="none" stroke="#777" stroke-width="2.3" stroke-linejoin="miter" stroke-miterlimit="2"/>
<polyline points="10.5,458.1 11.5,458.1 11.5,457.2 12.5,457.2 12.5,454.3 13.5,454.3 13.5,452 14.5,452 14.5,449.7 15.5,449.7 15.5,454.3 16.5,454.3 16.5,454.7 17.5,454.7 17.5,454.4 18.5,454.4 18.5,455.1 19.5,455.1 19.5,454.6 20.5,454.6 20.5,455.1 21.5,455.1 21.5,452.9 22.5,452.9 22.5,453.9 23.5,453.9 23.5,453.3 24.5,453.3 24.5,453.5 25.5,453.5 25.5,453.5 26.5,453.5 26.5,453.2 27.5,453.2 27.5,451.5 28.5,451.5 28.5,448.9 29.5,448.9 29.5,452 30.5,452 30.5,451.3 31.5,451.3 31.5,449.9 32.5,449.9 32.5,448.6 33.5,448.6 33.5,448.7 34.5,448.7 34.5,448.1 35.5,448.1 35.5,448.9 36.5,448.9 36.5,448.9 37.5,448.9 37.5,448.1 38.5,448.1 38.5,447.4 39.5,447.4 39.5,448.1 40.5,448.1 40.5,447.9 41.5,447.9 41.5,448.3 42.5,448.3 42.5,448.6 43.5,448.6 43.5,447.9 44.5,447.9 44.5,446.6 45.5,446.6 45.5,447 46.5,447 46.5,448.7 47.5,448.7 47.5,447.3 48.5,447.3 48.5,449.6 49.5,449.6 49.5,449.9 50.5,449.9 50.5,448.9 51.5,448.9 51.5,446.5 52.5,446.5 52.5,447.9 53.5,447.9 53.5,448.5 54.5,448.5 54.5,448.7 55.5,448.7 55.5,449 56.5,449 56.5,450 57.5,450 57.5,449.5 58.5,449.5 58.5,449.5 59.5,449.5 59.5,447.4 60.5,447.4 60.5,448.2 61.5,448.2 61.5,446.6 62.5,446.6 62.5,442.9 63.5,442.9 63.5,442.4 64.5,442.4 64.5,442.5 65.5,442.5 65.5,443.7 66.5,443.7 66.5,442 67.5,442 67.5,442.7 68.5,442.7 68.5,438.3 69.5,438.3 69.5,442.7 70.5,442.7 70.5,442.4 71.5,442.4 71.5,441.7 72.5,441.7 72.5,441.7 73.5,441.7 73.5,441.5 74.5,441.5 74.5,444.3 75.5,444.3 75.5,445.9 76.5,445.9 76.5,443.5 77.5,443.5 77.5,442.2 78.5,442.2 78.5,446.4 79.5,446.4 79.5,441.9 80.5,441.9 80.5,445.1 81.5,445.1 81.5,439.6 82.5,439.6 82.5,441.2 83.5,441.2 83.5,441.5 84.5,441.5 84.5,442.6 85.5,442.6 85.5,440.3 86.5,440.3 86.5,439 87.5,439 87.5,444.8 88.5,444.8 88.5,444.9 89.5,444.9 89.5,444.9 90.5,444.9 90.5,441.2 91.5,441.2 91.5,443 92.5,443 92.5,444.5 93.5,444.5 93.5,444.3 94.5,444.3 94.5,442.4 95.5,442.4 95.5,442.6 96.5,442.6 96.5,445 97.5,445 97.5,449.1 98.5,449.1 98.5,442.4 99.5,442.4 99.5,444 100.5,444 100.5,445.4 101.5,445.4 101.5,442.8 102.5,442.8 102.5,443.3 103.5,443.3 103.5,444.5 104.5,444.5 104.5,446 105.5,446 105.5,440.5 106.5,440.5 106.5,439.1 107.5,439.1 107.5,440.2 108.5,440.2 108.5,437.1 109.5,437.1 109.5,433.3 110.5,433.3 110.5,430.1 111.5,430.1 111.5,425.6 112.5,425.6 112.5,422.6 113.5,422.6 113.5,420.5 114.5,420.5 114.5,416.8 115.5,416.8 115.5,412.2 116.5,412.2 116.5,405.6 117.5,405.6 117.5,398.4 118.5,398.4 118.5,391.3 119.5,391.3 119.5,382.4 120.5,382.4 120.5,373.2 121.5,373.2 121.5,368 122.5,368 122.5,363.7 123.5,363.7 123.5,360.3 124.5,360.3 124.5,357.8 125.5,357.8 125.5,355.8 126.5,355.8 126.5,352.9 127.5,352.9 127.5,353.7 128.5,353.7 128.5,352.8 129.5,352.8 129.5,357.3 130.5,357.3 130.5,356.6 131.5,356.6 131.5,355.1 132.5,355.1 132.5,350.6 133.5,350.6 133.5,347.3 134.5,347.3 134.5,347.3 135.5,347.3 135.5,348.1 136.5,348.1 136.5,349.5 137.5,349.5 137.5,354.7 138.5,354.7 138.5,358.2 139.5,358.2 139.5,359.7 140.5,359.7 140.5,364.8 141.5,364.8 141.5,361 142.5,361 142.5,357.6 143.5,357.6 143.5,359.9 144.5,359.9 144.5,376.2 145.5,376.2 145.5,383.2 146.5,383.2 146.5,390.7 147.5,390.7 147.5,396.3 148.5,396.3 148.5,399 149.5,399 149.5,406.6 150.5,406.6 150.5,410.9 151.5,410.9 151.5,415.1 152.5,415.1 152.5,421.5 153.5,421.5 153.5,427 154.5,427 154.5,432.7 155.5,432.7 155.5,437.3 156.5,437.3 156.5,441.7 157.5,441.7 157.5,443.1 158.5,443.1 158.5,448 159.5,448 159.5,449.8 160.5,449.8 160.5,450.4 161.5,450.4 161.5,452.7 162.5,452.7 162.5,453.4 163.5,453.4 163.5,453.6 164.5,453.6 164.5,452.5 165.5,452.5 165.5,455.4 166.5,455.4 166.5,456.6 167.5,456.6 167.5,456.4 168.5,456.4 168.5,458 169.5,458 169.5,458.4 170.5,458.4 170.5,458.6 171.5,458.6 171.5,458.9 172.5,458.9 172.5,459.3 173.5,459.3 173.5,459.7 174.5,459.7" fill="none" stroke="#000" stroke-width="1" stroke-linejoin="miter" stroke-miterlimit="2"/>
<polyline points="10.5,446.4 11.5,446.4 11.5,439 12.5,439 12.5,441.6 13.5,441.6 13.5,438.2 14.5,438.2 14.5,438.1 15.5,438.1 15.5,437 16.5,437 16.5,434.4 17.5,434.4 17.5,425.9 18.5,425.9 18.5,429.2 19.5,429.2 19.5,427.1 20.5,427.1 20.5,424.7 21.5,424.7 21.5,424.8 22.5,424.8 22.5,427.2 23.5,427.2 23.5,434.6 24.5,434.6 24.5,433.3 25.5,433.3 25.5,429.5 26.5,429.5 26.5,426.5 27.5,426.5 27.5,438.7 28.5,438.7 28.5,439.3 29.5,439.3 29.5,439.8 30.5,439.8 30.5,431.7 31.5,431.7 31.5,433.4 32.5,433.4 32.5,432.7 33.5,432.7 33.5,433.4 34.5,433.4 34.5,430.8 35.5,430.8 35.5,427.3 36.5,427.3 36.5,419 37.5,419 37.5,414.8 38.5,414.8 38.5,417 39.5,417 39.5,417.8 40.5,417.8 40.5,415.6 41.5,415.6 41.5,414.4 42.5,414.4 42.5,405.9 43.5,405.9 43.5,407.3 44.5,407.3 44.5,403.9 45.5,403.9 45.5,405.9 46.5,405.9 46.5,402.5 47.5,402.5 47.5,400.3 48.5,400.3 48.5,397.1 49.5,397.1 49.5,404.3 50.5,404.3 50.5,402.4 51.5,402.4 51.5,398.4 52.5,398.4 52.5,393.8 53.5,393.8 53.5,391.3 54.5,391.3 54.5,394.1 55.5,394.1 55.5,391 56.5,391 56.5,394.9 57.5,394.9 57.5,387.4 58.5,387.4 58.5,384.2 59.5,384.2 59.5,387.3 60.5,387.3 60.5,389.9 61.5,389.9 61.5,391.5 62.5,391.5 62.5,383.8 63.5,383.8 63.5,396.3 64.5,396.3 64.5,391.8 65.5,391.8 65.5,392.8 66.5,392.8 66.5,389.6 67.5,389.6 67.5,387.4 68.5,387.4 68.5,388.1 69.5,388.1 69.5,395.3 70.5,395.3 70.5,391.6 71.5,391.6 71.5,398.3 72.5,398.3 72.5,405.2 73.5,405.2 73.5,404.1 74.5,404.1 74.5,404.1 75.5,404.1 75.5,396.2 76.5,396.2 76.5,397.5 77.5,397.5 77.5,400.4 78.5,400.4 78.5,404.6 79.5,404.6 79.5,402.1 80.5,402.1 80.5,404.3 81.5,404.3 81.5,404.5 82.5,404.5 82.5,401.6 83.5,401.6 83.5,402.4 84.5,402.4 84.5,403.5 85.5,403.5 85.5,407.1 86.5,407.1 86.5,404.5 87.5,404.5 87.5,404.9 88.5,404.9 88.5,405.1 89.5,405.1 89.5,413.2 90.5,413.2 90.5,406 91.5,406 91.5,398.2 92.5,398.2 92.5,397.9 93.5,397.9 93.5,398.5 94.5,398.5 94.5,395.5 95.5,395.5 95.5,394.5 96.5,394.5 96.5,392.9 97.5,392.9 97.5,396.7 98.5,396.7 98.5,393.1 99.5,393.1 99.5,388.3 100.5,388.3 100.5,391.7 101.5,391.7 101.5,393.8 102.5,393.8 102.5,385.8 103.5,385.8 103.5,387.4 104.5,387.4 104.5,382.4 105.5,382.4 105.5,382.9 106.5,382.9 106.5,383.8 107.5,383.8 107.5,383.3 108.5,383.3 108.5,381.2 109.5,381.2 109.5,381.3 110.5,381.3 110.5,376.3 111.5,376.3 111.5,378.2 112.5,378.2 112.5,378 113.5,378 113.5,386.3 114.5,386.3 114.5,393.5 115.5,393.5 115.5,401.1 116.5,401.1 116.5,407.8 117.5,407.8 117.5,406.2 118.5,406.2 118.5,410.3 119.5,410.3 119.5,410.8 120.5,410.8 120.5,419.5 121.5,419.5 121.5,422.4 122.5,422.4 122.5,429.1 123.5,429.1 123.5,425.8 124.5,425.8 124.5,430.4 125.5,430.4 125.5,434.5 126.5,434.5 126.5,444.4 127.5,444.4 127.5,445.5 128.5,445.5 128.5,443.8 129.5,443.8 129.5,444.5 130.5,444.5 130.5,448.4 131.5,448.4 131.5,451.5 132.5,451.5 132.5,448.6 133.5,448.6 133.5,449.9 134.5,449.9 134.5,452.8 135.5,452.8 135.5,455.6 136.5,455.6 136.5,456.5 137.5,456.5 137.5,459.1 138.5,459.1 138.5,459.2 139.5,459.2 139.5,459.6 140.5,459.6 140.5,459.9 141.5,459.9 141.5,460.8 142.5,460.8 142.5,460.7 143.5,460.7 143.5,460.6 144.5,460.6 144.5,461.1 145.5,461.1" fill="none" stroke="#e00505" stroke-width="2.4" stroke-linejoin="miter" stroke-miterlimit="2"/>
<path d="M11.1 300.5V461.5" stroke="#cf1518" stroke-width="3.2"/>
<path d="M140 461.2H250" stroke="#e00000" stroke-width="1.2"/>
<path d="M132.2 341.2L176.3 328.4" stroke="#808080" stroke-width="1.8"/>
<path d="M147.5 380.3L187.6 367.8" stroke="#000" stroke-width="1.8"/>
<path d="M82.4 363L102.1 382.7" stroke="#d0141c" stroke-width="1.9"/>
<text x="185.8" y="332.2" font-size="23.3" font-weight="bold" fill="#777">+/-</text>
<text x="195.5" y="371.6" font-size="23.5" font-weight="bold" fill="#000">+/+</text>
<text x="53.2" y="365" font-size="22.5" font-weight="bold" fill="#d0141c">-/-</text>
<text x="271.8" y="285" font-size="24.5" font-weight="bold" text-anchor="start" fill="#000" >D</text>
<text x="416.7" y="291" font-size="20.2" font-weight="bold" text-anchor="middle" fill="#000" >Ter119 expression</text>
<text x="316.2" y="306.8" font-size="15" font-weight="bold" text-anchor="end" fill="#000" >1.5</text>
<text x="316.2" y="361.1" font-size="15" font-weight="bold" text-anchor="end" fill="#000" >1.0</text>
<text x="316.2" y="415.5" font-size="15" font-weight="bold" text-anchor="end" fill="#000" >0.5</text>
<text x="315.3" y="469.4" font-size="14.5" font-weight="bold" text-anchor="end" fill="#000" >0</text>
<text transform="translate(287.2,386.2) rotate(-90)" font-size="16" font-weight="bold" text-anchor="middle">Relative MFI</text>
<rect x="332" y="355.3" width="24.5" height="108.7" fill="#000" stroke="#000" stroke-width="1.3"/>
<rect x="356.5" y="349.9" width="25" height="114.1" fill="#999" stroke="#000" stroke-width="1.3"/>
<path d="M369 349.9V329.8M366 329.8H372" stroke="#000" stroke-width="1.5" fill="none"/>
<rect x="381.5" y="418.4" width="25.5" height="45.6" fill="#fff" stroke="#000" stroke-width="1.3"/>
<path d="M394.2 418.4V415.1M391.2 415.1H397.2" stroke="#000" stroke-width="1.5" fill="none"/>
<rect x="431.2" y="355.3" width="25.5" height="108.7" fill="#000" stroke="#000" stroke-width="1.3"/>
<rect x="456.7" y="357.5" width="25.3" height="106.5" fill="#999" stroke="#000" stroke-width="1.3"/>
<path d="M469.4 357.5V335.8M466.4 335.8H472.4" stroke="#000" stroke-width="1.5" fill="none"/>
<rect x="482" y="393.4" width="24.5" height="70.6" fill="#fff" stroke="#000" stroke-width="1.3"/>
<path d="M494.2 393.4V377.1M491.2 377.1H497.2" stroke="#000" stroke-width="1.5" fill="none"/>
<path d="M320 301H518V464H320Z" fill="none" stroke="#000" stroke-width="1.5"/>
<path d="M320.5 436.8H322.5M320.5 409.7H322.5M320.5 382.5H322.5M320.5 355.3H322.5M320.5 328.2H322.5" stroke="#000" stroke-width="1.2"/>
<path d="M390.2 403.7L390.2 409.1M387.9 405L392.5 407.8M392.5 405L387.9 407.8" stroke="#505050" stroke-width="1.1" stroke-linecap="round" fill="none"/>
<path d="M397.4 403.7L397.4 409.1M395.1 405L399.7 407.8M399.7 405L395.1 407.8" stroke="#505050" stroke-width="1.1" stroke-linecap="round" fill="none"/>
<path d="M493.6 365.7L493.6 371.1M491.3 367L495.9 369.8M495.9 367L491.3 369.8" stroke="#505050" stroke-width="1.1" stroke-linecap="round" fill="none"/>
<text x="342" y="485" font-size="17" font-weight="bold" text-anchor="middle" fill="#000" >+/+</text>
<text x="370" y="485" font-size="17" font-weight="bold" text-anchor="middle" fill="#000" >+/-</text>
<text x="395.5" y="485" font-size="17" font-weight="bold" text-anchor="middle" fill="#000" >-/-</text>
<text x="444.6" y="485" font-size="17" font-weight="bold" text-anchor="middle" fill="#000" >+/+</text>
<text x="472" y="485" font-size="17" font-weight="bold" text-anchor="middle" fill="#000" >+/-</text>
<text x="496.5" y="485" font-size="17" font-weight="bold" text-anchor="middle" fill="#000" >-/-</text>
<text x="369.1" y="507" font-size="20" font-weight="bold" text-anchor="middle" fill="#000" >E9.5</text>
<text x="468.3" y="505" font-size="19.5" font-weight="bold" text-anchor="middle" fill="#000" >E10.5</text>
</svg>
</body></html>
